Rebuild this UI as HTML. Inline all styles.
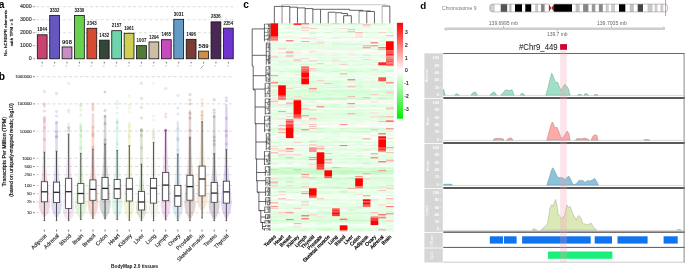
<!DOCTYPE html>
<html><head><meta charset="utf-8"><style>
html,body{margin:0;padding:0;background:#fff;overflow:hidden;width:685px;height:269px;}
svg{display:block;will-change:transform;font-family:"Liberation Sans", sans-serif;}
</style></head><body>
<svg width="685" height="269" viewBox="0 0 685 269">
<rect width="685" height="269" fill="#fff"/>
<text x="-1.30" y="7.80" font-size="10.2" text-anchor="start" fill="#000" font-weight="bold">a</text>
<line x1="32.80" y1="58.80" x2="35.20" y2="58.80" stroke="#444" stroke-width="0.5"/>
<text x="31.70" y="60.30" font-size="5.3" text-anchor="end" fill="#333" stroke="#333" stroke-width="0.15">0</text>
<line x1="36.00" y1="45.77" x2="234.50" y2="45.77" stroke="#c6c6c6" stroke-width="0.6" stroke-dasharray="3.0,2.4"/>
<line x1="32.80" y1="45.77" x2="35.20" y2="45.77" stroke="#444" stroke-width="0.5"/>
<text x="31.70" y="47.27" font-size="5.3" text-anchor="end" fill="#333" stroke="#333" stroke-width="0.15">1000</text>
<line x1="36.00" y1="32.74" x2="234.50" y2="32.74" stroke="#c6c6c6" stroke-width="0.6" stroke-dasharray="3.0,2.4"/>
<line x1="32.80" y1="32.74" x2="35.20" y2="32.74" stroke="#444" stroke-width="0.5"/>
<text x="31.70" y="34.24" font-size="5.3" text-anchor="end" fill="#333" stroke="#333" stroke-width="0.15">2000</text>
<line x1="36.00" y1="19.71" x2="234.50" y2="19.71" stroke="#c6c6c6" stroke-width="0.6" stroke-dasharray="3.0,2.4"/>
<line x1="32.80" y1="19.71" x2="35.20" y2="19.71" stroke="#444" stroke-width="0.5"/>
<text x="31.70" y="21.21" font-size="5.3" text-anchor="end" fill="#333" stroke="#333" stroke-width="0.15">3000</text>
<line x1="36.00" y1="6.68" x2="234.50" y2="6.68" stroke="#c6c6c6" stroke-width="0.6" stroke-dasharray="3.0,2.4"/>
<line x1="32.80" y1="6.68" x2="35.20" y2="6.68" stroke="#444" stroke-width="0.5"/>
<text x="31.70" y="8.18" font-size="5.3" text-anchor="end" fill="#333" stroke="#333" stroke-width="0.15">4000</text>
<rect x="37.30" y="34.77" width="9.8" height="24.03" fill="#c8436f" stroke="#111" stroke-width="0.8"/>
<text x="42.20" y="31.37" font-size="4.9" text-anchor="middle" fill="#111" font-weight="bold" textLength="9.80" lengthAdjust="spacingAndGlyphs">1844</text>
<line x1="42.20" y1="61.80" x2="42.20" y2="63.40" stroke="#333" stroke-width="0.7"/>
<line x1="42.30" y1="65.20" x2="41.10" y2="66.50" stroke="#777" stroke-width="0.6"/>
<rect x="49.71" y="15.38" width="9.8" height="43.42" fill="#6556c0" stroke="#111" stroke-width="0.8"/>
<text x="54.61" y="11.98" font-size="4.9" text-anchor="middle" fill="#111" font-weight="bold" textLength="9.80" lengthAdjust="spacingAndGlyphs">3332</text>
<line x1="54.61" y1="61.80" x2="54.61" y2="63.40" stroke="#333" stroke-width="0.7"/>
<line x1="54.71" y1="65.20" x2="53.51" y2="66.50" stroke="#777" stroke-width="0.6"/>
<rect x="62.12" y="46.97" width="9.8" height="11.83" fill="#c98fc4" stroke="#111" stroke-width="0.8"/>
<text x="67.02" y="43.57" font-size="4.9" text-anchor="middle" fill="#111" font-weight="bold" textLength="9.80" lengthAdjust="spacingAndGlyphs">908</text>
<line x1="67.02" y1="61.80" x2="67.02" y2="63.40" stroke="#333" stroke-width="0.7"/>
<line x1="67.12" y1="65.20" x2="65.92" y2="66.50" stroke="#777" stroke-width="0.6"/>
<rect x="74.53" y="15.41" width="9.8" height="43.39" fill="#6ad14e" stroke="#111" stroke-width="0.8"/>
<text x="79.43" y="12.01" font-size="4.9" text-anchor="middle" fill="#111" font-weight="bold" textLength="9.80" lengthAdjust="spacingAndGlyphs">3330</text>
<line x1="79.43" y1="61.80" x2="79.43" y2="63.40" stroke="#333" stroke-width="0.7"/>
<line x1="79.53" y1="65.20" x2="78.33" y2="66.50" stroke="#777" stroke-width="0.6"/>
<rect x="86.94" y="28.27" width="9.8" height="30.53" fill="#d54a30" stroke="#111" stroke-width="0.8"/>
<text x="91.84" y="24.87" font-size="4.9" text-anchor="middle" fill="#111" font-weight="bold" textLength="9.80" lengthAdjust="spacingAndGlyphs">2343</text>
<line x1="91.84" y1="61.80" x2="91.84" y2="63.40" stroke="#333" stroke-width="0.7"/>
<line x1="91.94" y1="65.20" x2="90.74" y2="66.50" stroke="#777" stroke-width="0.6"/>
<rect x="99.35" y="40.14" width="9.8" height="18.66" fill="#34463a" stroke="#111" stroke-width="0.8"/>
<text x="104.25" y="36.74" font-size="4.9" text-anchor="middle" fill="#111" font-weight="bold" textLength="9.80" lengthAdjust="spacingAndGlyphs">1432</text>
<line x1="104.25" y1="61.80" x2="104.25" y2="63.40" stroke="#333" stroke-width="0.7"/>
<line x1="104.35" y1="65.20" x2="103.15" y2="66.50" stroke="#777" stroke-width="0.6"/>
<rect x="111.76" y="30.69" width="9.8" height="28.11" fill="#6fd3ae" stroke="#111" stroke-width="0.8"/>
<text x="116.66" y="27.29" font-size="4.9" text-anchor="middle" fill="#111" font-weight="bold" textLength="9.80" lengthAdjust="spacingAndGlyphs">2157</text>
<line x1="116.66" y1="61.80" x2="116.66" y2="63.40" stroke="#333" stroke-width="0.7"/>
<line x1="116.76" y1="65.20" x2="115.56" y2="66.50" stroke="#777" stroke-width="0.6"/>
<rect x="124.17" y="33.25" width="9.8" height="25.55" fill="#cfcf52" stroke="#111" stroke-width="0.8"/>
<text x="129.07" y="29.85" font-size="4.9" text-anchor="middle" fill="#111" font-weight="bold" textLength="9.80" lengthAdjust="spacingAndGlyphs">1961</text>
<line x1="129.07" y1="61.80" x2="129.07" y2="63.40" stroke="#333" stroke-width="0.7"/>
<line x1="129.17" y1="65.20" x2="127.97" y2="66.50" stroke="#777" stroke-width="0.6"/>
<rect x="136.58" y="45.68" width="9.8" height="13.12" fill="#527c33" stroke="#111" stroke-width="0.8"/>
<text x="141.48" y="42.28" font-size="4.9" text-anchor="middle" fill="#111" font-weight="bold" textLength="9.80" lengthAdjust="spacingAndGlyphs">1007</text>
<line x1="141.48" y1="61.80" x2="141.48" y2="63.40" stroke="#333" stroke-width="0.7"/>
<line x1="141.58" y1="65.20" x2="140.38" y2="66.50" stroke="#777" stroke-width="0.6"/>
<rect x="148.99" y="41.94" width="9.8" height="16.86" fill="#cdbfa6" stroke="#111" stroke-width="0.8"/>
<text x="153.89" y="38.54" font-size="4.9" text-anchor="middle" fill="#111" font-weight="bold" textLength="9.80" lengthAdjust="spacingAndGlyphs">1294</text>
<line x1="153.89" y1="61.80" x2="153.89" y2="63.40" stroke="#333" stroke-width="0.7"/>
<line x1="153.99" y1="65.20" x2="152.79" y2="66.50" stroke="#777" stroke-width="0.6"/>
<rect x="161.40" y="39.71" width="9.8" height="19.09" fill="#c64bbd" stroke="#111" stroke-width="0.8"/>
<text x="166.30" y="36.31" font-size="4.9" text-anchor="middle" fill="#111" font-weight="bold" textLength="9.80" lengthAdjust="spacingAndGlyphs">1465</text>
<line x1="166.30" y1="61.80" x2="166.30" y2="63.40" stroke="#333" stroke-width="0.7"/>
<line x1="166.40" y1="65.20" x2="165.20" y2="66.50" stroke="#777" stroke-width="0.6"/>
<rect x="173.81" y="19.31" width="9.8" height="39.49" fill="#649bc6" stroke="#111" stroke-width="0.8"/>
<text x="178.71" y="15.91" font-size="4.9" text-anchor="middle" fill="#111" font-weight="bold" textLength="9.80" lengthAdjust="spacingAndGlyphs">3031</text>
<line x1="178.71" y1="61.80" x2="178.71" y2="63.40" stroke="#333" stroke-width="0.7"/>
<line x1="178.81" y1="65.20" x2="177.61" y2="66.50" stroke="#777" stroke-width="0.6"/>
<rect x="186.22" y="39.31" width="9.8" height="19.49" fill="#7b3d33" stroke="#111" stroke-width="0.8"/>
<text x="191.12" y="35.91" font-size="4.9" text-anchor="middle" fill="#111" font-weight="bold" textLength="9.80" lengthAdjust="spacingAndGlyphs">1496</text>
<line x1="191.12" y1="61.80" x2="191.12" y2="63.40" stroke="#333" stroke-width="0.7"/>
<line x1="191.22" y1="65.20" x2="190.02" y2="66.50" stroke="#777" stroke-width="0.6"/>
<rect x="198.63" y="51.13" width="9.8" height="7.67" fill="#d08e45" stroke="#111" stroke-width="0.8"/>
<text x="203.53" y="47.73" font-size="4.9" text-anchor="middle" fill="#111" font-weight="bold" textLength="9.80" lengthAdjust="spacingAndGlyphs">589</text>
<line x1="203.53" y1="61.80" x2="203.53" y2="63.40" stroke="#333" stroke-width="0.7"/>
<line x1="203.63" y1="65.20" x2="200.53" y2="68.60" stroke="#777" stroke-width="0.6"/>
<rect x="211.04" y="21.85" width="9.8" height="36.95" fill="#4a2754" stroke="#111" stroke-width="0.8"/>
<text x="215.94" y="18.45" font-size="4.9" text-anchor="middle" fill="#111" font-weight="bold" textLength="9.80" lengthAdjust="spacingAndGlyphs">2836</text>
<line x1="215.94" y1="61.80" x2="215.94" y2="63.40" stroke="#333" stroke-width="0.7"/>
<line x1="216.04" y1="65.20" x2="214.84" y2="66.50" stroke="#777" stroke-width="0.6"/>
<rect x="223.45" y="28.13" width="9.8" height="30.67" fill="#6f33cf" stroke="#111" stroke-width="0.8"/>
<text x="228.35" y="24.73" font-size="4.9" text-anchor="middle" fill="#111" font-weight="bold" textLength="9.80" lengthAdjust="spacingAndGlyphs">2354</text>
<line x1="228.35" y1="61.80" x2="228.35" y2="63.40" stroke="#333" stroke-width="0.7"/>
<line x1="228.45" y1="65.20" x2="227.25" y2="66.50" stroke="#777" stroke-width="0.6"/>
<text x="6.80" y="33.00" font-size="4.4" text-anchor="middle" fill="#111" transform="rotate(-90 6.80 33.00)" textLength="46.00" lengthAdjust="spacingAndGlyphs" stroke="#111" stroke-width="0.18">No. hCRISPR elements</text>
<text x="13.00" y="32.50" font-size="4.4" text-anchor="middle" fill="#111" transform="rotate(-90 13.00 32.50)" textLength="27.00" lengthAdjust="spacingAndGlyphs" stroke="#111" stroke-width="0.18">with TPM &gt; 5</text>
<text x="-1.20" y="79.60" font-size="10.2" text-anchor="start" fill="#000" font-weight="bold">b</text>
<line x1="36.00" y1="76.70" x2="233.60" y2="76.70" stroke="#c6c6c6" stroke-width="0.6" stroke-dasharray="3.2,2.3"/>
<line x1="33.00" y1="76.70" x2="34.90" y2="76.70" stroke="#333" stroke-width="0.6"/>
<text x="31.70" y="78.20" font-size="4.25" text-anchor="end" fill="#333" stroke="#333" stroke-width="0.1">1000000</text>
<line x1="36.00" y1="103.90" x2="233.60" y2="103.90" stroke="#c6c6c6" stroke-width="0.6" stroke-dasharray="3.2,2.3"/>
<line x1="33.00" y1="103.90" x2="34.90" y2="103.90" stroke="#333" stroke-width="0.6"/>
<text x="31.70" y="105.40" font-size="4.25" text-anchor="end" fill="#333" stroke="#333" stroke-width="0.1">100000</text>
<line x1="36.00" y1="131.10" x2="233.60" y2="131.10" stroke="#c6c6c6" stroke-width="0.6" stroke-dasharray="3.2,2.3"/>
<line x1="33.00" y1="131.10" x2="34.90" y2="131.10" stroke="#333" stroke-width="0.6"/>
<text x="31.70" y="132.60" font-size="4.25" text-anchor="end" fill="#333" stroke="#333" stroke-width="0.1">10000</text>
<line x1="36.00" y1="158.30" x2="233.60" y2="158.30" stroke="#c6c6c6" stroke-width="0.6" stroke-dasharray="3.2,2.3"/>
<line x1="33.00" y1="158.30" x2="34.90" y2="158.30" stroke="#333" stroke-width="0.6"/>
<text x="31.70" y="159.80" font-size="4.25" text-anchor="end" fill="#333" stroke="#333" stroke-width="0.1">1000</text>
<line x1="36.00" y1="166.49" x2="233.60" y2="166.49" stroke="#c6c6c6" stroke-width="0.6" stroke-dasharray="3.2,2.3"/>
<line x1="33.00" y1="166.49" x2="34.90" y2="166.49" stroke="#333" stroke-width="0.6"/>
<text x="31.70" y="167.99" font-size="4.25" text-anchor="end" fill="#333" stroke="#333" stroke-width="0.1">500</text>
<line x1="36.00" y1="174.68" x2="233.60" y2="174.68" stroke="#c6c6c6" stroke-width="0.6" stroke-dasharray="3.2,2.3"/>
<line x1="33.00" y1="174.68" x2="34.90" y2="174.68" stroke="#333" stroke-width="0.6"/>
<text x="31.70" y="176.18" font-size="4.25" text-anchor="end" fill="#333" stroke="#333" stroke-width="0.1">250</text>
<line x1="36.00" y1="185.50" x2="233.60" y2="185.50" stroke="#c6c6c6" stroke-width="0.6" stroke-dasharray="3.2,2.3"/>
<line x1="33.00" y1="185.50" x2="34.90" y2="185.50" stroke="#333" stroke-width="0.6"/>
<text x="31.70" y="187.00" font-size="4.25" text-anchor="end" fill="#333" stroke="#333" stroke-width="0.1">100</text>
<line x1="36.00" y1="193.69" x2="233.60" y2="193.69" stroke="#c6c6c6" stroke-width="0.6" stroke-dasharray="3.2,2.3"/>
<line x1="33.00" y1="193.69" x2="34.90" y2="193.69" stroke="#333" stroke-width="0.6"/>
<text x="31.70" y="195.19" font-size="4.25" text-anchor="end" fill="#333" stroke="#333" stroke-width="0.1">50</text>
<line x1="36.00" y1="201.88" x2="233.60" y2="201.88" stroke="#c6c6c6" stroke-width="0.6" stroke-dasharray="3.2,2.3"/>
<line x1="33.00" y1="201.88" x2="34.90" y2="201.88" stroke="#333" stroke-width="0.6"/>
<text x="31.70" y="203.38" font-size="4.25" text-anchor="end" fill="#333" stroke="#333" stroke-width="0.1">25</text>
<line x1="36.00" y1="212.70" x2="233.60" y2="212.70" stroke="#c6c6c6" stroke-width="0.6" stroke-dasharray="3.2,2.3"/>
<line x1="33.00" y1="212.70" x2="34.90" y2="212.70" stroke="#333" stroke-width="0.6"/>
<text x="31.70" y="214.20" font-size="4.25" text-anchor="end" fill="#333" stroke="#333" stroke-width="0.1">10</text>
<polygon points="45.30,116.00 45.60,118.00 45.75,152.20 46.20,166.95 47.20,178.70 48.00,181.70 49.00,191.80 49.80,201.80 50.00,206.00 48.99,210.95 47.20,214.25 45.63,216.20 44.40,217.00 44.40,217.00 43.17,216.20 41.60,214.25 39.81,210.95 38.80,206.00 39.00,201.80 39.80,191.80 40.80,181.70 41.60,178.70 42.60,166.95 43.05,152.20 43.20,118.00 43.50,116.00" fill="#c8436f" fill-opacity="0.22"/>
<circle cx="44.40" cy="91.50" r="1.2" fill="#c8436f" fill-opacity="0.12" stroke="#c8436f" stroke-opacity="0.26" stroke-width="0.5"/>
<circle cx="44.40" cy="104.00" r="1.2" fill="#c8436f" fill-opacity="0.12" stroke="#c8436f" stroke-opacity="0.26" stroke-width="0.5"/>
<circle cx="44.40" cy="106.00" r="1.2" fill="#c8436f" fill-opacity="0.12" stroke="#c8436f" stroke-opacity="0.26" stroke-width="0.5"/>
<circle cx="44.40" cy="111.00" r="1.2" fill="#c8436f" fill-opacity="0.12" stroke="#c8436f" stroke-opacity="0.26" stroke-width="0.5"/>
<circle cx="44.40" cy="127.72" r="1.2" fill="#c8436f" fill-opacity="0.12" stroke="#c8436f" stroke-opacity="0.26" stroke-width="0.5"/>
<circle cx="44.40" cy="121.46" r="1.2" fill="#c8436f" fill-opacity="0.12" stroke="#c8436f" stroke-opacity="0.26" stroke-width="0.5"/>
<circle cx="44.40" cy="139.56" r="1.2" fill="#c8436f" fill-opacity="0.12" stroke="#c8436f" stroke-opacity="0.26" stroke-width="0.5"/>
<circle cx="44.40" cy="118.62" r="1.2" fill="#c8436f" fill-opacity="0.12" stroke="#c8436f" stroke-opacity="0.26" stroke-width="0.5"/>
<line x1="44.40" y1="152.20" x2="44.40" y2="220.60" stroke="#464646" stroke-width="0.95"/>
<line x1="43.50" y1="152.20" x2="45.30" y2="152.20" stroke="#464646" stroke-width="0.7"/>
<line x1="43.50" y1="220.60" x2="45.30" y2="220.60" stroke="#464646" stroke-width="0.7"/>
<rect x="41.35" y="181.70" width="6.1" height="20.10" fill="#fff" stroke="#444" stroke-width="0.85"/>
<line x1="41.35" y1="191.80" x2="47.45" y2="191.80" stroke="#222" stroke-width="1.3"/>
<line x1="44.40" y1="229.60" x2="44.40" y2="231.50" stroke="#333" stroke-width="0.7"/>
<text x="47.30" y="236.00" font-size="5.5" text-anchor="end" fill="#222" transform="rotate(-45 47.30 236.00)" stroke="#222" stroke-width="0.12">Adipose</text>
<polygon points="57.43,121.00 57.73,123.00 57.88,151.20 58.33,166.65 59.33,179.10 60.13,182.10 61.13,192.30 61.63,202.50 61.83,205.00 60.88,210.85 59.18,214.75 57.70,217.20 56.53,218.00 56.53,218.00 55.36,217.20 53.88,214.75 52.18,210.85 51.23,205.00 51.43,202.50 51.93,192.30 52.93,182.10 53.73,179.10 54.73,166.65 55.18,151.20 55.33,123.00 55.63,121.00" fill="#6556c0" fill-opacity="0.22"/>
<circle cx="56.53" cy="93.50" r="1.2" fill="#6556c0" fill-opacity="0.12" stroke="#6556c0" stroke-opacity="0.26" stroke-width="0.5"/>
<circle cx="56.53" cy="111.50" r="1.2" fill="#6556c0" fill-opacity="0.12" stroke="#6556c0" stroke-opacity="0.26" stroke-width="0.5"/>
<circle cx="56.53" cy="116.00" r="1.2" fill="#6556c0" fill-opacity="0.12" stroke="#6556c0" stroke-opacity="0.26" stroke-width="0.5"/>
<circle cx="56.53" cy="137.18" r="1.2" fill="#6556c0" fill-opacity="0.12" stroke="#6556c0" stroke-opacity="0.26" stroke-width="0.5"/>
<circle cx="56.53" cy="132.04" r="1.2" fill="#6556c0" fill-opacity="0.12" stroke="#6556c0" stroke-opacity="0.26" stroke-width="0.5"/>
<circle cx="56.53" cy="122.75" r="1.2" fill="#6556c0" fill-opacity="0.12" stroke="#6556c0" stroke-opacity="0.26" stroke-width="0.5"/>
<circle cx="56.53" cy="136.32" r="1.2" fill="#6556c0" fill-opacity="0.12" stroke="#6556c0" stroke-opacity="0.26" stroke-width="0.5"/>
<line x1="56.53" y1="151.20" x2="56.53" y2="220.60" stroke="#464646" stroke-width="0.95"/>
<line x1="55.63" y1="151.20" x2="57.43" y2="151.20" stroke="#464646" stroke-width="0.7"/>
<line x1="55.63" y1="220.60" x2="57.43" y2="220.60" stroke="#464646" stroke-width="0.7"/>
<rect x="53.48" y="182.10" width="6.1" height="20.40" fill="#fff" stroke="#444" stroke-width="0.85"/>
<line x1="53.48" y1="192.30" x2="59.58" y2="192.30" stroke="#222" stroke-width="1.3"/>
<line x1="56.53" y1="229.60" x2="56.53" y2="231.50" stroke="#333" stroke-width="0.7"/>
<text x="59.43" y="236.00" font-size="5.5" text-anchor="end" fill="#222" transform="rotate(-45 59.43 236.00)" stroke="#222" stroke-width="0.12">Adrenal</text>
<polygon points="69.56,127.00 69.86,129.00 70.01,134.30 70.46,156.30 71.46,175.30 72.26,178.30 73.26,191.70 74.06,208.50 74.26,212.00 73.25,215.82 71.46,218.38 69.89,219.70 68.66,220.50 68.66,220.50 67.43,219.70 65.86,218.38 64.07,215.82 63.06,212.00 63.26,208.50 64.06,191.70 65.06,178.30 65.86,175.30 66.86,156.30 67.31,134.30 67.46,129.00 67.76,127.00" fill="#c98fc4" fill-opacity="0.22"/>
<circle cx="68.66" cy="83.50" r="1.2" fill="#c98fc4" fill-opacity="0.12" stroke="#c98fc4" stroke-opacity="0.26" stroke-width="0.5"/>
<circle cx="68.66" cy="110.00" r="1.2" fill="#c98fc4" fill-opacity="0.12" stroke="#c98fc4" stroke-opacity="0.26" stroke-width="0.5"/>
<circle cx="68.66" cy="112.00" r="1.2" fill="#c98fc4" fill-opacity="0.12" stroke="#c98fc4" stroke-opacity="0.26" stroke-width="0.5"/>
<circle cx="68.66" cy="124.00" r="1.2" fill="#c98fc4" fill-opacity="0.12" stroke="#c98fc4" stroke-opacity="0.26" stroke-width="0.5"/>
<circle cx="68.66" cy="127.27" r="1.2" fill="#c98fc4" fill-opacity="0.12" stroke="#c98fc4" stroke-opacity="0.26" stroke-width="0.5"/>
<circle cx="68.66" cy="130.17" r="1.2" fill="#c98fc4" fill-opacity="0.12" stroke="#c98fc4" stroke-opacity="0.26" stroke-width="0.5"/>
<circle cx="68.66" cy="127.51" r="1.2" fill="#c98fc4" fill-opacity="0.12" stroke="#c98fc4" stroke-opacity="0.26" stroke-width="0.5"/>
<circle cx="68.66" cy="127.66" r="1.2" fill="#c98fc4" fill-opacity="0.12" stroke="#c98fc4" stroke-opacity="0.26" stroke-width="0.5"/>
<line x1="68.66" y1="134.30" x2="68.66" y2="220.60" stroke="#464646" stroke-width="0.95"/>
<line x1="67.76" y1="134.30" x2="69.56" y2="134.30" stroke="#464646" stroke-width="0.7"/>
<line x1="67.76" y1="220.60" x2="69.56" y2="220.60" stroke="#464646" stroke-width="0.7"/>
<rect x="65.61" y="178.30" width="6.1" height="30.20" fill="#fff" stroke="#444" stroke-width="0.85"/>
<line x1="65.61" y1="191.70" x2="71.71" y2="191.70" stroke="#222" stroke-width="1.3"/>
<line x1="68.66" y1="229.60" x2="68.66" y2="231.50" stroke="#333" stroke-width="0.7"/>
<text x="71.56" y="236.00" font-size="5.5" text-anchor="end" fill="#222" transform="rotate(-45 71.56 236.00)" stroke="#222" stroke-width="0.12">Blood</text>
<polygon points="81.69,123.00 81.99,125.00 82.14,153.40 82.59,168.50 83.59,180.60 84.39,183.60 85.39,193.50 86.39,203.30 86.59,206.00 85.55,211.85 83.69,215.75 82.07,218.20 80.79,219.00 80.79,219.00 79.51,218.20 77.89,215.75 76.03,211.85 74.99,206.00 75.19,203.30 76.19,193.50 77.19,183.60 77.99,180.60 78.99,168.50 79.44,153.40 79.59,125.00 79.89,123.00" fill="#6ad14e" fill-opacity="0.22"/>
<circle cx="80.79" cy="104.50" r="1.2" fill="#6ad14e" fill-opacity="0.12" stroke="#6ad14e" stroke-opacity="0.26" stroke-width="0.5"/>
<circle cx="80.79" cy="106.00" r="1.2" fill="#6ad14e" fill-opacity="0.12" stroke="#6ad14e" stroke-opacity="0.26" stroke-width="0.5"/>
<circle cx="80.79" cy="110.00" r="1.2" fill="#6ad14e" fill-opacity="0.12" stroke="#6ad14e" stroke-opacity="0.26" stroke-width="0.5"/>
<circle cx="80.79" cy="115.00" r="1.2" fill="#6ad14e" fill-opacity="0.12" stroke="#6ad14e" stroke-opacity="0.26" stroke-width="0.5"/>
<circle cx="80.79" cy="135.91" r="1.2" fill="#6ad14e" fill-opacity="0.12" stroke="#6ad14e" stroke-opacity="0.26" stroke-width="0.5"/>
<circle cx="80.79" cy="148.14" r="1.2" fill="#6ad14e" fill-opacity="0.12" stroke="#6ad14e" stroke-opacity="0.26" stroke-width="0.5"/>
<circle cx="80.79" cy="126.76" r="1.2" fill="#6ad14e" fill-opacity="0.12" stroke="#6ad14e" stroke-opacity="0.26" stroke-width="0.5"/>
<circle cx="80.79" cy="129.79" r="1.2" fill="#6ad14e" fill-opacity="0.12" stroke="#6ad14e" stroke-opacity="0.26" stroke-width="0.5"/>
<line x1="80.79" y1="153.40" x2="80.79" y2="219.60" stroke="#464646" stroke-width="0.95"/>
<line x1="79.89" y1="153.40" x2="81.69" y2="153.40" stroke="#464646" stroke-width="0.7"/>
<line x1="79.89" y1="219.60" x2="81.69" y2="219.60" stroke="#464646" stroke-width="0.7"/>
<rect x="77.74" y="183.60" width="6.1" height="19.70" fill="#fff" stroke="#444" stroke-width="0.85"/>
<line x1="77.74" y1="193.50" x2="83.84" y2="193.50" stroke="#222" stroke-width="1.3"/>
<line x1="80.79" y1="229.60" x2="80.79" y2="231.50" stroke="#333" stroke-width="0.7"/>
<text x="83.69" y="236.00" font-size="5.5" text-anchor="end" fill="#222" transform="rotate(-45 83.69 236.00)" stroke="#222" stroke-width="0.12">Brain</text>
<polygon points="93.82,113.00 94.12,115.00 94.27,149.20 94.72,164.55 95.72,176.90 96.52,179.90 97.52,189.40 98.02,200.30 98.22,205.00 97.27,210.85 95.57,214.75 94.09,217.20 92.92,218.00 92.92,218.00 91.75,217.20 90.27,214.75 88.57,210.85 87.62,205.00 87.82,200.30 88.32,189.40 89.32,179.90 90.12,176.90 91.12,164.55 91.57,149.20 91.72,115.00 92.02,113.00" fill="#d54a30" fill-opacity="0.22"/>
<circle cx="92.92" cy="104.00" r="1.2" fill="#d54a30" fill-opacity="0.12" stroke="#d54a30" stroke-opacity="0.26" stroke-width="0.5"/>
<circle cx="92.92" cy="106.00" r="1.2" fill="#d54a30" fill-opacity="0.12" stroke="#d54a30" stroke-opacity="0.26" stroke-width="0.5"/>
<circle cx="92.92" cy="108.00" r="1.2" fill="#d54a30" fill-opacity="0.12" stroke="#d54a30" stroke-opacity="0.26" stroke-width="0.5"/>
<circle cx="92.92" cy="110.00" r="1.2" fill="#d54a30" fill-opacity="0.12" stroke="#d54a30" stroke-opacity="0.26" stroke-width="0.5"/>
<circle cx="92.92" cy="135.71" r="1.2" fill="#d54a30" fill-opacity="0.12" stroke="#d54a30" stroke-opacity="0.26" stroke-width="0.5"/>
<circle cx="92.92" cy="147.31" r="1.2" fill="#d54a30" fill-opacity="0.12" stroke="#d54a30" stroke-opacity="0.26" stroke-width="0.5"/>
<circle cx="92.92" cy="133.89" r="1.2" fill="#d54a30" fill-opacity="0.12" stroke="#d54a30" stroke-opacity="0.26" stroke-width="0.5"/>
<circle cx="92.92" cy="127.36" r="1.2" fill="#d54a30" fill-opacity="0.12" stroke="#d54a30" stroke-opacity="0.26" stroke-width="0.5"/>
<line x1="92.92" y1="149.20" x2="92.92" y2="218.40" stroke="#464646" stroke-width="0.95"/>
<line x1="92.02" y1="149.20" x2="93.82" y2="149.20" stroke="#464646" stroke-width="0.7"/>
<line x1="92.02" y1="218.40" x2="93.82" y2="218.40" stroke="#464646" stroke-width="0.7"/>
<rect x="89.87" y="179.90" width="6.1" height="20.40" fill="#fff" stroke="#444" stroke-width="0.85"/>
<line x1="89.87" y1="189.40" x2="95.97" y2="189.40" stroke="#222" stroke-width="1.3"/>
<line x1="92.92" y1="229.60" x2="92.92" y2="231.50" stroke="#333" stroke-width="0.7"/>
<text x="95.82" y="236.00" font-size="5.5" text-anchor="end" fill="#222" transform="rotate(-45 95.82 236.00)" stroke="#222" stroke-width="0.12">Breast</text>
<polygon points="105.95,115.00 106.25,117.00 106.40,144.20 106.85,160.85 107.85,174.50 108.65,177.50 109.65,188.40 110.35,199.60 110.55,205.00 109.56,211.07 107.80,215.12 106.26,217.70 105.05,218.50 105.05,218.50 103.84,217.70 102.30,215.12 100.54,211.07 99.55,205.00 99.75,199.60 100.45,188.40 101.45,177.50 102.25,174.50 103.25,160.85 103.70,144.20 103.85,117.00 104.15,115.00" fill="#34463a" fill-opacity="0.22"/>
<circle cx="105.05" cy="92.00" r="1.2" fill="#34463a" fill-opacity="0.12" stroke="#34463a" stroke-opacity="0.26" stroke-width="0.5"/>
<circle cx="105.05" cy="110.50" r="1.2" fill="#34463a" fill-opacity="0.12" stroke="#34463a" stroke-opacity="0.26" stroke-width="0.5"/>
<circle cx="105.05" cy="143.51" r="1.2" fill="#34463a" fill-opacity="0.12" stroke="#34463a" stroke-opacity="0.26" stroke-width="0.5"/>
<circle cx="105.05" cy="116.36" r="1.2" fill="#34463a" fill-opacity="0.12" stroke="#34463a" stroke-opacity="0.26" stroke-width="0.5"/>
<circle cx="105.05" cy="140.07" r="1.2" fill="#34463a" fill-opacity="0.12" stroke="#34463a" stroke-opacity="0.26" stroke-width="0.5"/>
<circle cx="105.05" cy="123.46" r="1.2" fill="#34463a" fill-opacity="0.12" stroke="#34463a" stroke-opacity="0.26" stroke-width="0.5"/>
<line x1="105.05" y1="144.20" x2="105.05" y2="218.80" stroke="#464646" stroke-width="0.95"/>
<line x1="104.15" y1="144.20" x2="105.95" y2="144.20" stroke="#464646" stroke-width="0.7"/>
<line x1="104.15" y1="218.80" x2="105.95" y2="218.80" stroke="#464646" stroke-width="0.7"/>
<rect x="102.00" y="177.50" width="6.1" height="22.10" fill="#fff" stroke="#444" stroke-width="0.85"/>
<line x1="102.00" y1="188.40" x2="108.10" y2="188.40" stroke="#222" stroke-width="1.3"/>
<line x1="105.05" y1="229.60" x2="105.05" y2="231.50" stroke="#333" stroke-width="0.7"/>
<text x="107.95" y="236.00" font-size="5.5" text-anchor="end" fill="#222" transform="rotate(-45 107.95 236.00)" stroke="#222" stroke-width="0.12">Colon</text>
<polygon points="118.08,118.00 118.38,120.00 118.53,150.40 118.98,164.95 119.98,176.50 120.78,179.50 121.78,188.80 122.38,198.40 122.58,203.00 121.61,210.20 119.88,215.00 118.37,218.20 117.18,219.00 117.18,219.00 115.99,218.20 114.48,215.00 112.75,210.20 111.78,203.00 111.98,198.40 112.58,188.80 113.58,179.50 114.38,176.50 115.38,164.95 115.83,150.40 115.98,120.00 116.28,118.00" fill="#6fd3ae" fill-opacity="0.22"/>
<circle cx="117.18" cy="101.50" r="1.2" fill="#6fd3ae" fill-opacity="0.12" stroke="#6fd3ae" stroke-opacity="0.26" stroke-width="0.5"/>
<circle cx="117.18" cy="104.00" r="1.2" fill="#6fd3ae" fill-opacity="0.12" stroke="#6fd3ae" stroke-opacity="0.26" stroke-width="0.5"/>
<circle cx="117.18" cy="108.00" r="1.2" fill="#6fd3ae" fill-opacity="0.12" stroke="#6fd3ae" stroke-opacity="0.26" stroke-width="0.5"/>
<circle cx="117.18" cy="113.00" r="1.2" fill="#6fd3ae" fill-opacity="0.12" stroke="#6fd3ae" stroke-opacity="0.26" stroke-width="0.5"/>
<circle cx="117.18" cy="122.67" r="1.2" fill="#6fd3ae" fill-opacity="0.12" stroke="#6fd3ae" stroke-opacity="0.26" stroke-width="0.5"/>
<circle cx="117.18" cy="121.82" r="1.2" fill="#6fd3ae" fill-opacity="0.12" stroke="#6fd3ae" stroke-opacity="0.26" stroke-width="0.5"/>
<circle cx="117.18" cy="127.99" r="1.2" fill="#6fd3ae" fill-opacity="0.12" stroke="#6fd3ae" stroke-opacity="0.26" stroke-width="0.5"/>
<circle cx="117.18" cy="144.44" r="1.2" fill="#6fd3ae" fill-opacity="0.12" stroke="#6fd3ae" stroke-opacity="0.26" stroke-width="0.5"/>
<line x1="117.18" y1="150.40" x2="117.18" y2="219.60" stroke="#464646" stroke-width="0.95"/>
<line x1="116.28" y1="150.40" x2="118.08" y2="150.40" stroke="#464646" stroke-width="0.7"/>
<line x1="116.28" y1="219.60" x2="118.08" y2="219.60" stroke="#464646" stroke-width="0.7"/>
<rect x="114.13" y="179.50" width="6.1" height="18.90" fill="#fff" stroke="#444" stroke-width="0.85"/>
<line x1="114.13" y1="188.80" x2="120.23" y2="188.80" stroke="#222" stroke-width="1.3"/>
<line x1="117.18" y1="229.60" x2="117.18" y2="231.50" stroke="#333" stroke-width="0.7"/>
<text x="120.08" y="236.00" font-size="5.5" text-anchor="end" fill="#222" transform="rotate(-45 120.08 236.00)" stroke="#222" stroke-width="0.12">Heart</text>
<polygon points="130.21,122.00 130.51,124.00 130.66,145.70 131.11,162.00 132.11,175.30 132.91,178.30 133.91,189.00 134.51,201.00 134.71,205.00 133.74,211.53 132.01,215.88 130.50,218.70 129.31,219.50 129.31,219.50 128.12,218.70 126.61,215.88 124.88,211.53 123.91,205.00 124.11,201.00 124.71,189.00 125.71,178.30 126.51,175.30 127.51,162.00 127.96,145.70 128.11,124.00 128.41,122.00" fill="#cfcf52" fill-opacity="0.22"/>
<circle cx="129.31" cy="96.00" r="1.2" fill="#cfcf52" fill-opacity="0.12" stroke="#cfcf52" stroke-opacity="0.26" stroke-width="0.5"/>
<circle cx="129.31" cy="105.00" r="1.2" fill="#cfcf52" fill-opacity="0.12" stroke="#cfcf52" stroke-opacity="0.26" stroke-width="0.5"/>
<circle cx="129.31" cy="108.00" r="1.2" fill="#cfcf52" fill-opacity="0.12" stroke="#cfcf52" stroke-opacity="0.26" stroke-width="0.5"/>
<circle cx="129.31" cy="112.00" r="1.2" fill="#cfcf52" fill-opacity="0.12" stroke="#cfcf52" stroke-opacity="0.26" stroke-width="0.5"/>
<circle cx="129.31" cy="126.28" r="1.2" fill="#cfcf52" fill-opacity="0.12" stroke="#cfcf52" stroke-opacity="0.26" stroke-width="0.5"/>
<circle cx="129.31" cy="135.78" r="1.2" fill="#cfcf52" fill-opacity="0.12" stroke="#cfcf52" stroke-opacity="0.26" stroke-width="0.5"/>
<circle cx="129.31" cy="137.14" r="1.2" fill="#cfcf52" fill-opacity="0.12" stroke="#cfcf52" stroke-opacity="0.26" stroke-width="0.5"/>
<circle cx="129.31" cy="130.83" r="1.2" fill="#cfcf52" fill-opacity="0.12" stroke="#cfcf52" stroke-opacity="0.26" stroke-width="0.5"/>
<line x1="129.31" y1="145.70" x2="129.31" y2="220.30" stroke="#464646" stroke-width="0.95"/>
<line x1="128.41" y1="145.70" x2="130.21" y2="145.70" stroke="#464646" stroke-width="0.7"/>
<line x1="128.41" y1="220.30" x2="130.21" y2="220.30" stroke="#464646" stroke-width="0.7"/>
<rect x="126.26" y="178.30" width="6.1" height="22.70" fill="#fff" stroke="#444" stroke-width="0.85"/>
<line x1="126.26" y1="189.00" x2="132.36" y2="189.00" stroke="#222" stroke-width="1.3"/>
<line x1="129.31" y1="229.60" x2="129.31" y2="231.50" stroke="#333" stroke-width="0.7"/>
<text x="132.21" y="236.00" font-size="5.5" text-anchor="end" fill="#222" transform="rotate(-45 132.21 236.00)" stroke="#222" stroke-width="0.12">Kidney</text>
<polygon points="142.34,128.00 142.64,130.00 142.79,164.10 143.24,177.75 144.24,188.40 145.04,191.40 146.04,202.00 146.94,208.00 145.95,213.40 144.19,217.00 142.65,219.20 141.44,220.00 141.44,220.00 140.23,219.20 138.69,217.00 136.93,213.40 135.94,208.00 136.84,202.00 137.84,191.40 138.64,188.40 139.64,177.75 140.09,164.10 140.24,130.00 140.54,128.00" fill="#527c33" fill-opacity="0.22"/>
<circle cx="141.44" cy="83.40" r="1.2" fill="#527c33" fill-opacity="0.12" stroke="#527c33" stroke-opacity="0.26" stroke-width="0.5"/>
<circle cx="141.44" cy="98.40" r="1.2" fill="#527c33" fill-opacity="0.12" stroke="#527c33" stroke-opacity="0.26" stroke-width="0.5"/>
<circle cx="141.44" cy="107.60" r="1.2" fill="#527c33" fill-opacity="0.12" stroke="#527c33" stroke-opacity="0.26" stroke-width="0.5"/>
<circle cx="141.44" cy="118.00" r="1.2" fill="#527c33" fill-opacity="0.12" stroke="#527c33" stroke-opacity="0.26" stroke-width="0.5"/>
<circle cx="141.44" cy="147.77" r="1.2" fill="#527c33" fill-opacity="0.12" stroke="#527c33" stroke-opacity="0.26" stroke-width="0.5"/>
<circle cx="141.44" cy="130.27" r="1.2" fill="#527c33" fill-opacity="0.12" stroke="#527c33" stroke-opacity="0.26" stroke-width="0.5"/>
<circle cx="141.44" cy="130.15" r="1.2" fill="#527c33" fill-opacity="0.12" stroke="#527c33" stroke-opacity="0.26" stroke-width="0.5"/>
<circle cx="141.44" cy="135.44" r="1.2" fill="#527c33" fill-opacity="0.12" stroke="#527c33" stroke-opacity="0.26" stroke-width="0.5"/>
<line x1="141.44" y1="164.10" x2="141.44" y2="220.60" stroke="#464646" stroke-width="0.95"/>
<line x1="140.54" y1="164.10" x2="142.34" y2="164.10" stroke="#464646" stroke-width="0.7"/>
<line x1="140.54" y1="220.60" x2="142.34" y2="220.60" stroke="#464646" stroke-width="0.7"/>
<rect x="138.39" y="191.40" width="6.1" height="18.60" fill="#fff" stroke="#444" stroke-width="0.85"/>
<line x1="138.39" y1="202.00" x2="144.49" y2="202.00" stroke="#222" stroke-width="1.3"/>
<line x1="141.44" y1="229.60" x2="141.44" y2="231.50" stroke="#333" stroke-width="0.7"/>
<text x="144.34" y="236.00" font-size="5.5" text-anchor="end" fill="#222" transform="rotate(-45 144.34 236.00)" stroke="#222" stroke-width="0.12">Liver</text>
<polygon points="154.47,128.00 154.77,130.00 154.92,142.40 155.37,160.45 156.37,175.50 157.17,178.50 158.17,188.20 158.37,203.10 158.57,205.00 157.67,211.53 156.07,215.88 154.67,218.70 153.57,219.50 153.57,219.50 152.47,218.70 151.07,215.88 149.47,211.53 148.57,205.00 148.77,203.10 148.97,188.20 149.97,178.50 150.77,175.50 151.77,160.45 152.22,142.40 152.37,130.00 152.67,128.00" fill="#cdbfa6" fill-opacity="0.22"/>
<circle cx="153.57" cy="83.40" r="1.2" fill="#cdbfa6" fill-opacity="0.12" stroke="#cdbfa6" stroke-opacity="0.26" stroke-width="0.5"/>
<circle cx="153.57" cy="116.00" r="1.2" fill="#cdbfa6" fill-opacity="0.12" stroke="#cdbfa6" stroke-opacity="0.26" stroke-width="0.5"/>
<circle cx="153.57" cy="120.00" r="1.2" fill="#cdbfa6" fill-opacity="0.12" stroke="#cdbfa6" stroke-opacity="0.26" stroke-width="0.5"/>
<circle cx="153.57" cy="137.80" r="1.2" fill="#cdbfa6" fill-opacity="0.12" stroke="#cdbfa6" stroke-opacity="0.26" stroke-width="0.5"/>
<circle cx="153.57" cy="134.16" r="1.2" fill="#cdbfa6" fill-opacity="0.12" stroke="#cdbfa6" stroke-opacity="0.26" stroke-width="0.5"/>
<circle cx="153.57" cy="132.52" r="1.2" fill="#cdbfa6" fill-opacity="0.12" stroke="#cdbfa6" stroke-opacity="0.26" stroke-width="0.5"/>
<circle cx="153.57" cy="136.43" r="1.2" fill="#cdbfa6" fill-opacity="0.12" stroke="#cdbfa6" stroke-opacity="0.26" stroke-width="0.5"/>
<line x1="153.57" y1="142.40" x2="153.57" y2="220.60" stroke="#464646" stroke-width="0.95"/>
<line x1="152.67" y1="142.40" x2="154.47" y2="142.40" stroke="#464646" stroke-width="0.7"/>
<line x1="152.67" y1="220.60" x2="154.47" y2="220.60" stroke="#464646" stroke-width="0.7"/>
<rect x="150.52" y="178.50" width="6.1" height="24.60" fill="#fff" stroke="#444" stroke-width="0.85"/>
<line x1="150.52" y1="188.20" x2="156.62" y2="188.20" stroke="#222" stroke-width="1.3"/>
<line x1="153.57" y1="229.60" x2="153.57" y2="231.50" stroke="#333" stroke-width="0.7"/>
<text x="156.47" y="236.00" font-size="5.5" text-anchor="end" fill="#222" transform="rotate(-45 156.47 236.00)" stroke="#222" stroke-width="0.12">Lung</text>
<polygon points="166.60,130.00 167.05,130.40 166.90,132.00 167.50,151.45 168.50,169.50 169.30,172.50 170.30,185.10 170.50,200.70 170.70,205.00 169.80,211.53 168.20,215.88 166.80,218.70 165.70,219.50 165.70,219.50 164.60,218.70 163.20,215.88 161.60,211.53 160.70,205.00 160.90,200.70 161.10,185.10 162.10,172.50 162.90,169.50 163.90,151.45 164.50,132.00 164.35,130.40 164.80,130.00" fill="#c64bbd" fill-opacity="0.22"/>
<circle cx="165.70" cy="88.60" r="1.2" fill="#c64bbd" fill-opacity="0.12" stroke="#c64bbd" stroke-opacity="0.26" stroke-width="0.5"/>
<circle cx="165.70" cy="114.00" r="1.2" fill="#c64bbd" fill-opacity="0.12" stroke="#c64bbd" stroke-opacity="0.26" stroke-width="0.5"/>
<circle cx="165.70" cy="117.00" r="1.2" fill="#c64bbd" fill-opacity="0.12" stroke="#c64bbd" stroke-opacity="0.26" stroke-width="0.5"/>
<circle cx="165.70" cy="130.18" r="1.2" fill="#c64bbd" fill-opacity="0.12" stroke="#c64bbd" stroke-opacity="0.26" stroke-width="0.5"/>
<circle cx="165.70" cy="130.12" r="1.2" fill="#c64bbd" fill-opacity="0.12" stroke="#c64bbd" stroke-opacity="0.26" stroke-width="0.5"/>
<circle cx="165.70" cy="130.32" r="1.2" fill="#c64bbd" fill-opacity="0.12" stroke="#c64bbd" stroke-opacity="0.26" stroke-width="0.5"/>
<circle cx="165.70" cy="130.28" r="1.2" fill="#c64bbd" fill-opacity="0.12" stroke="#c64bbd" stroke-opacity="0.26" stroke-width="0.5"/>
<line x1="165.70" y1="130.40" x2="165.70" y2="219.80" stroke="#464646" stroke-width="0.95"/>
<line x1="164.80" y1="130.40" x2="166.60" y2="130.40" stroke="#464646" stroke-width="0.7"/>
<line x1="164.80" y1="219.80" x2="166.60" y2="219.80" stroke="#464646" stroke-width="0.7"/>
<rect x="162.65" y="172.50" width="6.1" height="28.20" fill="#fff" stroke="#444" stroke-width="0.85"/>
<line x1="162.65" y1="185.10" x2="168.75" y2="185.10" stroke="#222" stroke-width="1.3"/>
<line x1="165.70" y1="229.60" x2="165.70" y2="231.50" stroke="#333" stroke-width="0.7"/>
<text x="168.60" y="236.00" font-size="5.5" text-anchor="end" fill="#222" transform="rotate(-45 168.60 236.00)" stroke="#222" stroke-width="0.12">Lymph</text>
<polygon points="178.73,121.00 179.03,123.00 179.18,154.10 179.63,169.75 180.63,182.40 181.43,185.40 182.43,195.90 183.03,206.30 183.23,207.00 182.26,212.62 180.53,216.38 179.02,218.70 177.83,219.50 177.83,219.50 176.64,218.70 175.13,216.38 173.40,212.62 172.43,207.00 172.63,206.30 173.23,195.90 174.23,185.40 175.03,182.40 176.03,169.75 176.48,154.10 176.63,123.00 176.93,121.00" fill="#649bc6" fill-opacity="0.22"/>
<circle cx="177.83" cy="95.40" r="1.2" fill="#649bc6" fill-opacity="0.12" stroke="#649bc6" stroke-opacity="0.26" stroke-width="0.5"/>
<circle cx="177.83" cy="108.00" r="1.2" fill="#649bc6" fill-opacity="0.12" stroke="#649bc6" stroke-opacity="0.26" stroke-width="0.5"/>
<circle cx="177.83" cy="114.00" r="1.2" fill="#649bc6" fill-opacity="0.12" stroke="#649bc6" stroke-opacity="0.26" stroke-width="0.5"/>
<circle cx="177.83" cy="129.08" r="1.2" fill="#649bc6" fill-opacity="0.12" stroke="#649bc6" stroke-opacity="0.26" stroke-width="0.5"/>
<circle cx="177.83" cy="140.01" r="1.2" fill="#649bc6" fill-opacity="0.12" stroke="#649bc6" stroke-opacity="0.26" stroke-width="0.5"/>
<circle cx="177.83" cy="138.38" r="1.2" fill="#649bc6" fill-opacity="0.12" stroke="#649bc6" stroke-opacity="0.26" stroke-width="0.5"/>
<circle cx="177.83" cy="149.97" r="1.2" fill="#649bc6" fill-opacity="0.12" stroke="#649bc6" stroke-opacity="0.26" stroke-width="0.5"/>
<line x1="177.83" y1="154.10" x2="177.83" y2="220.60" stroke="#464646" stroke-width="0.95"/>
<line x1="176.93" y1="154.10" x2="178.73" y2="154.10" stroke="#464646" stroke-width="0.7"/>
<line x1="176.93" y1="220.60" x2="178.73" y2="220.60" stroke="#464646" stroke-width="0.7"/>
<rect x="174.78" y="185.40" width="6.1" height="20.90" fill="#fff" stroke="#444" stroke-width="0.85"/>
<line x1="174.78" y1="195.90" x2="180.88" y2="195.90" stroke="#222" stroke-width="1.3"/>
<line x1="177.83" y1="229.60" x2="177.83" y2="231.50" stroke="#333" stroke-width="0.7"/>
<text x="180.73" y="236.00" font-size="5.5" text-anchor="end" fill="#222" transform="rotate(-45 180.73 236.00)" stroke="#222" stroke-width="0.12">Ovary</text>
<polygon points="190.86,110.00 191.16,112.00 191.31,138.00 191.76,156.65 192.76,172.30 193.56,175.30 194.56,186.60 195.36,200.20 195.56,205.00 194.55,211.30 192.76,215.50 191.19,218.20 189.96,219.00 189.96,219.00 188.73,218.20 187.16,215.50 185.37,211.30 184.36,205.00 184.56,200.20 185.36,186.60 186.36,175.30 187.16,172.30 188.16,156.65 188.61,138.00 188.76,112.00 189.06,110.00" fill="#7b3d33" fill-opacity="0.22"/>
<circle cx="189.96" cy="94.50" r="1.2" fill="#7b3d33" fill-opacity="0.12" stroke="#7b3d33" stroke-opacity="0.26" stroke-width="0.5"/>
<circle cx="189.96" cy="100.00" r="1.2" fill="#7b3d33" fill-opacity="0.12" stroke="#7b3d33" stroke-opacity="0.26" stroke-width="0.5"/>
<circle cx="189.96" cy="104.00" r="1.2" fill="#7b3d33" fill-opacity="0.12" stroke="#7b3d33" stroke-opacity="0.26" stroke-width="0.5"/>
<circle cx="189.96" cy="130.42" r="1.2" fill="#7b3d33" fill-opacity="0.12" stroke="#7b3d33" stroke-opacity="0.26" stroke-width="0.5"/>
<circle cx="189.96" cy="118.06" r="1.2" fill="#7b3d33" fill-opacity="0.12" stroke="#7b3d33" stroke-opacity="0.26" stroke-width="0.5"/>
<circle cx="189.96" cy="137.44" r="1.2" fill="#7b3d33" fill-opacity="0.12" stroke="#7b3d33" stroke-opacity="0.26" stroke-width="0.5"/>
<circle cx="189.96" cy="113.31" r="1.2" fill="#7b3d33" fill-opacity="0.12" stroke="#7b3d33" stroke-opacity="0.26" stroke-width="0.5"/>
<line x1="189.96" y1="138.00" x2="189.96" y2="220.60" stroke="#464646" stroke-width="0.95"/>
<line x1="189.06" y1="138.00" x2="190.86" y2="138.00" stroke="#464646" stroke-width="0.7"/>
<line x1="189.06" y1="220.60" x2="190.86" y2="220.60" stroke="#464646" stroke-width="0.7"/>
<rect x="186.91" y="175.30" width="6.1" height="24.90" fill="#fff" stroke="#444" stroke-width="0.85"/>
<line x1="186.91" y1="186.60" x2="193.01" y2="186.60" stroke="#222" stroke-width="1.3"/>
<line x1="189.96" y1="229.60" x2="189.96" y2="231.50" stroke="#333" stroke-width="0.7"/>
<text x="192.86" y="236.00" font-size="5.5" text-anchor="end" fill="#222" transform="rotate(-45 192.86 236.00)" stroke="#222" stroke-width="0.12">Prostate</text>
<polygon points="202.99,110.00 203.29,112.00 203.44,121.70 203.89,143.90 204.89,163.10 205.69,166.10 206.69,179.00 207.49,195.90 207.69,198.00 206.68,203.85 204.89,207.75 203.32,210.20 202.09,211.00 202.09,211.00 200.86,210.20 199.29,207.75 197.50,203.85 196.49,198.00 196.69,195.90 197.49,179.00 198.49,166.10 199.29,163.10 200.29,143.90 200.74,121.70 200.89,112.00 201.19,110.00" fill="#d08e45" fill-opacity="0.22"/>
<circle cx="202.09" cy="99.70" r="1.2" fill="#d08e45" fill-opacity="0.12" stroke="#d08e45" stroke-opacity="0.26" stroke-width="0.5"/>
<circle cx="202.09" cy="103.00" r="1.2" fill="#d08e45" fill-opacity="0.12" stroke="#d08e45" stroke-opacity="0.26" stroke-width="0.5"/>
<circle cx="202.09" cy="106.00" r="1.2" fill="#d08e45" fill-opacity="0.12" stroke="#d08e45" stroke-opacity="0.26" stroke-width="0.5"/>
<circle cx="202.09" cy="114.89" r="1.2" fill="#d08e45" fill-opacity="0.12" stroke="#d08e45" stroke-opacity="0.26" stroke-width="0.5"/>
<circle cx="202.09" cy="118.86" r="1.2" fill="#d08e45" fill-opacity="0.12" stroke="#d08e45" stroke-opacity="0.26" stroke-width="0.5"/>
<circle cx="202.09" cy="111.78" r="1.2" fill="#d08e45" fill-opacity="0.12" stroke="#d08e45" stroke-opacity="0.26" stroke-width="0.5"/>
<circle cx="202.09" cy="115.72" r="1.2" fill="#d08e45" fill-opacity="0.12" stroke="#d08e45" stroke-opacity="0.26" stroke-width="0.5"/>
<line x1="202.09" y1="121.70" x2="202.09" y2="218.00" stroke="#464646" stroke-width="0.95"/>
<line x1="201.19" y1="121.70" x2="202.99" y2="121.70" stroke="#464646" stroke-width="0.7"/>
<line x1="201.19" y1="218.00" x2="202.99" y2="218.00" stroke="#464646" stroke-width="0.7"/>
<rect x="199.04" y="166.10" width="6.1" height="29.80" fill="#fff" stroke="#444" stroke-width="0.85"/>
<line x1="199.04" y1="179.00" x2="205.14" y2="179.00" stroke="#222" stroke-width="1.3"/>
<line x1="202.09" y1="229.60" x2="202.09" y2="231.50" stroke="#333" stroke-width="0.7"/>
<text x="204.99" y="236.00" font-size="5.5" text-anchor="end" fill="#222" transform="rotate(-45 204.99 236.00)" textLength="36.50" lengthAdjust="spacingAndGlyphs" stroke="#222" stroke-width="0.12">Skeletal muscle</text>
<polygon points="215.12,115.00 215.42,117.00 215.57,153.60 216.02,168.05 217.02,179.50 217.82,182.50 218.82,193.10 219.42,202.30 219.62,206.00 218.65,212.07 216.92,216.12 215.41,218.70 214.22,219.50 214.22,219.50 213.03,218.70 211.52,216.12 209.79,212.07 208.82,206.00 209.02,202.30 209.62,193.10 210.62,182.50 211.42,179.50 212.42,168.05 212.87,153.60 213.02,117.00 213.32,115.00" fill="#4a2754" fill-opacity="0.22"/>
<circle cx="214.22" cy="99.70" r="1.2" fill="#4a2754" fill-opacity="0.12" stroke="#4a2754" stroke-opacity="0.26" stroke-width="0.5"/>
<circle cx="214.22" cy="110.00" r="1.2" fill="#4a2754" fill-opacity="0.12" stroke="#4a2754" stroke-opacity="0.26" stroke-width="0.5"/>
<circle cx="214.22" cy="113.00" r="1.2" fill="#4a2754" fill-opacity="0.12" stroke="#4a2754" stroke-opacity="0.26" stroke-width="0.5"/>
<circle cx="214.22" cy="116.51" r="1.2" fill="#4a2754" fill-opacity="0.12" stroke="#4a2754" stroke-opacity="0.26" stroke-width="0.5"/>
<circle cx="214.22" cy="140.79" r="1.2" fill="#4a2754" fill-opacity="0.12" stroke="#4a2754" stroke-opacity="0.26" stroke-width="0.5"/>
<circle cx="214.22" cy="144.51" r="1.2" fill="#4a2754" fill-opacity="0.12" stroke="#4a2754" stroke-opacity="0.26" stroke-width="0.5"/>
<circle cx="214.22" cy="137.12" r="1.2" fill="#4a2754" fill-opacity="0.12" stroke="#4a2754" stroke-opacity="0.26" stroke-width="0.5"/>
<line x1="214.22" y1="153.60" x2="214.22" y2="220.60" stroke="#464646" stroke-width="0.95"/>
<line x1="213.32" y1="153.60" x2="215.12" y2="153.60" stroke="#464646" stroke-width="0.7"/>
<line x1="213.32" y1="220.60" x2="215.12" y2="220.60" stroke="#464646" stroke-width="0.7"/>
<rect x="211.17" y="182.50" width="6.1" height="19.80" fill="#fff" stroke="#444" stroke-width="0.85"/>
<line x1="211.17" y1="193.10" x2="217.27" y2="193.10" stroke="#222" stroke-width="1.3"/>
<line x1="214.22" y1="229.60" x2="214.22" y2="231.50" stroke="#333" stroke-width="0.7"/>
<text x="217.12" y="236.00" font-size="5.5" text-anchor="end" fill="#222" transform="rotate(-45 217.12 236.00)" stroke="#222" stroke-width="0.12">Testes</text>
<polygon points="227.25,104.00 227.55,106.00 227.70,149.60 228.15,165.40 229.15,178.20 229.95,181.20 230.95,191.90 231.75,203.00 230.78,210.20 229.05,215.00 227.54,218.20 226.35,219.00 226.35,219.00 225.16,218.20 223.65,215.00 221.92,210.20 220.95,203.00 221.75,191.90 222.75,181.20 223.55,178.20 224.55,165.40 225.00,149.60 225.15,106.00 225.45,104.00" fill="#6f33cf" fill-opacity="0.22"/>
<circle cx="226.35" cy="98.00" r="1.2" fill="#6f33cf" fill-opacity="0.12" stroke="#6f33cf" stroke-opacity="0.26" stroke-width="0.5"/>
<circle cx="226.35" cy="101.00" r="1.2" fill="#6f33cf" fill-opacity="0.12" stroke="#6f33cf" stroke-opacity="0.26" stroke-width="0.5"/>
<circle cx="226.35" cy="143.92" r="1.2" fill="#6f33cf" fill-opacity="0.12" stroke="#6f33cf" stroke-opacity="0.26" stroke-width="0.5"/>
<circle cx="226.35" cy="118.31" r="1.2" fill="#6f33cf" fill-opacity="0.12" stroke="#6f33cf" stroke-opacity="0.26" stroke-width="0.5"/>
<circle cx="226.35" cy="135.71" r="1.2" fill="#6f33cf" fill-opacity="0.12" stroke="#6f33cf" stroke-opacity="0.26" stroke-width="0.5"/>
<circle cx="226.35" cy="131.10" r="1.2" fill="#6f33cf" fill-opacity="0.12" stroke="#6f33cf" stroke-opacity="0.26" stroke-width="0.5"/>
<line x1="226.35" y1="149.60" x2="226.35" y2="220.60" stroke="#464646" stroke-width="0.95"/>
<line x1="225.45" y1="149.60" x2="227.25" y2="149.60" stroke="#464646" stroke-width="0.7"/>
<line x1="225.45" y1="220.60" x2="227.25" y2="220.60" stroke="#464646" stroke-width="0.7"/>
<rect x="223.30" y="181.20" width="6.1" height="21.90" fill="#fff" stroke="#444" stroke-width="0.85"/>
<line x1="223.30" y1="191.90" x2="229.40" y2="191.90" stroke="#222" stroke-width="1.3"/>
<line x1="226.35" y1="229.60" x2="226.35" y2="231.50" stroke="#333" stroke-width="0.7"/>
<text x="229.25" y="236.00" font-size="5.5" text-anchor="end" fill="#222" transform="rotate(-45 229.25 236.00)" stroke="#222" stroke-width="0.12">Thyroid</text>
<text x="5.60" y="151.70" font-size="5.35" text-anchor="middle" fill="#111" transform="rotate(-90 5.60 151.70)" textLength="69.60" lengthAdjust="spacingAndGlyphs" stroke="#111" stroke-width="0.18">Transcripts Per Million (TPM)</text>
<text x="12.80" y="150.05" font-size="5.0" text-anchor="middle" fill="#111" transform="rotate(-90 12.80 150.05)" textLength="93.30" lengthAdjust="spacingAndGlyphs" stroke="#111" stroke-width="0.18">(based on uniquely-mapped reads; log10)</text>
<text x="134.65" y="267.60" font-size="5.1" text-anchor="middle" fill="#111" font-weight="bold" textLength="47.10" lengthAdjust="spacingAndGlyphs">BodyMap 2.0 tissues</text>
<text x="243.20" y="7.80" font-size="10.2" text-anchor="start" fill="#000" font-weight="bold">c</text>
<rect x="270.50" y="23.30" width="123.20" height="208.20" fill="#e3fde3"/>
<rect x="270.50" y="23.30" width="7.70" height="13.00" fill="#ff0303"/>
<rect x="270.50" y="36.30" width="7.70" height="1.00" fill="#ff2d2d"/>
<rect x="270.50" y="37.30" width="7.70" height="1.00" fill="#ff4b4b"/>
<rect x="270.50" y="38.30" width="7.70" height="1.00" fill="#ff6969"/>
<rect x="270.50" y="39.30" width="7.70" height="1.00" fill="#ff4b4b"/>
<rect x="270.50" y="40.30" width="7.70" height="1.00" fill="#ff8d8d"/>
<rect x="270.50" y="41.30" width="7.70" height="1.00" fill="#edffed"/>
<rect x="270.50" y="42.30" width="7.70" height="1.00" fill="#f3fff3"/>
<rect x="270.50" y="43.30" width="7.70" height="1.00" fill="#dbffdb"/>
<rect x="270.50" y="44.30" width="7.70" height="1.00" fill="#edffed"/>
<rect x="270.50" y="46.30" width="7.70" height="1.00" fill="#f3fff3"/>
<rect x="270.50" y="49.30" width="7.70" height="1.00" fill="#edffed"/>
<rect x="270.50" y="50.30" width="7.70" height="1.00" fill="#fff9f9"/>
<rect x="270.50" y="51.30" width="7.70" height="1.00" fill="#ffffff"/>
<rect x="270.50" y="52.30" width="7.70" height="1.00" fill="#ffeded"/>
<rect x="270.50" y="53.30" width="7.70" height="1.00" fill="#f9fff9"/>
<rect x="270.50" y="54.30" width="7.70" height="1.00" fill="#edffed"/>
<rect x="270.50" y="56.30" width="7.70" height="1.00" fill="#ffc9c9"/>
<rect x="270.50" y="57.30" width="7.70" height="1.00" fill="#ffcfcf"/>
<rect x="270.50" y="58.30" width="7.70" height="1.00" fill="#edffed"/>
<rect x="270.50" y="61.30" width="7.70" height="1.00" fill="#f3fff3"/>
<rect x="270.50" y="62.30" width="7.70" height="1.00" fill="#f9fff9"/>
<rect x="270.50" y="65.30" width="7.70" height="1.00" fill="#edffed"/>
<rect x="270.50" y="67.30" width="7.70" height="1.00" fill="#f9fff9"/>
<rect x="270.50" y="72.30" width="7.70" height="1.00" fill="#ffffff"/>
<rect x="270.50" y="73.30" width="7.70" height="1.00" fill="#f3fff3"/>
<rect x="270.50" y="74.30" width="7.70" height="1.00" fill="#edffed"/>
<rect x="270.50" y="75.30" width="7.70" height="1.00" fill="#ff8181"/>
<rect x="270.50" y="76.30" width="7.70" height="1.00" fill="#edffed"/>
<rect x="270.50" y="79.30" width="7.70" height="1.00" fill="#f3fff3"/>
<rect x="270.50" y="81.30" width="7.70" height="1.00" fill="#c9f9c9"/>
<rect x="270.50" y="82.30" width="7.70" height="1.00" fill="#ff6969"/>
<rect x="270.50" y="84.30" width="7.70" height="1.00" fill="#edffed"/>
<rect x="270.50" y="85.30" width="7.70" height="1.00" fill="#ffc3c3"/>
<rect x="270.50" y="87.30" width="7.70" height="1.00" fill="#d5ffd5"/>
<rect x="270.50" y="88.30" width="7.70" height="1.00" fill="#ffffff"/>
<rect x="270.50" y="90.30" width="7.70" height="1.00" fill="#cff9cf"/>
<rect x="270.50" y="92.30" width="7.70" height="1.00" fill="#ffe1e1"/>
<rect x="270.50" y="95.30" width="7.70" height="1.00" fill="#cff9cf"/>
<rect x="270.50" y="96.30" width="7.70" height="1.00" fill="#edffed"/>
<rect x="270.50" y="97.30" width="7.70" height="1.00" fill="#d5ffd5"/>
<rect x="270.50" y="98.30" width="7.70" height="1.00" fill="#ffe1e1"/>
<rect x="270.50" y="99.30" width="7.70" height="1.00" fill="#cff9cf"/>
<rect x="270.50" y="100.30" width="7.70" height="1.00" fill="#ffe1e1"/>
<rect x="270.50" y="101.30" width="7.70" height="1.00" fill="#ffabab"/>
<rect x="270.50" y="102.30" width="7.70" height="1.00" fill="#fff9f9"/>
<rect x="270.50" y="103.30" width="7.70" height="1.00" fill="#ffe7e7"/>
<rect x="270.50" y="107.30" width="7.70" height="1.00" fill="#f9fff9"/>
<rect x="270.50" y="108.30" width="7.70" height="1.00" fill="#ffffff"/>
<rect x="270.50" y="111.30" width="7.70" height="1.00" fill="#f3fff3"/>
<rect x="270.50" y="113.30" width="7.70" height="1.00" fill="#dbffdb"/>
<rect x="270.50" y="120.30" width="7.70" height="1.00" fill="#ffffff"/>
<rect x="270.50" y="121.30" width="7.70" height="1.00" fill="#edffed"/>
<rect x="270.50" y="122.30" width="7.70" height="1.00" fill="#f9fff9"/>
<rect x="270.50" y="124.30" width="7.70" height="1.00" fill="#ffffff"/>
<rect x="270.50" y="125.30" width="7.70" height="1.00" fill="#f9fff9"/>
<rect x="270.50" y="126.30" width="7.70" height="1.00" fill="#f3fff3"/>
<rect x="270.50" y="128.30" width="7.70" height="1.00" fill="#cff9cf"/>
<rect x="270.50" y="129.30" width="7.70" height="1.00" fill="#dbffdb"/>
<rect x="270.50" y="133.30" width="7.70" height="1.00" fill="#f9fff9"/>
<rect x="270.50" y="135.30" width="7.70" height="2.00" fill="#f9fff9"/>
<rect x="270.50" y="137.30" width="7.70" height="1.00" fill="#f3fff3"/>
<rect x="270.50" y="138.30" width="7.70" height="1.00" fill="#ffffff"/>
<rect x="270.50" y="140.30" width="7.70" height="1.00" fill="#f9fff9"/>
<rect x="270.50" y="141.30" width="7.70" height="1.00" fill="#dbffdb"/>
<rect x="270.50" y="142.30" width="7.70" height="1.00" fill="#cff9cf"/>
<rect x="270.50" y="143.30" width="7.70" height="1.00" fill="#f9fff9"/>
<rect x="270.50" y="144.30" width="7.70" height="1.00" fill="#edffed"/>
<rect x="270.50" y="145.30" width="7.70" height="1.00" fill="#ffeded"/>
<rect x="270.50" y="146.30" width="7.70" height="1.00" fill="#ffd5d5"/>
<rect x="270.50" y="147.30" width="7.70" height="1.00" fill="#f3fff3"/>
<rect x="270.50" y="148.30" width="7.70" height="1.00" fill="#ffc9c9"/>
<rect x="270.50" y="151.30" width="7.70" height="1.00" fill="#f3fff3"/>
<rect x="270.50" y="152.30" width="7.70" height="1.00" fill="#ffabab"/>
<rect x="270.50" y="154.30" width="7.70" height="1.00" fill="#ffffff"/>
<rect x="270.50" y="155.30" width="7.70" height="1.00" fill="#dbffdb"/>
<rect x="270.50" y="156.30" width="7.70" height="1.00" fill="#edffed"/>
<rect x="270.50" y="157.30" width="7.70" height="1.00" fill="#f9fff9"/>
<rect x="270.50" y="158.30" width="7.70" height="2.00" fill="#d5ffd5"/>
<rect x="270.50" y="160.30" width="7.70" height="1.00" fill="#f9fff9"/>
<rect x="270.50" y="161.30" width="7.70" height="1.00" fill="#edffed"/>
<rect x="270.50" y="163.30" width="7.70" height="1.00" fill="#cff9cf"/>
<rect x="270.50" y="164.30" width="7.70" height="1.00" fill="#edffed"/>
<rect x="270.50" y="165.30" width="7.70" height="1.00" fill="#f3fff3"/>
<rect x="270.50" y="166.30" width="7.70" height="1.00" fill="#f9fff9"/>
<rect x="270.50" y="168.30" width="7.70" height="1.00" fill="#cff9cf"/>
<rect x="270.50" y="169.30" width="7.70" height="1.00" fill="#ffb1b1"/>
<rect x="270.50" y="170.30" width="7.70" height="1.00" fill="#cff9cf"/>
<rect x="270.50" y="171.30" width="7.70" height="1.00" fill="#b7f9b7"/>
<rect x="270.50" y="172.30" width="7.70" height="1.00" fill="#cff9cf"/>
<rect x="270.50" y="173.30" width="7.70" height="1.00" fill="#c3f9c3"/>
<rect x="270.50" y="175.30" width="7.70" height="1.00" fill="#f3fff3"/>
<rect x="270.50" y="176.30" width="7.70" height="1.00" fill="#edffed"/>
<rect x="270.50" y="177.30" width="7.70" height="1.00" fill="#dbffdb"/>
<rect x="270.50" y="178.30" width="7.70" height="1.00" fill="#ffcfcf"/>
<rect x="270.50" y="181.30" width="7.70" height="1.00" fill="#ffbdbd"/>
<rect x="270.50" y="182.30" width="7.70" height="1.00" fill="#ff9f9f"/>
<rect x="270.50" y="185.30" width="7.70" height="1.00" fill="#ffc3c3"/>
<rect x="270.50" y="187.30" width="7.70" height="1.00" fill="#c9f9c9"/>
<rect x="270.50" y="189.30" width="7.70" height="2.00" fill="#f9fff9"/>
<rect x="270.50" y="192.30" width="7.70" height="1.00" fill="#dbffdb"/>
<rect x="270.50" y="193.30" width="7.70" height="1.00" fill="#f3fff3"/>
<rect x="270.50" y="194.30" width="7.70" height="1.00" fill="#f9fff9"/>
<rect x="270.50" y="195.30" width="7.70" height="1.00" fill="#ffdbdb"/>
<rect x="270.50" y="196.30" width="7.70" height="3.00" fill="#f3fff3"/>
<rect x="270.50" y="201.30" width="7.70" height="1.00" fill="#f3fff3"/>
<rect x="270.50" y="202.30" width="7.70" height="1.00" fill="#ff9f9f"/>
<rect x="270.50" y="204.30" width="7.70" height="1.00" fill="#f3fff3"/>
<rect x="270.50" y="206.30" width="7.70" height="1.00" fill="#ff6f6f"/>
<rect x="270.50" y="207.30" width="7.70" height="1.00" fill="#dbffdb"/>
<rect x="270.50" y="208.30" width="7.70" height="1.00" fill="#ffb7b7"/>
<rect x="270.50" y="209.30" width="7.70" height="1.00" fill="#ffffff"/>
<rect x="270.50" y="210.30" width="7.70" height="1.00" fill="#edffed"/>
<rect x="270.50" y="212.30" width="7.70" height="1.00" fill="#d5ffd5"/>
<rect x="270.50" y="213.30" width="7.70" height="1.00" fill="#dbffdb"/>
<rect x="270.50" y="216.30" width="7.70" height="1.00" fill="#d5ffd5"/>
<rect x="270.50" y="219.30" width="7.70" height="1.00" fill="#d5ffd5"/>
<rect x="270.50" y="220.30" width="7.70" height="1.00" fill="#c9f9c9"/>
<rect x="270.50" y="224.30" width="7.70" height="1.00" fill="#f9fff9"/>
<rect x="270.50" y="225.30" width="7.70" height="3.00" fill="#edffed"/>
<rect x="270.50" y="228.30" width="7.70" height="2.00" fill="#d5ffd5"/>
<rect x="278.20" y="23.30" width="7.70" height="1.00" fill="#d5ffd5"/>
<rect x="278.20" y="24.30" width="7.70" height="1.00" fill="#dbffdb"/>
<rect x="278.20" y="25.30" width="7.70" height="1.00" fill="#edffed"/>
<rect x="278.20" y="26.30" width="7.70" height="1.00" fill="#fff9f9"/>
<rect x="278.20" y="27.30" width="7.70" height="1.00" fill="#f9fff9"/>
<rect x="278.20" y="29.30" width="7.70" height="1.00" fill="#fff9f9"/>
<rect x="278.20" y="30.30" width="7.70" height="1.00" fill="#f9fff9"/>
<rect x="278.20" y="31.30" width="7.70" height="1.00" fill="#f3fff3"/>
<rect x="278.20" y="32.30" width="7.70" height="1.00" fill="#d5ffd5"/>
<rect x="278.20" y="33.30" width="7.70" height="1.00" fill="#edffed"/>
<rect x="278.20" y="34.30" width="7.70" height="1.00" fill="#ffffff"/>
<rect x="278.20" y="35.30" width="7.70" height="1.00" fill="#f9fff9"/>
<rect x="278.20" y="36.30" width="7.70" height="1.00" fill="#edffed"/>
<rect x="278.20" y="37.30" width="7.70" height="1.00" fill="#dbffdb"/>
<rect x="278.20" y="38.30" width="7.70" height="2.00" fill="#ffffff"/>
<rect x="278.20" y="40.30" width="7.70" height="1.00" fill="#f9fff9"/>
<rect x="278.20" y="41.30" width="7.70" height="1.00" fill="#edffed"/>
<rect x="278.20" y="42.30" width="7.70" height="1.00" fill="#ffffff"/>
<rect x="278.20" y="43.30" width="7.70" height="1.00" fill="#cff9cf"/>
<rect x="278.20" y="44.30" width="7.70" height="1.00" fill="#edffed"/>
<rect x="278.20" y="48.30" width="7.70" height="1.00" fill="#ffc9c9"/>
<rect x="278.20" y="50.30" width="7.70" height="1.00" fill="#ffffff"/>
<rect x="278.20" y="51.30" width="7.70" height="1.00" fill="#f9fff9"/>
<rect x="278.20" y="52.30" width="7.70" height="1.00" fill="#ffd5d5"/>
<rect x="278.20" y="53.30" width="7.70" height="3.00" fill="#edffed"/>
<rect x="278.20" y="57.30" width="7.70" height="1.00" fill="#dbffdb"/>
<rect x="278.20" y="58.30" width="7.70" height="1.00" fill="#f3fff3"/>
<rect x="278.20" y="59.30" width="7.70" height="1.00" fill="#edffed"/>
<rect x="278.20" y="61.30" width="7.70" height="1.00" fill="#ffe1e1"/>
<rect x="278.20" y="66.30" width="7.70" height="1.00" fill="#f3fff3"/>
<rect x="278.20" y="67.30" width="7.70" height="1.00" fill="#f9fff9"/>
<rect x="278.20" y="69.30" width="7.70" height="1.00" fill="#f3fff3"/>
<rect x="278.20" y="70.30" width="7.70" height="1.00" fill="#dbffdb"/>
<rect x="278.20" y="71.30" width="7.70" height="1.00" fill="#cff9cf"/>
<rect x="278.20" y="72.30" width="7.70" height="1.00" fill="#edffed"/>
<rect x="278.20" y="74.30" width="7.70" height="1.00" fill="#edffed"/>
<rect x="278.20" y="75.30" width="7.70" height="1.00" fill="#ffffff"/>
<rect x="278.20" y="76.30" width="7.70" height="1.00" fill="#edffed"/>
<rect x="278.20" y="77.30" width="7.70" height="1.00" fill="#f3fff3"/>
<rect x="278.20" y="79.30" width="7.70" height="1.00" fill="#f3fff3"/>
<rect x="278.20" y="81.30" width="7.70" height="2.00" fill="#d5ffd5"/>
<rect x="278.20" y="83.30" width="7.70" height="1.00" fill="#ffe7e7"/>
<rect x="278.20" y="84.30" width="7.70" height="1.00" fill="#f3fff3"/>
<rect x="278.20" y="85.30" width="7.70" height="10.00" fill="#ff0303"/>
<rect x="278.20" y="95.30" width="7.70" height="1.00" fill="#ff0f0f"/>
<rect x="278.20" y="96.30" width="7.70" height="1.00" fill="#ff5757"/>
<rect x="278.20" y="97.30" width="7.70" height="1.00" fill="#ff7575"/>
<rect x="278.20" y="98.30" width="7.70" height="1.00" fill="#ff4545"/>
<rect x="278.20" y="99.30" width="7.70" height="1.00" fill="#ff6969"/>
<rect x="278.20" y="100.30" width="7.70" height="1.00" fill="#f3fff3"/>
<rect x="278.20" y="101.30" width="7.70" height="1.00" fill="#fff9f9"/>
<rect x="278.20" y="102.30" width="7.70" height="1.00" fill="#ffffff"/>
<rect x="278.20" y="103.30" width="7.70" height="1.00" fill="#f9fff9"/>
<rect x="278.20" y="104.30" width="7.70" height="1.00" fill="#ffd5d5"/>
<rect x="278.20" y="108.30" width="7.70" height="1.00" fill="#ffffff"/>
<rect x="278.20" y="111.30" width="7.70" height="1.00" fill="#ff8181"/>
<rect x="278.20" y="112.30" width="7.70" height="1.00" fill="#edffed"/>
<rect x="278.20" y="113.30" width="7.70" height="1.00" fill="#d5ffd5"/>
<rect x="278.20" y="116.30" width="7.70" height="1.00" fill="#f9fff9"/>
<rect x="278.20" y="118.30" width="7.70" height="1.00" fill="#ffdbdb"/>
<rect x="278.20" y="120.30" width="7.70" height="1.00" fill="#f9fff9"/>
<rect x="278.20" y="122.30" width="7.70" height="1.00" fill="#f9fff9"/>
<rect x="278.20" y="124.30" width="7.70" height="1.00" fill="#fff3f3"/>
<rect x="278.20" y="125.30" width="7.70" height="1.00" fill="#ff9999"/>
<rect x="278.20" y="126.30" width="7.70" height="1.00" fill="#fff9f9"/>
<rect x="278.20" y="127.30" width="7.70" height="1.00" fill="#edffed"/>
<rect x="278.20" y="128.30" width="7.70" height="1.00" fill="#ffa5a5"/>
<rect x="278.20" y="129.30" width="7.70" height="1.00" fill="#ffabab"/>
<rect x="278.20" y="132.30" width="7.70" height="1.00" fill="#ff8787"/>
<rect x="278.20" y="133.30" width="7.70" height="1.00" fill="#f9fff9"/>
<rect x="278.20" y="134.30" width="7.70" height="1.00" fill="#f3fff3"/>
<rect x="278.20" y="135.30" width="7.70" height="1.00" fill="#f9fff9"/>
<rect x="278.20" y="138.30" width="7.70" height="1.00" fill="#f3fff3"/>
<rect x="278.20" y="140.30" width="7.70" height="1.00" fill="#f3fff3"/>
<rect x="278.20" y="142.30" width="7.70" height="1.00" fill="#dbffdb"/>
<rect x="278.20" y="143.30" width="7.70" height="1.00" fill="#ffffff"/>
<rect x="278.20" y="145.30" width="7.70" height="1.00" fill="#ffe1e1"/>
<rect x="278.20" y="146.30" width="7.70" height="1.00" fill="#ffffff"/>
<rect x="278.20" y="150.30" width="7.70" height="1.00" fill="#ffbdbd"/>
<rect x="278.20" y="151.30" width="7.70" height="1.00" fill="#ffe1e1"/>
<rect x="278.20" y="152.30" width="7.70" height="1.00" fill="#fff9f9"/>
<rect x="278.20" y="154.30" width="7.70" height="1.00" fill="#ffc9c9"/>
<rect x="278.20" y="155.30" width="7.70" height="1.00" fill="#cff9cf"/>
<rect x="278.20" y="156.30" width="7.70" height="1.00" fill="#d5ffd5"/>
<rect x="278.20" y="158.30" width="7.70" height="1.00" fill="#d5ffd5"/>
<rect x="278.20" y="160.30" width="7.70" height="1.00" fill="#f9fff9"/>
<rect x="278.20" y="163.30" width="7.70" height="1.00" fill="#f3fff3"/>
<rect x="278.20" y="164.30" width="7.70" height="1.00" fill="#f9fff9"/>
<rect x="278.20" y="165.30" width="7.70" height="1.00" fill="#ffffff"/>
<rect x="278.20" y="166.30" width="7.70" height="1.00" fill="#f9fff9"/>
<rect x="278.20" y="167.30" width="7.70" height="1.00" fill="#cff9cf"/>
<rect x="278.20" y="168.30" width="7.70" height="1.00" fill="#c3f9c3"/>
<rect x="278.20" y="169.30" width="7.70" height="2.00" fill="#cff9cf"/>
<rect x="278.20" y="171.30" width="7.70" height="1.00" fill="#b7f9b7"/>
<rect x="278.20" y="172.30" width="7.70" height="1.00" fill="#c3f9c3"/>
<rect x="278.20" y="173.30" width="7.70" height="1.00" fill="#c9f9c9"/>
<rect x="278.20" y="175.30" width="7.70" height="1.00" fill="#f9fff9"/>
<rect x="278.20" y="178.30" width="7.70" height="1.00" fill="#c9f9c9"/>
<rect x="278.20" y="179.30" width="7.70" height="2.00" fill="#dbffdb"/>
<rect x="278.20" y="182.30" width="7.70" height="1.00" fill="#edffed"/>
<rect x="278.20" y="184.30" width="7.70" height="1.00" fill="#edffed"/>
<rect x="278.20" y="185.30" width="7.70" height="1.00" fill="#dbffdb"/>
<rect x="278.20" y="187.30" width="7.70" height="1.00" fill="#bdf9bd"/>
<rect x="278.20" y="189.30" width="7.70" height="2.00" fill="#edffed"/>
<rect x="278.20" y="191.30" width="7.70" height="1.00" fill="#ffbdbd"/>
<rect x="278.20" y="193.30" width="7.70" height="1.00" fill="#f3fff3"/>
<rect x="278.20" y="194.30" width="7.70" height="1.00" fill="#ffcfcf"/>
<rect x="278.20" y="195.30" width="7.70" height="2.00" fill="#f9fff9"/>
<rect x="278.20" y="197.30" width="7.70" height="1.00" fill="#ffffff"/>
<rect x="278.20" y="198.30" width="7.70" height="1.00" fill="#ffabab"/>
<rect x="278.20" y="200.30" width="7.70" height="1.00" fill="#edffed"/>
<rect x="278.20" y="201.30" width="7.70" height="2.00" fill="#f9fff9"/>
<rect x="278.20" y="203.30" width="7.70" height="1.00" fill="#ffe1e1"/>
<rect x="278.20" y="204.30" width="7.70" height="1.00" fill="#edffed"/>
<rect x="278.20" y="206.30" width="7.70" height="1.00" fill="#edffed"/>
<rect x="278.20" y="209.30" width="7.70" height="1.00" fill="#fff9f9"/>
<rect x="278.20" y="210.30" width="7.70" height="1.00" fill="#f3fff3"/>
<rect x="278.20" y="212.30" width="7.70" height="1.00" fill="#ffb7b7"/>
<rect x="278.20" y="213.30" width="7.70" height="1.00" fill="#dbffdb"/>
<rect x="278.20" y="214.30" width="7.70" height="1.00" fill="#ffe1e1"/>
<rect x="278.20" y="216.30" width="7.70" height="1.00" fill="#d5ffd5"/>
<rect x="278.20" y="219.30" width="7.70" height="1.00" fill="#f3fff3"/>
<rect x="278.20" y="220.30" width="7.70" height="1.00" fill="#cff9cf"/>
<rect x="278.20" y="223.30" width="7.70" height="1.00" fill="#edffed"/>
<rect x="278.20" y="224.30" width="7.70" height="2.00" fill="#f9fff9"/>
<rect x="278.20" y="226.30" width="7.70" height="1.00" fill="#ffffff"/>
<rect x="278.20" y="228.30" width="7.70" height="3.00" fill="#d5ffd5"/>
<rect x="285.90" y="23.30" width="7.70" height="2.00" fill="#d5ffd5"/>
<rect x="285.90" y="25.30" width="7.70" height="1.00" fill="#ffffff"/>
<rect x="285.90" y="26.30" width="7.70" height="1.00" fill="#fff9f9"/>
<rect x="285.90" y="27.30" width="7.70" height="1.00" fill="#ffe7e7"/>
<rect x="285.90" y="29.30" width="7.70" height="1.00" fill="#fff9f9"/>
<rect x="285.90" y="30.30" width="7.70" height="1.00" fill="#f9fff9"/>
<rect x="285.90" y="32.30" width="7.70" height="1.00" fill="#d5ffd5"/>
<rect x="285.90" y="33.30" width="7.70" height="1.00" fill="#ffffff"/>
<rect x="285.90" y="34.30" width="7.70" height="1.00" fill="#fff9f9"/>
<rect x="285.90" y="35.30" width="7.70" height="1.00" fill="#f3fff3"/>
<rect x="285.90" y="38.30" width="7.70" height="1.00" fill="#ffffff"/>
<rect x="285.90" y="39.30" width="7.70" height="1.00" fill="#fff9f9"/>
<rect x="285.90" y="40.30" width="7.70" height="1.00" fill="#ff5d5d"/>
<rect x="285.90" y="42.30" width="7.70" height="1.00" fill="#ffffff"/>
<rect x="285.90" y="46.30" width="7.70" height="1.00" fill="#f3fff3"/>
<rect x="285.90" y="50.30" width="7.70" height="1.00" fill="#fff3f3"/>
<rect x="285.90" y="51.30" width="7.70" height="1.00" fill="#ffb1b1"/>
<rect x="285.90" y="52.30" width="7.70" height="1.00" fill="#ff9f9f"/>
<rect x="285.90" y="55.30" width="7.70" height="1.00" fill="#ffb7b7"/>
<rect x="285.90" y="56.30" width="7.70" height="1.00" fill="#ffc3c3"/>
<rect x="285.90" y="57.30" width="7.70" height="1.00" fill="#d5ffd5"/>
<rect x="285.90" y="58.30" width="7.70" height="1.00" fill="#f9fff9"/>
<rect x="285.90" y="65.30" width="7.70" height="1.00" fill="#edffed"/>
<rect x="285.90" y="66.30" width="7.70" height="1.00" fill="#f3fff3"/>
<rect x="285.90" y="67.30" width="7.70" height="1.00" fill="#ffffff"/>
<rect x="285.90" y="68.30" width="7.70" height="1.00" fill="#d5ffd5"/>
<rect x="285.90" y="69.30" width="7.70" height="1.00" fill="#edffed"/>
<rect x="285.90" y="70.30" width="7.70" height="1.00" fill="#d5ffd5"/>
<rect x="285.90" y="72.30" width="7.70" height="1.00" fill="#f3fff3"/>
<rect x="285.90" y="73.30" width="7.70" height="1.00" fill="#f9fff9"/>
<rect x="285.90" y="74.30" width="7.70" height="1.00" fill="#edffed"/>
<rect x="285.90" y="75.30" width="7.70" height="1.00" fill="#ffffff"/>
<rect x="285.90" y="76.30" width="7.70" height="1.00" fill="#f9fff9"/>
<rect x="285.90" y="79.30" width="7.70" height="1.00" fill="#f9fff9"/>
<rect x="285.90" y="80.30" width="7.70" height="2.00" fill="#dbffdb"/>
<rect x="285.90" y="82.30" width="7.70" height="1.00" fill="#d5ffd5"/>
<rect x="285.90" y="83.30" width="7.70" height="1.00" fill="#dbffdb"/>
<rect x="285.90" y="84.30" width="7.70" height="1.00" fill="#edffed"/>
<rect x="285.90" y="85.30" width="7.70" height="1.00" fill="#d5ffd5"/>
<rect x="285.90" y="86.30" width="7.70" height="1.00" fill="#edffed"/>
<rect x="285.90" y="87.30" width="7.70" height="1.00" fill="#d5ffd5"/>
<rect x="285.90" y="88.30" width="7.70" height="1.00" fill="#ffc3c3"/>
<rect x="285.90" y="89.30" width="7.70" height="1.00" fill="#edffed"/>
<rect x="285.90" y="90.30" width="7.70" height="3.00" fill="#d5ffd5"/>
<rect x="285.90" y="94.30" width="7.70" height="2.00" fill="#d5ffd5"/>
<rect x="285.90" y="97.30" width="7.70" height="1.00" fill="#d5ffd5"/>
<rect x="285.90" y="98.30" width="7.70" height="1.00" fill="#c9f9c9"/>
<rect x="285.90" y="99.30" width="7.70" height="1.00" fill="#ffd5d5"/>
<rect x="285.90" y="100.30" width="7.70" height="1.00" fill="#fff9f9"/>
<rect x="285.90" y="101.30" width="7.70" height="1.00" fill="#fff3f3"/>
<rect x="285.90" y="102.30" width="7.70" height="1.00" fill="#ffc3c3"/>
<rect x="285.90" y="103.30" width="7.70" height="1.00" fill="#ffa5a5"/>
<rect x="285.90" y="104.30" width="7.70" height="2.00" fill="#cff9cf"/>
<rect x="285.90" y="108.30" width="7.70" height="1.00" fill="#ffffff"/>
<rect x="285.90" y="110.30" width="7.70" height="1.00" fill="#f3fff3"/>
<rect x="285.90" y="111.30" width="7.70" height="1.00" fill="#edffed"/>
<rect x="285.90" y="113.30" width="7.70" height="1.00" fill="#ffbdbd"/>
<rect x="285.90" y="114.30" width="7.70" height="1.00" fill="#f3fff3"/>
<rect x="285.90" y="116.30" width="7.70" height="1.00" fill="#ffd5d5"/>
<rect x="285.90" y="118.30" width="7.70" height="1.00" fill="#f3fff3"/>
<rect x="285.90" y="119.30" width="7.70" height="1.00" fill="#ff6363"/>
<rect x="285.90" y="120.30" width="7.70" height="1.00" fill="#ff7b7b"/>
<rect x="285.90" y="121.30" width="7.70" height="1.00" fill="#ff1515"/>
<rect x="285.90" y="122.30" width="7.70" height="1.00" fill="#ff4b4b"/>
<rect x="285.90" y="123.30" width="7.70" height="1.00" fill="#ff6f6f"/>
<rect x="285.90" y="124.30" width="7.70" height="1.00" fill="#ff1515"/>
<rect x="285.90" y="125.30" width="7.70" height="1.00" fill="#ff0303"/>
<rect x="285.90" y="126.30" width="7.70" height="1.00" fill="#ff0909"/>
<rect x="285.90" y="127.30" width="7.70" height="11.00" fill="#ff0303"/>
<rect x="285.90" y="138.30" width="7.70" height="2.00" fill="#f3fff3"/>
<rect x="285.90" y="140.30" width="7.70" height="2.00" fill="#edffed"/>
<rect x="285.90" y="145.30" width="7.70" height="1.00" fill="#ffe7e7"/>
<rect x="285.90" y="146.30" width="7.70" height="1.00" fill="#ffffff"/>
<rect x="285.90" y="147.30" width="7.70" height="1.00" fill="#f3fff3"/>
<rect x="285.90" y="148.30" width="7.70" height="1.00" fill="#ff5151"/>
<rect x="285.90" y="149.30" width="7.70" height="1.00" fill="#ffb7b7"/>
<rect x="285.90" y="151.30" width="7.70" height="1.00" fill="#ff9999"/>
<rect x="285.90" y="152.30" width="7.70" height="1.00" fill="#ffffff"/>
<rect x="285.90" y="154.30" width="7.70" height="1.00" fill="#ffd5d5"/>
<rect x="285.90" y="155.30" width="7.70" height="1.00" fill="#dbffdb"/>
<rect x="285.90" y="156.30" width="7.70" height="1.00" fill="#edffed"/>
<rect x="285.90" y="157.30" width="7.70" height="1.00" fill="#ffa5a5"/>
<rect x="285.90" y="158.30" width="7.70" height="1.00" fill="#c9f9c9"/>
<rect x="285.90" y="160.30" width="7.70" height="1.00" fill="#f3fff3"/>
<rect x="285.90" y="163.30" width="7.70" height="1.00" fill="#d5ffd5"/>
<rect x="285.90" y="164.30" width="7.70" height="2.00" fill="#f3fff3"/>
<rect x="285.90" y="166.30" width="7.70" height="1.00" fill="#f9fff9"/>
<rect x="285.90" y="167.30" width="7.70" height="1.00" fill="#c9f9c9"/>
<rect x="285.90" y="168.30" width="7.70" height="1.00" fill="#bdf9bd"/>
<rect x="285.90" y="169.30" width="7.70" height="1.00" fill="#c9f9c9"/>
<rect x="285.90" y="170.30" width="7.70" height="1.00" fill="#d5ffd5"/>
<rect x="285.90" y="171.30" width="7.70" height="1.00" fill="#bdf9bd"/>
<rect x="285.90" y="172.30" width="7.70" height="2.00" fill="#c3f9c3"/>
<rect x="285.90" y="175.30" width="7.70" height="1.00" fill="#f3fff3"/>
<rect x="285.90" y="177.30" width="7.70" height="2.00" fill="#cff9cf"/>
<rect x="285.90" y="180.30" width="7.70" height="1.00" fill="#d5ffd5"/>
<rect x="285.90" y="181.30" width="7.70" height="1.00" fill="#ffc9c9"/>
<rect x="285.90" y="185.30" width="7.70" height="1.00" fill="#ffcfcf"/>
<rect x="285.90" y="186.30" width="7.70" height="1.00" fill="#dbffdb"/>
<rect x="285.90" y="187.30" width="7.70" height="1.00" fill="#c3f9c3"/>
<rect x="285.90" y="192.30" width="7.70" height="1.00" fill="#d5ffd5"/>
<rect x="285.90" y="193.30" width="7.70" height="2.00" fill="#f3fff3"/>
<rect x="285.90" y="195.30" width="7.70" height="1.00" fill="#ffffff"/>
<rect x="285.90" y="196.30" width="7.70" height="1.00" fill="#fff9f9"/>
<rect x="285.90" y="197.30" width="7.70" height="2.00" fill="#ffffff"/>
<rect x="285.90" y="199.30" width="7.70" height="1.00" fill="#ffd5d5"/>
<rect x="285.90" y="201.30" width="7.70" height="2.00" fill="#ffffff"/>
<rect x="285.90" y="203.30" width="7.70" height="1.00" fill="#f3fff3"/>
<rect x="285.90" y="207.30" width="7.70" height="1.00" fill="#d5ffd5"/>
<rect x="285.90" y="209.30" width="7.70" height="1.00" fill="#f9fff9"/>
<rect x="285.90" y="212.30" width="7.70" height="1.00" fill="#ff6f6f"/>
<rect x="285.90" y="213.30" width="7.70" height="1.00" fill="#cff9cf"/>
<rect x="285.90" y="219.30" width="7.70" height="1.00" fill="#ff5151"/>
<rect x="285.90" y="220.30" width="7.70" height="1.00" fill="#cff9cf"/>
<rect x="285.90" y="223.30" width="7.70" height="3.00" fill="#f9fff9"/>
<rect x="285.90" y="229.30" width="7.70" height="2.00" fill="#dbffdb"/>
<rect x="293.60" y="23.30" width="7.70" height="2.00" fill="#ff3333"/>
<rect x="293.60" y="25.30" width="7.70" height="1.00" fill="#f3fff3"/>
<rect x="293.60" y="26.30" width="7.70" height="1.00" fill="#f9fff9"/>
<rect x="293.60" y="27.30" width="7.70" height="1.00" fill="#fff9f9"/>
<rect x="293.60" y="28.30" width="7.70" height="1.00" fill="#edffed"/>
<rect x="293.60" y="29.30" width="7.70" height="1.00" fill="#f9fff9"/>
<rect x="293.60" y="31.30" width="7.70" height="1.00" fill="#f9fff9"/>
<rect x="293.60" y="33.30" width="7.70" height="1.00" fill="#f9fff9"/>
<rect x="293.60" y="34.30" width="7.70" height="3.00" fill="#f3fff3"/>
<rect x="293.60" y="38.30" width="7.70" height="1.00" fill="#fff3f3"/>
<rect x="293.60" y="39.30" width="7.70" height="1.00" fill="#fff9f9"/>
<rect x="293.60" y="40.30" width="7.70" height="1.00" fill="#f3fff3"/>
<rect x="293.60" y="42.30" width="7.70" height="1.00" fill="#ffffff"/>
<rect x="293.60" y="43.30" width="7.70" height="1.00" fill="#cff9cf"/>
<rect x="293.60" y="46.30" width="7.70" height="1.00" fill="#edffed"/>
<rect x="293.60" y="48.30" width="7.70" height="1.00" fill="#dbffdb"/>
<rect x="293.60" y="50.30" width="7.70" height="2.00" fill="#fff3f3"/>
<rect x="293.60" y="52.30" width="7.70" height="1.00" fill="#ffeded"/>
<rect x="293.60" y="54.30" width="7.70" height="1.00" fill="#f3fff3"/>
<rect x="293.60" y="56.30" width="7.70" height="1.00" fill="#fff9f9"/>
<rect x="293.60" y="57.30" width="7.70" height="1.00" fill="#dbffdb"/>
<rect x="293.60" y="58.30" width="7.70" height="1.00" fill="#f3fff3"/>
<rect x="293.60" y="59.30" width="7.70" height="1.00" fill="#ffb7b7"/>
<rect x="293.60" y="60.30" width="7.70" height="1.00" fill="#ffc9c9"/>
<rect x="293.60" y="63.30" width="7.70" height="1.00" fill="#f3fff3"/>
<rect x="293.60" y="65.30" width="7.70" height="1.00" fill="#f3fff3"/>
<rect x="293.60" y="66.30" width="7.70" height="1.00" fill="#edffed"/>
<rect x="293.60" y="67.30" width="7.70" height="1.00" fill="#ffffff"/>
<rect x="293.60" y="68.30" width="7.70" height="1.00" fill="#dbffdb"/>
<rect x="293.60" y="69.30" width="7.70" height="1.00" fill="#edffed"/>
<rect x="293.60" y="70.30" width="7.70" height="1.00" fill="#cff9cf"/>
<rect x="293.60" y="71.30" width="7.70" height="1.00" fill="#c9f9c9"/>
<rect x="293.60" y="73.30" width="7.70" height="1.00" fill="#f3fff3"/>
<rect x="293.60" y="74.30" width="7.70" height="1.00" fill="#ffdbdb"/>
<rect x="293.60" y="75.30" width="7.70" height="2.00" fill="#edffed"/>
<rect x="293.60" y="79.30" width="7.70" height="1.00" fill="#f3fff3"/>
<rect x="293.60" y="81.30" width="7.70" height="2.00" fill="#dbffdb"/>
<rect x="293.60" y="84.30" width="7.70" height="1.00" fill="#f3fff3"/>
<rect x="293.60" y="87.30" width="7.70" height="1.00" fill="#cff9cf"/>
<rect x="293.60" y="88.30" width="7.70" height="1.00" fill="#f9fff9"/>
<rect x="293.60" y="90.30" width="7.70" height="1.00" fill="#c9f9c9"/>
<rect x="293.60" y="91.30" width="7.70" height="1.00" fill="#d5ffd5"/>
<rect x="293.60" y="92.30" width="7.70" height="1.00" fill="#cff9cf"/>
<rect x="293.60" y="93.30" width="7.70" height="1.00" fill="#dbffdb"/>
<rect x="293.60" y="95.30" width="7.70" height="1.00" fill="#dbffdb"/>
<rect x="293.60" y="96.30" width="7.70" height="1.00" fill="#ffcfcf"/>
<rect x="293.60" y="98.30" width="7.70" height="1.00" fill="#d5ffd5"/>
<rect x="293.60" y="99.30" width="7.70" height="1.00" fill="#ffabab"/>
<rect x="293.60" y="100.30" width="7.70" height="14.00" fill="#ff0303"/>
<rect x="293.60" y="114.30" width="7.70" height="1.00" fill="#ff0909"/>
<rect x="293.60" y="115.30" width="7.70" height="1.00" fill="#ff2d2d"/>
<rect x="293.60" y="116.30" width="7.70" height="1.00" fill="#ff2121"/>
<rect x="293.60" y="117.30" width="7.70" height="1.00" fill="#ff5757"/>
<rect x="293.60" y="118.30" width="7.70" height="1.00" fill="#ff9393"/>
<rect x="293.60" y="119.30" width="7.70" height="1.00" fill="#ffe1e1"/>
<rect x="293.60" y="122.30" width="7.70" height="1.00" fill="#f9fff9"/>
<rect x="293.60" y="124.30" width="7.70" height="1.00" fill="#fff3f3"/>
<rect x="293.60" y="125.30" width="7.70" height="1.00" fill="#ffdbdb"/>
<rect x="293.60" y="126.30" width="7.70" height="1.00" fill="#ffffff"/>
<rect x="293.60" y="127.30" width="7.70" height="1.00" fill="#ffe1e1"/>
<rect x="293.60" y="128.30" width="7.70" height="1.00" fill="#c9f9c9"/>
<rect x="293.60" y="131.30" width="7.70" height="1.00" fill="#cff9cf"/>
<rect x="293.60" y="132.30" width="7.70" height="1.00" fill="#f3fff3"/>
<rect x="293.60" y="133.30" width="7.70" height="1.00" fill="#edffed"/>
<rect x="293.60" y="134.30" width="7.70" height="3.00" fill="#f9fff9"/>
<rect x="293.60" y="138.30" width="7.70" height="1.00" fill="#edffed"/>
<rect x="293.60" y="139.30" width="7.70" height="1.00" fill="#f3fff3"/>
<rect x="293.60" y="140.30" width="7.70" height="1.00" fill="#f9fff9"/>
<rect x="293.60" y="141.30" width="7.70" height="1.00" fill="#d5ffd5"/>
<rect x="293.60" y="142.30" width="7.70" height="1.00" fill="#ffbdbd"/>
<rect x="293.60" y="143.30" width="7.70" height="1.00" fill="#f9fff9"/>
<rect x="293.60" y="144.30" width="7.70" height="1.00" fill="#edffed"/>
<rect x="293.60" y="145.30" width="7.70" height="1.00" fill="#ffe1e1"/>
<rect x="293.60" y="146.30" width="7.70" height="1.00" fill="#fff9f9"/>
<rect x="293.60" y="147.30" width="7.70" height="1.00" fill="#f9fff9"/>
<rect x="293.60" y="151.30" width="7.70" height="1.00" fill="#f3fff3"/>
<rect x="293.60" y="152.30" width="7.70" height="1.00" fill="#ffffff"/>
<rect x="293.60" y="154.30" width="7.70" height="1.00" fill="#ffc9c9"/>
<rect x="293.60" y="155.30" width="7.70" height="1.00" fill="#dbffdb"/>
<rect x="293.60" y="157.30" width="7.70" height="1.00" fill="#f3fff3"/>
<rect x="293.60" y="158.30" width="7.70" height="1.00" fill="#cff9cf"/>
<rect x="293.60" y="160.30" width="7.70" height="1.00" fill="#f9fff9"/>
<rect x="293.60" y="161.30" width="7.70" height="1.00" fill="#dbffdb"/>
<rect x="293.60" y="162.30" width="7.70" height="2.00" fill="#edffed"/>
<rect x="293.60" y="164.30" width="7.70" height="1.00" fill="#ffffff"/>
<rect x="293.60" y="165.30" width="7.70" height="1.00" fill="#f3fff3"/>
<rect x="293.60" y="166.30" width="7.70" height="1.00" fill="#edffed"/>
<rect x="293.60" y="167.30" width="7.70" height="1.00" fill="#d5ffd5"/>
<rect x="293.60" y="168.30" width="7.70" height="1.00" fill="#c9f9c9"/>
<rect x="293.60" y="169.30" width="7.70" height="1.00" fill="#ffa5a5"/>
<rect x="293.60" y="170.30" width="7.70" height="1.00" fill="#bdf9bd"/>
<rect x="293.60" y="171.30" width="7.70" height="1.00" fill="#b1f9b1"/>
<rect x="293.60" y="172.30" width="7.70" height="2.00" fill="#c3f9c3"/>
<rect x="293.60" y="174.30" width="7.70" height="1.00" fill="#dbffdb"/>
<rect x="293.60" y="175.30" width="7.70" height="1.00" fill="#f9fff9"/>
<rect x="293.60" y="176.30" width="7.70" height="1.00" fill="#f3fff3"/>
<rect x="293.60" y="177.30" width="7.70" height="4.00" fill="#dbffdb"/>
<rect x="293.60" y="181.30" width="7.70" height="1.00" fill="#f3fff3"/>
<rect x="293.60" y="186.30" width="7.70" height="1.00" fill="#dbffdb"/>
<rect x="293.60" y="187.30" width="7.70" height="1.00" fill="#c9f9c9"/>
<rect x="293.60" y="189.30" width="7.70" height="1.00" fill="#f3fff3"/>
<rect x="293.60" y="192.30" width="7.70" height="1.00" fill="#cff9cf"/>
<rect x="293.60" y="193.30" width="7.70" height="2.00" fill="#f9fff9"/>
<rect x="293.60" y="195.30" width="7.70" height="1.00" fill="#ffffff"/>
<rect x="293.60" y="196.30" width="7.70" height="1.00" fill="#f3fff3"/>
<rect x="293.60" y="197.30" width="7.70" height="1.00" fill="#f9fff9"/>
<rect x="293.60" y="198.30" width="7.70" height="1.00" fill="#fff9f9"/>
<rect x="293.60" y="201.30" width="7.70" height="2.00" fill="#f3fff3"/>
<rect x="293.60" y="203.30" width="7.70" height="1.00" fill="#edffed"/>
<rect x="293.60" y="204.30" width="7.70" height="1.00" fill="#f3fff3"/>
<rect x="293.60" y="207.30" width="7.70" height="1.00" fill="#d5ffd5"/>
<rect x="293.60" y="208.30" width="7.70" height="1.00" fill="#ffbdbd"/>
<rect x="293.60" y="209.30" width="7.70" height="1.00" fill="#f3fff3"/>
<rect x="293.60" y="210.30" width="7.70" height="1.00" fill="#f9fff9"/>
<rect x="293.60" y="211.30" width="7.70" height="1.00" fill="#f3fff3"/>
<rect x="293.60" y="216.30" width="7.70" height="1.00" fill="#d5ffd5"/>
<rect x="293.60" y="220.30" width="7.70" height="1.00" fill="#cff9cf"/>
<rect x="293.60" y="221.30" width="7.70" height="1.00" fill="#dbffdb"/>
<rect x="293.60" y="222.30" width="7.70" height="1.00" fill="#f3fff3"/>
<rect x="293.60" y="223.30" width="7.70" height="1.00" fill="#ff9393"/>
<rect x="293.60" y="224.30" width="7.70" height="2.00" fill="#f3fff3"/>
<rect x="293.60" y="226.30" width="7.70" height="1.00" fill="#ffdbdb"/>
<rect x="293.60" y="229.30" width="7.70" height="1.00" fill="#d5ffd5"/>
<rect x="301.30" y="23.30" width="7.70" height="1.00" fill="#ff5151"/>
<rect x="301.30" y="26.30" width="7.70" height="1.00" fill="#ffeded"/>
<rect x="301.30" y="27.30" width="7.70" height="1.00" fill="#ffb7b7"/>
<rect x="301.30" y="29.30" width="7.70" height="1.00" fill="#edffed"/>
<rect x="301.30" y="30.30" width="7.70" height="1.00" fill="#ffc3c3"/>
<rect x="301.30" y="31.30" width="7.70" height="1.00" fill="#fff9f9"/>
<rect x="301.30" y="33.30" width="7.70" height="1.00" fill="#ffffff"/>
<rect x="301.30" y="34.30" width="7.70" height="1.00" fill="#fff9f9"/>
<rect x="301.30" y="35.30" width="7.70" height="2.00" fill="#ffffff"/>
<rect x="301.30" y="37.30" width="7.70" height="1.00" fill="#ffdbdb"/>
<rect x="301.30" y="38.30" width="7.70" height="1.00" fill="#ffd5d5"/>
<rect x="301.30" y="39.30" width="7.70" height="1.00" fill="#ffffff"/>
<rect x="301.30" y="40.30" width="7.70" height="1.00" fill="#f3fff3"/>
<rect x="301.30" y="41.30" width="7.70" height="1.00" fill="#ff8787"/>
<rect x="301.30" y="42.30" width="7.70" height="1.00" fill="#ffffff"/>
<rect x="301.30" y="43.30" width="7.70" height="1.00" fill="#dbffdb"/>
<rect x="301.30" y="49.30" width="7.70" height="1.00" fill="#f3fff3"/>
<rect x="301.30" y="50.30" width="7.70" height="1.00" fill="#fff3f3"/>
<rect x="301.30" y="51.30" width="7.70" height="1.00" fill="#ffffff"/>
<rect x="301.30" y="52.30" width="7.70" height="1.00" fill="#fff9f9"/>
<rect x="301.30" y="53.30" width="7.70" height="2.00" fill="#edffed"/>
<rect x="301.30" y="56.30" width="7.70" height="1.00" fill="#f9fff9"/>
<rect x="301.30" y="58.30" width="7.70" height="1.00" fill="#ffcfcf"/>
<rect x="301.30" y="59.30" width="7.70" height="1.00" fill="#edffed"/>
<rect x="301.30" y="62.30" width="7.70" height="1.00" fill="#edffed"/>
<rect x="301.30" y="64.30" width="7.70" height="1.00" fill="#cff9cf"/>
<rect x="301.30" y="65.30" width="7.70" height="1.00" fill="#edffed"/>
<rect x="301.30" y="66.30" width="7.70" height="1.00" fill="#ff6f6f"/>
<rect x="301.30" y="67.30" width="7.70" height="1.00" fill="#ff3939"/>
<rect x="301.30" y="68.30" width="7.70" height="1.00" fill="#ff6f6f"/>
<rect x="301.30" y="69.30" width="7.70" height="1.00" fill="#ff2d2d"/>
<rect x="301.30" y="70.30" width="7.70" height="1.00" fill="#ff3939"/>
<rect x="301.30" y="71.30" width="7.70" height="1.00" fill="#ff1515"/>
<rect x="301.30" y="72.30" width="7.70" height="5.00" fill="#ff0303"/>
<rect x="301.30" y="77.30" width="7.70" height="1.00" fill="#ff2121"/>
<rect x="301.30" y="78.30" width="7.70" height="6.00" fill="#ff0303"/>
<rect x="301.30" y="85.30" width="7.70" height="1.00" fill="#cff9cf"/>
<rect x="301.30" y="87.30" width="7.70" height="1.00" fill="#dbffdb"/>
<rect x="301.30" y="88.30" width="7.70" height="1.00" fill="#edffed"/>
<rect x="301.30" y="89.30" width="7.70" height="1.00" fill="#dbffdb"/>
<rect x="301.30" y="90.30" width="7.70" height="1.00" fill="#c9f9c9"/>
<rect x="301.30" y="92.30" width="7.70" height="1.00" fill="#cff9cf"/>
<rect x="301.30" y="93.30" width="7.70" height="1.00" fill="#f3fff3"/>
<rect x="301.30" y="94.30" width="7.70" height="1.00" fill="#d5ffd5"/>
<rect x="301.30" y="97.30" width="7.70" height="1.00" fill="#cff9cf"/>
<rect x="301.30" y="98.30" width="7.70" height="1.00" fill="#c3f9c3"/>
<rect x="301.30" y="99.30" width="7.70" height="1.00" fill="#c9f9c9"/>
<rect x="301.30" y="100.30" width="7.70" height="1.00" fill="#f9fff9"/>
<rect x="301.30" y="101.30" width="7.70" height="1.00" fill="#fff9f9"/>
<rect x="301.30" y="102.30" width="7.70" height="1.00" fill="#ffeded"/>
<rect x="301.30" y="103.30" width="7.70" height="1.00" fill="#f3fff3"/>
<rect x="301.30" y="104.30" width="7.70" height="1.00" fill="#d5ffd5"/>
<rect x="301.30" y="107.30" width="7.70" height="1.00" fill="#f9fff9"/>
<rect x="301.30" y="108.30" width="7.70" height="1.00" fill="#ffa5a5"/>
<rect x="301.30" y="110.30" width="7.70" height="1.00" fill="#d5ffd5"/>
<rect x="301.30" y="111.30" width="7.70" height="1.00" fill="#edffed"/>
<rect x="301.30" y="112.30" width="7.70" height="3.00" fill="#dbffdb"/>
<rect x="301.30" y="115.30" width="7.70" height="1.00" fill="#ff8787"/>
<rect x="301.30" y="116.30" width="7.70" height="1.00" fill="#ffd5d5"/>
<rect x="301.30" y="117.30" width="7.70" height="1.00" fill="#d5ffd5"/>
<rect x="301.30" y="118.30" width="7.70" height="2.00" fill="#edffed"/>
<rect x="301.30" y="120.30" width="7.70" height="1.00" fill="#ffe7e7"/>
<rect x="301.30" y="124.30" width="7.70" height="1.00" fill="#ffeded"/>
<rect x="301.30" y="125.30" width="7.70" height="1.00" fill="#fff3f3"/>
<rect x="301.30" y="126.30" width="7.70" height="1.00" fill="#ffffff"/>
<rect x="301.30" y="128.30" width="7.70" height="1.00" fill="#d5ffd5"/>
<rect x="301.30" y="129.30" width="7.70" height="1.00" fill="#ff7575"/>
<rect x="301.30" y="131.30" width="7.70" height="1.00" fill="#d5ffd5"/>
<rect x="301.30" y="133.30" width="7.70" height="1.00" fill="#ffffff"/>
<rect x="301.30" y="135.30" width="7.70" height="1.00" fill="#fff3f3"/>
<rect x="301.30" y="136.30" width="7.70" height="1.00" fill="#f3fff3"/>
<rect x="301.30" y="137.30" width="7.70" height="2.00" fill="#edffed"/>
<rect x="301.30" y="139.30" width="7.70" height="1.00" fill="#f3fff3"/>
<rect x="301.30" y="140.30" width="7.70" height="1.00" fill="#f9fff9"/>
<rect x="301.30" y="142.30" width="7.70" height="1.00" fill="#dbffdb"/>
<rect x="301.30" y="143.30" width="7.70" height="1.00" fill="#f9fff9"/>
<rect x="301.30" y="144.30" width="7.70" height="1.00" fill="#f3fff3"/>
<rect x="301.30" y="145.30" width="7.70" height="1.00" fill="#ffd5d5"/>
<rect x="301.30" y="146.30" width="7.70" height="1.00" fill="#f9fff9"/>
<rect x="301.30" y="147.30" width="7.70" height="1.00" fill="#f3fff3"/>
<rect x="301.30" y="149.30" width="7.70" height="1.00" fill="#f3fff3"/>
<rect x="301.30" y="151.30" width="7.70" height="1.00" fill="#f9fff9"/>
<rect x="301.30" y="152.30" width="7.70" height="1.00" fill="#edffed"/>
<rect x="301.30" y="154.30" width="7.70" height="1.00" fill="#edffed"/>
<rect x="301.30" y="158.30" width="7.70" height="2.00" fill="#d5ffd5"/>
<rect x="301.30" y="160.30" width="7.70" height="2.00" fill="#edffed"/>
<rect x="301.30" y="164.30" width="7.70" height="1.00" fill="#f3fff3"/>
<rect x="301.30" y="166.30" width="7.70" height="1.00" fill="#f3fff3"/>
<rect x="301.30" y="167.30" width="7.70" height="1.00" fill="#dbffdb"/>
<rect x="301.30" y="168.30" width="7.70" height="1.00" fill="#c9f9c9"/>
<rect x="301.30" y="169.30" width="7.70" height="1.00" fill="#ffdbdb"/>
<rect x="301.30" y="170.30" width="7.70" height="1.00" fill="#c9f9c9"/>
<rect x="301.30" y="171.30" width="7.70" height="1.00" fill="#bdf9bd"/>
<rect x="301.30" y="172.30" width="7.70" height="1.00" fill="#cff9cf"/>
<rect x="301.30" y="173.30" width="7.70" height="1.00" fill="#c3f9c3"/>
<rect x="301.30" y="174.30" width="7.70" height="1.00" fill="#ff6f6f"/>
<rect x="301.30" y="175.30" width="7.70" height="1.00" fill="#f3fff3"/>
<rect x="301.30" y="176.30" width="7.70" height="1.00" fill="#ffc9c9"/>
<rect x="301.30" y="177.30" width="7.70" height="1.00" fill="#ffb7b7"/>
<rect x="301.30" y="178.30" width="7.70" height="1.00" fill="#ffe7e7"/>
<rect x="301.30" y="183.30" width="7.70" height="1.00" fill="#c9f9c9"/>
<rect x="301.30" y="186.30" width="7.70" height="1.00" fill="#ffbdbd"/>
<rect x="301.30" y="187.30" width="7.70" height="1.00" fill="#c3f9c3"/>
<rect x="301.30" y="189.30" width="7.70" height="1.00" fill="#ffffff"/>
<rect x="301.30" y="190.30" width="7.70" height="1.00" fill="#f9fff9"/>
<rect x="301.30" y="191.30" width="7.70" height="1.00" fill="#ffb1b1"/>
<rect x="301.30" y="193.30" width="7.70" height="1.00" fill="#ff6969"/>
<rect x="301.30" y="194.30" width="7.70" height="1.00" fill="#f3fff3"/>
<rect x="301.30" y="195.30" width="7.70" height="1.00" fill="#fff3f3"/>
<rect x="301.30" y="196.30" width="7.70" height="1.00" fill="#f9fff9"/>
<rect x="301.30" y="197.30" width="7.70" height="1.00" fill="#fff9f9"/>
<rect x="301.30" y="198.30" width="7.70" height="1.00" fill="#ffffff"/>
<rect x="301.30" y="201.30" width="7.70" height="1.00" fill="#ffc3c3"/>
<rect x="301.30" y="203.30" width="7.70" height="1.00" fill="#edffed"/>
<rect x="301.30" y="204.30" width="7.70" height="1.00" fill="#ffc9c9"/>
<rect x="301.30" y="209.30" width="7.70" height="1.00" fill="#ffffff"/>
<rect x="301.30" y="213.30" width="7.70" height="1.00" fill="#d5ffd5"/>
<rect x="301.30" y="215.30" width="7.70" height="1.00" fill="#ff4b4b"/>
<rect x="301.30" y="218.30" width="7.70" height="1.00" fill="#ff5151"/>
<rect x="301.30" y="220.30" width="7.70" height="1.00" fill="#d5ffd5"/>
<rect x="301.30" y="221.30" width="7.70" height="1.00" fill="#dbffdb"/>
<rect x="301.30" y="223.30" width="7.70" height="1.00" fill="#f3fff3"/>
<rect x="301.30" y="224.30" width="7.70" height="1.00" fill="#fff9f9"/>
<rect x="301.30" y="225.30" width="7.70" height="2.00" fill="#f3fff3"/>
<rect x="301.30" y="229.30" width="7.70" height="1.00" fill="#c9f9c9"/>
<rect x="301.30" y="230.30" width="7.70" height="1.00" fill="#dbffdb"/>
<rect x="309.00" y="23.30" width="7.70" height="1.00" fill="#d5ffd5"/>
<rect x="309.00" y="25.30" width="7.70" height="1.00" fill="#edffed"/>
<rect x="309.00" y="26.30" width="7.70" height="1.00" fill="#fff9f9"/>
<rect x="309.00" y="27.30" width="7.70" height="1.00" fill="#f3fff3"/>
<rect x="309.00" y="28.30" width="7.70" height="1.00" fill="#ffb7b7"/>
<rect x="309.00" y="29.30" width="7.70" height="2.00" fill="#f9fff9"/>
<rect x="309.00" y="32.30" width="7.70" height="1.00" fill="#cff9cf"/>
<rect x="309.00" y="33.30" width="7.70" height="1.00" fill="#ffdbdb"/>
<rect x="309.00" y="34.30" width="7.70" height="1.00" fill="#ffffff"/>
<rect x="309.00" y="36.30" width="7.70" height="1.00" fill="#edffed"/>
<rect x="309.00" y="38.30" width="7.70" height="1.00" fill="#ffdbdb"/>
<rect x="309.00" y="39.30" width="7.70" height="1.00" fill="#fff3f3"/>
<rect x="309.00" y="40.30" width="7.70" height="1.00" fill="#f3fff3"/>
<rect x="309.00" y="42.30" width="7.70" height="1.00" fill="#f3fff3"/>
<rect x="309.00" y="43.30" width="7.70" height="1.00" fill="#cff9cf"/>
<rect x="309.00" y="45.30" width="7.70" height="2.00" fill="#edffed"/>
<rect x="309.00" y="49.30" width="7.70" height="1.00" fill="#f3fff3"/>
<rect x="309.00" y="50.30" width="7.70" height="1.00" fill="#ffeded"/>
<rect x="309.00" y="51.30" width="7.70" height="1.00" fill="#ffe1e1"/>
<rect x="309.00" y="52.30" width="7.70" height="1.00" fill="#ffe7e7"/>
<rect x="309.00" y="53.30" width="7.70" height="1.00" fill="#edffed"/>
<rect x="309.00" y="56.30" width="7.70" height="1.00" fill="#f3fff3"/>
<rect x="309.00" y="58.30" width="7.70" height="2.00" fill="#f3fff3"/>
<rect x="309.00" y="60.30" width="7.70" height="1.00" fill="#ffc3c3"/>
<rect x="309.00" y="62.30" width="7.70" height="1.00" fill="#f3fff3"/>
<rect x="309.00" y="64.30" width="7.70" height="1.00" fill="#d5ffd5"/>
<rect x="309.00" y="66.30" width="7.70" height="2.00" fill="#f9fff9"/>
<rect x="309.00" y="68.30" width="7.70" height="1.00" fill="#ffb7b7"/>
<rect x="309.00" y="70.30" width="7.70" height="1.00" fill="#ffcfcf"/>
<rect x="309.00" y="72.30" width="7.70" height="2.00" fill="#f3fff3"/>
<rect x="309.00" y="74.30" width="7.70" height="1.00" fill="#edffed"/>
<rect x="309.00" y="75.30" width="7.70" height="1.00" fill="#f3fff3"/>
<rect x="309.00" y="78.30" width="7.70" height="2.00" fill="#edffed"/>
<rect x="309.00" y="80.30" width="7.70" height="1.00" fill="#f3fff3"/>
<rect x="309.00" y="81.30" width="7.70" height="1.00" fill="#cff9cf"/>
<rect x="309.00" y="82.30" width="7.70" height="1.00" fill="#d5ffd5"/>
<rect x="309.00" y="85.30" width="7.70" height="1.00" fill="#dbffdb"/>
<rect x="309.00" y="87.30" width="7.70" height="1.00" fill="#cff9cf"/>
<rect x="309.00" y="88.30" width="7.70" height="1.00" fill="#ff6f6f"/>
<rect x="309.00" y="90.30" width="7.70" height="1.00" fill="#ffdbdb"/>
<rect x="309.00" y="91.30" width="7.70" height="1.00" fill="#ffcfcf"/>
<rect x="309.00" y="92.30" width="7.70" height="1.00" fill="#cff9cf"/>
<rect x="309.00" y="94.30" width="7.70" height="2.00" fill="#d5ffd5"/>
<rect x="309.00" y="97.30" width="7.70" height="1.00" fill="#dbffdb"/>
<rect x="309.00" y="98.30" width="7.70" height="2.00" fill="#c9f9c9"/>
<rect x="309.00" y="100.30" width="7.70" height="1.00" fill="#edffed"/>
<rect x="309.00" y="101.30" width="7.70" height="1.00" fill="#ffe7e7"/>
<rect x="309.00" y="102.30" width="7.70" height="1.00" fill="#ffeded"/>
<rect x="309.00" y="103.30" width="7.70" height="1.00" fill="#f9fff9"/>
<rect x="309.00" y="107.30" width="7.70" height="1.00" fill="#f3fff3"/>
<rect x="309.00" y="108.30" width="7.70" height="1.00" fill="#f9fff9"/>
<rect x="309.00" y="109.30" width="7.70" height="1.00" fill="#ffc3c3"/>
<rect x="309.00" y="111.30" width="7.70" height="1.00" fill="#f3fff3"/>
<rect x="309.00" y="113.30" width="7.70" height="1.00" fill="#d5ffd5"/>
<rect x="309.00" y="114.30" width="7.70" height="1.00" fill="#dbffdb"/>
<rect x="309.00" y="115.30" width="7.70" height="1.00" fill="#d5ffd5"/>
<rect x="309.00" y="118.30" width="7.70" height="1.00" fill="#ff9f9f"/>
<rect x="309.00" y="119.30" width="7.70" height="1.00" fill="#ffd5d5"/>
<rect x="309.00" y="122.30" width="7.70" height="1.00" fill="#fff3f3"/>
<rect x="309.00" y="123.30" width="7.70" height="1.00" fill="#edffed"/>
<rect x="309.00" y="124.30" width="7.70" height="1.00" fill="#ffabab"/>
<rect x="309.00" y="125.30" width="7.70" height="1.00" fill="#fff9f9"/>
<rect x="309.00" y="126.30" width="7.70" height="1.00" fill="#ffa5a5"/>
<rect x="309.00" y="127.30" width="7.70" height="1.00" fill="#f3fff3"/>
<rect x="309.00" y="128.30" width="7.70" height="1.00" fill="#ffabab"/>
<rect x="309.00" y="129.30" width="7.70" height="1.00" fill="#edffed"/>
<rect x="309.00" y="131.30" width="7.70" height="1.00" fill="#c9f9c9"/>
<rect x="309.00" y="133.30" width="7.70" height="1.00" fill="#f3fff3"/>
<rect x="309.00" y="134.30" width="7.70" height="1.00" fill="#edffed"/>
<rect x="309.00" y="135.30" width="7.70" height="1.00" fill="#f3fff3"/>
<rect x="309.00" y="136.30" width="7.70" height="1.00" fill="#f9fff9"/>
<rect x="309.00" y="137.30" width="7.70" height="1.00" fill="#edffed"/>
<rect x="309.00" y="138.30" width="7.70" height="1.00" fill="#f3fff3"/>
<rect x="309.00" y="141.30" width="7.70" height="1.00" fill="#ffbdbd"/>
<rect x="309.00" y="142.30" width="7.70" height="1.00" fill="#d5ffd5"/>
<rect x="309.00" y="143.30" width="7.70" height="1.00" fill="#f9fff9"/>
<rect x="309.00" y="144.30" width="7.70" height="1.00" fill="#ffbdbd"/>
<rect x="309.00" y="145.30" width="7.70" height="1.00" fill="#ffd5d5"/>
<rect x="309.00" y="146.30" width="7.70" height="1.00" fill="#f3fff3"/>
<rect x="309.00" y="147.30" width="7.70" height="5.00" fill="#ff9393"/>
<rect x="309.00" y="152.30" width="7.70" height="1.00" fill="#f3fff3"/>
<rect x="309.00" y="154.30" width="7.70" height="1.00" fill="#f3fff3"/>
<rect x="309.00" y="157.30" width="7.70" height="1.00" fill="#ff6363"/>
<rect x="309.00" y="158.30" width="7.70" height="1.00" fill="#dbffdb"/>
<rect x="309.00" y="159.30" width="7.70" height="1.00" fill="#ff6f6f"/>
<rect x="309.00" y="160.30" width="7.70" height="1.00" fill="#f3fff3"/>
<rect x="309.00" y="164.30" width="7.70" height="1.00" fill="#ffbdbd"/>
<rect x="309.00" y="165.30" width="7.70" height="1.00" fill="#ffffff"/>
<rect x="309.00" y="166.30" width="7.70" height="1.00" fill="#ffe1e1"/>
<rect x="309.00" y="167.30" width="7.70" height="1.00" fill="#d5ffd5"/>
<rect x="309.00" y="168.30" width="7.70" height="1.00" fill="#c9f9c9"/>
<rect x="309.00" y="169.30" width="7.70" height="1.00" fill="#cff9cf"/>
<rect x="309.00" y="170.30" width="7.70" height="1.00" fill="#c3f9c3"/>
<rect x="309.00" y="171.30" width="7.70" height="1.00" fill="#b7f9b7"/>
<rect x="309.00" y="172.30" width="7.70" height="1.00" fill="#c9f9c9"/>
<rect x="309.00" y="173.30" width="7.70" height="1.00" fill="#c3f9c3"/>
<rect x="309.00" y="175.30" width="7.70" height="2.00" fill="#edffed"/>
<rect x="309.00" y="177.30" width="7.70" height="1.00" fill="#ffbdbd"/>
<rect x="309.00" y="178.30" width="7.70" height="1.00" fill="#c3f9c3"/>
<rect x="309.00" y="181.30" width="7.70" height="1.00" fill="#f3fff3"/>
<rect x="309.00" y="185.30" width="7.70" height="1.00" fill="#edffed"/>
<rect x="309.00" y="187.30" width="7.70" height="1.00" fill="#c3f9c3"/>
<rect x="309.00" y="188.30" width="7.70" height="7.00" fill="#ff0303"/>
<rect x="309.00" y="195.30" width="7.70" height="1.00" fill="#ff0909"/>
<rect x="309.00" y="196.30" width="7.70" height="1.00" fill="#ff3333"/>
<rect x="309.00" y="197.30" width="7.70" height="1.00" fill="#ff6969"/>
<rect x="309.00" y="198.30" width="7.70" height="1.00" fill="#f9fff9"/>
<rect x="309.00" y="201.30" width="7.70" height="1.00" fill="#f9fff9"/>
<rect x="309.00" y="202.30" width="7.70" height="1.00" fill="#f3fff3"/>
<rect x="309.00" y="203.30" width="7.70" height="1.00" fill="#edffed"/>
<rect x="309.00" y="204.30" width="7.70" height="1.00" fill="#f3fff3"/>
<rect x="309.00" y="207.30" width="7.70" height="1.00" fill="#dbffdb"/>
<rect x="309.00" y="209.30" width="7.70" height="2.00" fill="#f9fff9"/>
<rect x="309.00" y="211.30" width="7.70" height="1.00" fill="#f3fff3"/>
<rect x="309.00" y="212.30" width="7.70" height="1.00" fill="#dbffdb"/>
<rect x="309.00" y="214.30" width="7.70" height="1.00" fill="#ffc3c3"/>
<rect x="309.00" y="216.30" width="7.70" height="1.00" fill="#dbffdb"/>
<rect x="309.00" y="218.30" width="7.70" height="2.00" fill="#dbffdb"/>
<rect x="309.00" y="220.30" width="7.70" height="1.00" fill="#c3f9c3"/>
<rect x="309.00" y="222.30" width="7.70" height="1.00" fill="#f3fff3"/>
<rect x="309.00" y="223.30" width="7.70" height="1.00" fill="#edffed"/>
<rect x="309.00" y="224.30" width="7.70" height="1.00" fill="#f3fff3"/>
<rect x="309.00" y="225.30" width="7.70" height="1.00" fill="#f9fff9"/>
<rect x="309.00" y="226.30" width="7.70" height="1.00" fill="#f3fff3"/>
<rect x="309.00" y="228.30" width="7.70" height="2.00" fill="#dbffdb"/>
<rect x="309.00" y="230.30" width="7.70" height="1.00" fill="#edffed"/>
<rect x="316.70" y="23.30" width="7.70" height="1.00" fill="#d5ffd5"/>
<rect x="316.70" y="24.30" width="7.70" height="1.00" fill="#c9f9c9"/>
<rect x="316.70" y="26.30" width="7.70" height="1.00" fill="#ffffff"/>
<rect x="316.70" y="27.30" width="7.70" height="1.00" fill="#f9fff9"/>
<rect x="316.70" y="29.30" width="7.70" height="1.00" fill="#f9fff9"/>
<rect x="316.70" y="30.30" width="7.70" height="2.00" fill="#f3fff3"/>
<rect x="316.70" y="33.30" width="7.70" height="3.00" fill="#ffffff"/>
<rect x="316.70" y="38.30" width="7.70" height="1.00" fill="#ffffff"/>
<rect x="316.70" y="40.30" width="7.70" height="1.00" fill="#edffed"/>
<rect x="316.70" y="42.30" width="7.70" height="1.00" fill="#ffc3c3"/>
<rect x="316.70" y="49.30" width="7.70" height="1.00" fill="#f3fff3"/>
<rect x="316.70" y="50.30" width="7.70" height="1.00" fill="#ffffff"/>
<rect x="316.70" y="51.30" width="7.70" height="2.00" fill="#fff3f3"/>
<rect x="316.70" y="54.30" width="7.70" height="1.00" fill="#dbffdb"/>
<rect x="316.70" y="56.30" width="7.70" height="1.00" fill="#f3fff3"/>
<rect x="316.70" y="57.30" width="7.70" height="1.00" fill="#d5ffd5"/>
<rect x="316.70" y="58.30" width="7.70" height="1.00" fill="#f3fff3"/>
<rect x="316.70" y="59.30" width="7.70" height="1.00" fill="#d5ffd5"/>
<rect x="316.70" y="62.30" width="7.70" height="1.00" fill="#f3fff3"/>
<rect x="316.70" y="63.30" width="7.70" height="1.00" fill="#ffbdbd"/>
<rect x="316.70" y="64.30" width="7.70" height="1.00" fill="#dbffdb"/>
<rect x="316.70" y="65.30" width="7.70" height="1.00" fill="#f9fff9"/>
<rect x="316.70" y="67.30" width="7.70" height="1.00" fill="#f9fff9"/>
<rect x="316.70" y="68.30" width="7.70" height="1.00" fill="#d5ffd5"/>
<rect x="316.70" y="70.30" width="7.70" height="1.00" fill="#cff9cf"/>
<rect x="316.70" y="71.30" width="7.70" height="1.00" fill="#dbffdb"/>
<rect x="316.70" y="72.30" width="7.70" height="1.00" fill="#edffed"/>
<rect x="316.70" y="73.30" width="7.70" height="3.00" fill="#f3fff3"/>
<rect x="316.70" y="79.30" width="7.70" height="1.00" fill="#edffed"/>
<rect x="316.70" y="80.30" width="7.70" height="1.00" fill="#ffbdbd"/>
<rect x="316.70" y="81.30" width="7.70" height="1.00" fill="#d5ffd5"/>
<rect x="316.70" y="83.30" width="7.70" height="1.00" fill="#cff9cf"/>
<rect x="316.70" y="84.30" width="7.70" height="1.00" fill="#f3fff3"/>
<rect x="316.70" y="85.30" width="7.70" height="1.00" fill="#dbffdb"/>
<rect x="316.70" y="90.30" width="7.70" height="1.00" fill="#cff9cf"/>
<rect x="316.70" y="91.30" width="7.70" height="1.00" fill="#d5ffd5"/>
<rect x="316.70" y="92.30" width="7.70" height="1.00" fill="#bdf9bd"/>
<rect x="316.70" y="93.30" width="7.70" height="1.00" fill="#edffed"/>
<rect x="316.70" y="94.30" width="7.70" height="1.00" fill="#dbffdb"/>
<rect x="316.70" y="95.30" width="7.70" height="1.00" fill="#d5ffd5"/>
<rect x="316.70" y="97.30" width="7.70" height="1.00" fill="#dbffdb"/>
<rect x="316.70" y="98.30" width="7.70" height="1.00" fill="#c3f9c3"/>
<rect x="316.70" y="99.30" width="7.70" height="1.00" fill="#cff9cf"/>
<rect x="316.70" y="100.30" width="7.70" height="2.00" fill="#f9fff9"/>
<rect x="316.70" y="102.30" width="7.70" height="1.00" fill="#fff3f3"/>
<rect x="316.70" y="103.30" width="7.70" height="1.00" fill="#edffed"/>
<rect x="316.70" y="104.30" width="7.70" height="1.00" fill="#d5ffd5"/>
<rect x="316.70" y="105.30" width="7.70" height="1.00" fill="#ffeded"/>
<rect x="316.70" y="106.30" width="7.70" height="1.00" fill="#ff6f6f"/>
<rect x="316.70" y="108.30" width="7.70" height="1.00" fill="#f9fff9"/>
<rect x="316.70" y="111.30" width="7.70" height="1.00" fill="#f3fff3"/>
<rect x="316.70" y="113.30" width="7.70" height="1.00" fill="#d5ffd5"/>
<rect x="316.70" y="114.30" width="7.70" height="1.00" fill="#dbffdb"/>
<rect x="316.70" y="120.30" width="7.70" height="1.00" fill="#dbffdb"/>
<rect x="316.70" y="121.30" width="7.70" height="1.00" fill="#edffed"/>
<rect x="316.70" y="122.30" width="7.70" height="2.00" fill="#f3fff3"/>
<rect x="316.70" y="124.30" width="7.70" height="1.00" fill="#ffeded"/>
<rect x="316.70" y="125.30" width="7.70" height="2.00" fill="#f9fff9"/>
<rect x="316.70" y="128.30" width="7.70" height="1.00" fill="#bdf9bd"/>
<rect x="316.70" y="131.30" width="7.70" height="1.00" fill="#c3f9c3"/>
<rect x="316.70" y="133.30" width="7.70" height="1.00" fill="#f3fff3"/>
<rect x="316.70" y="134.30" width="7.70" height="1.00" fill="#f9fff9"/>
<rect x="316.70" y="135.30" width="7.70" height="1.00" fill="#f3fff3"/>
<rect x="316.70" y="136.30" width="7.70" height="1.00" fill="#edffed"/>
<rect x="316.70" y="137.30" width="7.70" height="1.00" fill="#f9fff9"/>
<rect x="316.70" y="138.30" width="7.70" height="1.00" fill="#f3fff3"/>
<rect x="316.70" y="142.30" width="7.70" height="1.00" fill="#d5ffd5"/>
<rect x="316.70" y="143.30" width="7.70" height="1.00" fill="#f3fff3"/>
<rect x="316.70" y="145.30" width="7.70" height="1.00" fill="#ffdbdb"/>
<rect x="316.70" y="146.30" width="7.70" height="1.00" fill="#ffc3c3"/>
<rect x="316.70" y="148.30" width="7.70" height="1.00" fill="#ff8d8d"/>
<rect x="316.70" y="151.30" width="7.70" height="1.00" fill="#f3fff3"/>
<rect x="316.70" y="152.30" width="7.70" height="12.00" fill="#ff0303"/>
<rect x="316.70" y="164.30" width="7.70" height="1.00" fill="#ff1515"/>
<rect x="316.70" y="165.30" width="7.70" height="1.00" fill="#ff0303"/>
<rect x="316.70" y="166.30" width="7.70" height="1.00" fill="#ff0f0f"/>
<rect x="316.70" y="167.30" width="7.70" height="1.00" fill="#ff2d2d"/>
<rect x="316.70" y="168.30" width="7.70" height="1.00" fill="#ff0f0f"/>
<rect x="316.70" y="169.30" width="7.70" height="1.00" fill="#ff6363"/>
<rect x="316.70" y="170.30" width="7.70" height="1.00" fill="#c3f9c3"/>
<rect x="316.70" y="171.30" width="7.70" height="1.00" fill="#b1f9b1"/>
<rect x="316.70" y="172.30" width="7.70" height="1.00" fill="#c9f9c9"/>
<rect x="316.70" y="173.30" width="7.70" height="1.00" fill="#bdf9bd"/>
<rect x="316.70" y="175.30" width="7.70" height="1.00" fill="#f3fff3"/>
<rect x="316.70" y="176.30" width="7.70" height="1.00" fill="#edffed"/>
<rect x="316.70" y="177.30" width="7.70" height="1.00" fill="#cff9cf"/>
<rect x="316.70" y="178.30" width="7.70" height="1.00" fill="#d5ffd5"/>
<rect x="316.70" y="180.30" width="7.70" height="1.00" fill="#dbffdb"/>
<rect x="316.70" y="182.30" width="7.70" height="1.00" fill="#dbffdb"/>
<rect x="316.70" y="184.30" width="7.70" height="1.00" fill="#f3fff3"/>
<rect x="316.70" y="185.30" width="7.70" height="2.00" fill="#dbffdb"/>
<rect x="316.70" y="187.30" width="7.70" height="1.00" fill="#c3f9c3"/>
<rect x="316.70" y="189.30" width="7.70" height="1.00" fill="#f3fff3"/>
<rect x="316.70" y="192.30" width="7.70" height="1.00" fill="#d5ffd5"/>
<rect x="316.70" y="194.30" width="7.70" height="2.00" fill="#f3fff3"/>
<rect x="316.70" y="196.30" width="7.70" height="2.00" fill="#edffed"/>
<rect x="316.70" y="198.30" width="7.70" height="1.00" fill="#ffbdbd"/>
<rect x="316.70" y="201.30" width="7.70" height="1.00" fill="#edffed"/>
<rect x="316.70" y="202.30" width="7.70" height="1.00" fill="#f3fff3"/>
<rect x="316.70" y="204.30" width="7.70" height="2.00" fill="#f3fff3"/>
<rect x="316.70" y="209.30" width="7.70" height="1.00" fill="#edffed"/>
<rect x="316.70" y="212.30" width="7.70" height="1.00" fill="#cff9cf"/>
<rect x="316.70" y="213.30" width="7.70" height="1.00" fill="#d5ffd5"/>
<rect x="316.70" y="216.30" width="7.70" height="1.00" fill="#ffdbdb"/>
<rect x="316.70" y="217.30" width="7.70" height="1.00" fill="#d5ffd5"/>
<rect x="316.70" y="219.30" width="7.70" height="1.00" fill="#d5ffd5"/>
<rect x="316.70" y="220.30" width="7.70" height="1.00" fill="#c9f9c9"/>
<rect x="316.70" y="222.30" width="7.70" height="1.00" fill="#d5ffd5"/>
<rect x="316.70" y="223.30" width="7.70" height="1.00" fill="#edffed"/>
<rect x="316.70" y="225.30" width="7.70" height="1.00" fill="#ffffff"/>
<rect x="316.70" y="228.30" width="7.70" height="1.00" fill="#d5ffd5"/>
<rect x="316.70" y="229.30" width="7.70" height="1.00" fill="#cff9cf"/>
<rect x="324.40" y="23.30" width="7.70" height="1.00" fill="#cff9cf"/>
<rect x="324.40" y="26.30" width="7.70" height="1.00" fill="#fff3f3"/>
<rect x="324.40" y="27.30" width="7.70" height="1.00" fill="#ffffff"/>
<rect x="324.40" y="29.30" width="7.70" height="1.00" fill="#f3fff3"/>
<rect x="324.40" y="30.30" width="7.70" height="2.00" fill="#f9fff9"/>
<rect x="324.40" y="32.30" width="7.70" height="1.00" fill="#c9f9c9"/>
<rect x="324.40" y="33.30" width="7.70" height="1.00" fill="#f3fff3"/>
<rect x="324.40" y="34.30" width="7.70" height="1.00" fill="#ffffff"/>
<rect x="324.40" y="35.30" width="7.70" height="2.00" fill="#f9fff9"/>
<rect x="324.40" y="38.30" width="7.70" height="1.00" fill="#f3fff3"/>
<rect x="324.40" y="39.30" width="7.70" height="2.00" fill="#f9fff9"/>
<rect x="324.40" y="42.30" width="7.70" height="1.00" fill="#f3fff3"/>
<rect x="324.40" y="44.30" width="7.70" height="1.00" fill="#edffed"/>
<rect x="324.40" y="46.30" width="7.70" height="1.00" fill="#f3fff3"/>
<rect x="324.40" y="47.30" width="7.70" height="1.00" fill="#dbffdb"/>
<rect x="324.40" y="50.30" width="7.70" height="1.00" fill="#fff9f9"/>
<rect x="324.40" y="51.30" width="7.70" height="1.00" fill="#f9fff9"/>
<rect x="324.40" y="52.30" width="7.70" height="1.00" fill="#fff9f9"/>
<rect x="324.40" y="54.30" width="7.70" height="1.00" fill="#f3fff3"/>
<rect x="324.40" y="56.30" width="7.70" height="1.00" fill="#f3fff3"/>
<rect x="324.40" y="57.30" width="7.70" height="1.00" fill="#d5ffd5"/>
<rect x="324.40" y="58.30" width="7.70" height="1.00" fill="#f3fff3"/>
<rect x="324.40" y="62.30" width="7.70" height="1.00" fill="#edffed"/>
<rect x="324.40" y="63.30" width="7.70" height="1.00" fill="#f9fff9"/>
<rect x="324.40" y="67.30" width="7.70" height="1.00" fill="#ffffff"/>
<rect x="324.40" y="71.30" width="7.70" height="1.00" fill="#d5ffd5"/>
<rect x="324.40" y="73.30" width="7.70" height="1.00" fill="#edffed"/>
<rect x="324.40" y="74.30" width="7.70" height="1.00" fill="#f9fff9"/>
<rect x="324.40" y="75.30" width="7.70" height="5.00" fill="#edffed"/>
<rect x="324.40" y="81.30" width="7.70" height="1.00" fill="#d5ffd5"/>
<rect x="324.40" y="82.30" width="7.70" height="1.00" fill="#dbffdb"/>
<rect x="324.40" y="83.30" width="7.70" height="1.00" fill="#ffabab"/>
<rect x="324.40" y="84.30" width="7.70" height="1.00" fill="#edffed"/>
<rect x="324.40" y="85.30" width="7.70" height="1.00" fill="#d5ffd5"/>
<rect x="324.40" y="86.30" width="7.70" height="1.00" fill="#edffed"/>
<rect x="324.40" y="87.30" width="7.70" height="1.00" fill="#c9f9c9"/>
<rect x="324.40" y="88.30" width="7.70" height="1.00" fill="#f3fff3"/>
<rect x="324.40" y="90.30" width="7.70" height="1.00" fill="#c9f9c9"/>
<rect x="324.40" y="92.30" width="7.70" height="2.00" fill="#d5ffd5"/>
<rect x="324.40" y="94.30" width="7.70" height="1.00" fill="#cff9cf"/>
<rect x="324.40" y="97.30" width="7.70" height="2.00" fill="#c9f9c9"/>
<rect x="324.40" y="99.30" width="7.70" height="1.00" fill="#c3f9c3"/>
<rect x="324.40" y="100.30" width="7.70" height="1.00" fill="#f3fff3"/>
<rect x="324.40" y="101.30" width="7.70" height="1.00" fill="#f9fff9"/>
<rect x="324.40" y="102.30" width="7.70" height="1.00" fill="#ffffff"/>
<rect x="324.40" y="103.30" width="7.70" height="1.00" fill="#edffed"/>
<rect x="324.40" y="104.30" width="7.70" height="2.00" fill="#dbffdb"/>
<rect x="324.40" y="108.30" width="7.70" height="1.00" fill="#f9fff9"/>
<rect x="324.40" y="109.30" width="7.70" height="1.00" fill="#edffed"/>
<rect x="324.40" y="110.30" width="7.70" height="1.00" fill="#d5ffd5"/>
<rect x="324.40" y="111.30" width="7.70" height="1.00" fill="#edffed"/>
<rect x="324.40" y="115.30" width="7.70" height="1.00" fill="#d5ffd5"/>
<rect x="324.40" y="116.30" width="7.70" height="1.00" fill="#edffed"/>
<rect x="324.40" y="117.30" width="7.70" height="1.00" fill="#d5ffd5"/>
<rect x="324.40" y="119.30" width="7.70" height="1.00" fill="#f3fff3"/>
<rect x="324.40" y="122.30" width="7.70" height="1.00" fill="#f3fff3"/>
<rect x="324.40" y="124.30" width="7.70" height="1.00" fill="#fff3f3"/>
<rect x="324.40" y="125.30" width="7.70" height="1.00" fill="#ffffff"/>
<rect x="324.40" y="126.30" width="7.70" height="1.00" fill="#f9fff9"/>
<rect x="324.40" y="127.30" width="7.70" height="1.00" fill="#edffed"/>
<rect x="324.40" y="128.30" width="7.70" height="1.00" fill="#d5ffd5"/>
<rect x="324.40" y="131.30" width="7.70" height="1.00" fill="#d5ffd5"/>
<rect x="324.40" y="133.30" width="7.70" height="1.00" fill="#f3fff3"/>
<rect x="324.40" y="135.30" width="7.70" height="1.00" fill="#fff9f9"/>
<rect x="324.40" y="136.30" width="7.70" height="1.00" fill="#edffed"/>
<rect x="324.40" y="140.30" width="7.70" height="1.00" fill="#f9fff9"/>
<rect x="324.40" y="142.30" width="7.70" height="1.00" fill="#cff9cf"/>
<rect x="324.40" y="143.30" width="7.70" height="1.00" fill="#edffed"/>
<rect x="324.40" y="145.30" width="7.70" height="1.00" fill="#ffe1e1"/>
<rect x="324.40" y="146.30" width="7.70" height="1.00" fill="#ffffff"/>
<rect x="324.40" y="151.30" width="7.70" height="1.00" fill="#f3fff3"/>
<rect x="324.40" y="153.30" width="7.70" height="1.00" fill="#ffb1b1"/>
<rect x="324.40" y="154.30" width="7.70" height="1.00" fill="#edffed"/>
<rect x="324.40" y="158.30" width="7.70" height="1.00" fill="#cff9cf"/>
<rect x="324.40" y="159.30" width="7.70" height="1.00" fill="#ff8181"/>
<rect x="324.40" y="162.30" width="7.70" height="1.00" fill="#ff9f9f"/>
<rect x="324.40" y="164.30" width="7.70" height="1.00" fill="#f3fff3"/>
<rect x="324.40" y="165.30" width="7.70" height="1.00" fill="#edffed"/>
<rect x="324.40" y="166.30" width="7.70" height="1.00" fill="#f3fff3"/>
<rect x="324.40" y="167.30" width="7.70" height="1.00" fill="#cff9cf"/>
<rect x="324.40" y="168.30" width="7.70" height="1.00" fill="#c9f9c9"/>
<rect x="324.40" y="169.30" width="7.70" height="1.00" fill="#c3f9c3"/>
<rect x="324.40" y="170.30" width="7.70" height="6.00" fill="#ff0303"/>
<rect x="324.40" y="176.30" width="7.70" height="1.00" fill="#ff4b4b"/>
<rect x="324.40" y="177.30" width="7.70" height="1.00" fill="#ff3333"/>
<rect x="324.40" y="178.30" width="7.70" height="1.00" fill="#c9f9c9"/>
<rect x="324.40" y="185.30" width="7.70" height="1.00" fill="#d5ffd5"/>
<rect x="324.40" y="187.30" width="7.70" height="1.00" fill="#c3f9c3"/>
<rect x="324.40" y="189.30" width="7.70" height="2.00" fill="#f3fff3"/>
<rect x="324.40" y="191.30" width="7.70" height="1.00" fill="#dbffdb"/>
<rect x="324.40" y="192.30" width="7.70" height="1.00" fill="#d5ffd5"/>
<rect x="324.40" y="194.30" width="7.70" height="1.00" fill="#f9fff9"/>
<rect x="324.40" y="195.30" width="7.70" height="1.00" fill="#fff9f9"/>
<rect x="324.40" y="196.30" width="7.70" height="3.00" fill="#f3fff3"/>
<rect x="324.40" y="199.30" width="7.70" height="1.00" fill="#dbffdb"/>
<rect x="324.40" y="201.30" width="7.70" height="1.00" fill="#fff9f9"/>
<rect x="324.40" y="202.30" width="7.70" height="1.00" fill="#f3fff3"/>
<rect x="324.40" y="204.30" width="7.70" height="1.00" fill="#f9fff9"/>
<rect x="324.40" y="205.30" width="7.70" height="2.00" fill="#edffed"/>
<rect x="324.40" y="207.30" width="7.70" height="1.00" fill="#cff9cf"/>
<rect x="324.40" y="209.30" width="7.70" height="1.00" fill="#f9fff9"/>
<rect x="324.40" y="210.30" width="7.70" height="1.00" fill="#edffed"/>
<rect x="324.40" y="211.30" width="7.70" height="1.00" fill="#d5ffd5"/>
<rect x="324.40" y="212.30" width="7.70" height="2.00" fill="#cff9cf"/>
<rect x="324.40" y="220.30" width="7.70" height="1.00" fill="#c9f9c9"/>
<rect x="324.40" y="224.30" width="7.70" height="1.00" fill="#f3fff3"/>
<rect x="324.40" y="225.30" width="7.70" height="1.00" fill="#f9fff9"/>
<rect x="324.40" y="226.30" width="7.70" height="1.00" fill="#f3fff3"/>
<rect x="324.40" y="228.30" width="7.70" height="1.00" fill="#c9f9c9"/>
<rect x="324.40" y="229.30" width="7.70" height="1.00" fill="#c3f9c3"/>
<rect x="332.10" y="23.30" width="7.70" height="1.00" fill="#ffbdbd"/>
<rect x="332.10" y="24.30" width="7.70" height="1.00" fill="#d5ffd5"/>
<rect x="332.10" y="25.30" width="7.70" height="1.00" fill="#f9fff9"/>
<rect x="332.10" y="26.30" width="7.70" height="1.00" fill="#fff9f9"/>
<rect x="332.10" y="27.30" width="7.70" height="1.00" fill="#f9fff9"/>
<rect x="332.10" y="28.30" width="7.70" height="1.00" fill="#dbffdb"/>
<rect x="332.10" y="29.30" width="7.70" height="1.00" fill="#f3fff3"/>
<rect x="332.10" y="31.30" width="7.70" height="1.00" fill="#edffed"/>
<rect x="332.10" y="33.30" width="7.70" height="1.00" fill="#f3fff3"/>
<rect x="332.10" y="34.30" width="7.70" height="1.00" fill="#fff9f9"/>
<rect x="332.10" y="35.30" width="7.70" height="1.00" fill="#edffed"/>
<rect x="332.10" y="36.30" width="7.70" height="1.00" fill="#f3fff3"/>
<rect x="332.10" y="37.30" width="7.70" height="1.00" fill="#cff9cf"/>
<rect x="332.10" y="38.30" width="7.70" height="1.00" fill="#ffeded"/>
<rect x="332.10" y="39.30" width="7.70" height="1.00" fill="#ffffff"/>
<rect x="332.10" y="40.30" width="7.70" height="1.00" fill="#f9fff9"/>
<rect x="332.10" y="43.30" width="7.70" height="1.00" fill="#c9f9c9"/>
<rect x="332.10" y="50.30" width="7.70" height="1.00" fill="#fff9f9"/>
<rect x="332.10" y="51.30" width="7.70" height="1.00" fill="#ffffff"/>
<rect x="332.10" y="52.30" width="7.70" height="1.00" fill="#fff3f3"/>
<rect x="332.10" y="56.30" width="7.70" height="1.00" fill="#edffed"/>
<rect x="332.10" y="57.30" width="7.70" height="1.00" fill="#dbffdb"/>
<rect x="332.10" y="60.30" width="7.70" height="1.00" fill="#ffcfcf"/>
<rect x="332.10" y="62.30" width="7.70" height="1.00" fill="#edffed"/>
<rect x="332.10" y="65.30" width="7.70" height="2.00" fill="#edffed"/>
<rect x="332.10" y="67.30" width="7.70" height="1.00" fill="#f3fff3"/>
<rect x="332.10" y="70.30" width="7.70" height="1.00" fill="#d5ffd5"/>
<rect x="332.10" y="71.30" width="7.70" height="1.00" fill="#c9f9c9"/>
<rect x="332.10" y="72.30" width="7.70" height="1.00" fill="#edffed"/>
<rect x="332.10" y="73.30" width="7.70" height="1.00" fill="#f9fff9"/>
<rect x="332.10" y="75.30" width="7.70" height="1.00" fill="#f9fff9"/>
<rect x="332.10" y="76.30" width="7.70" height="1.00" fill="#edffed"/>
<rect x="332.10" y="78.30" width="7.70" height="2.00" fill="#f3fff3"/>
<rect x="332.10" y="81.30" width="7.70" height="2.00" fill="#d5ffd5"/>
<rect x="332.10" y="84.30" width="7.70" height="1.00" fill="#dbffdb"/>
<rect x="332.10" y="85.30" width="7.70" height="1.00" fill="#d5ffd5"/>
<rect x="332.10" y="86.30" width="7.70" height="1.00" fill="#dbffdb"/>
<rect x="332.10" y="87.30" width="7.70" height="1.00" fill="#cff9cf"/>
<rect x="332.10" y="88.30" width="7.70" height="1.00" fill="#f3fff3"/>
<rect x="332.10" y="90.30" width="7.70" height="1.00" fill="#c9f9c9"/>
<rect x="332.10" y="91.30" width="7.70" height="1.00" fill="#cff9cf"/>
<rect x="332.10" y="92.30" width="7.70" height="1.00" fill="#d5ffd5"/>
<rect x="332.10" y="94.30" width="7.70" height="1.00" fill="#d5ffd5"/>
<rect x="332.10" y="96.30" width="7.70" height="1.00" fill="#f3fff3"/>
<rect x="332.10" y="97.30" width="7.70" height="1.00" fill="#cff9cf"/>
<rect x="332.10" y="98.30" width="7.70" height="1.00" fill="#c9f9c9"/>
<rect x="332.10" y="99.30" width="7.70" height="1.00" fill="#c3f9c3"/>
<rect x="332.10" y="100.30" width="7.70" height="2.00" fill="#f9fff9"/>
<rect x="332.10" y="102.30" width="7.70" height="1.00" fill="#fff9f9"/>
<rect x="332.10" y="103.30" width="7.70" height="1.00" fill="#edffed"/>
<rect x="332.10" y="104.30" width="7.70" height="1.00" fill="#cff9cf"/>
<rect x="332.10" y="105.30" width="7.70" height="2.00" fill="#d5ffd5"/>
<rect x="332.10" y="108.30" width="7.70" height="1.00" fill="#f3fff3"/>
<rect x="332.10" y="111.30" width="7.70" height="1.00" fill="#edffed"/>
<rect x="332.10" y="113.30" width="7.70" height="1.00" fill="#d5ffd5"/>
<rect x="332.10" y="117.30" width="7.70" height="1.00" fill="#d5ffd5"/>
<rect x="332.10" y="118.30" width="7.70" height="1.00" fill="#edffed"/>
<rect x="332.10" y="119.30" width="7.70" height="1.00" fill="#f3fff3"/>
<rect x="332.10" y="121.30" width="7.70" height="1.00" fill="#edffed"/>
<rect x="332.10" y="122.30" width="7.70" height="1.00" fill="#f9fff9"/>
<rect x="332.10" y="124.30" width="7.70" height="2.00" fill="#fff9f9"/>
<rect x="332.10" y="126.30" width="7.70" height="2.00" fill="#f3fff3"/>
<rect x="332.10" y="131.30" width="7.70" height="1.00" fill="#cff9cf"/>
<rect x="332.10" y="135.30" width="7.70" height="1.00" fill="#f3fff3"/>
<rect x="332.10" y="137.30" width="7.70" height="1.00" fill="#edffed"/>
<rect x="332.10" y="138.30" width="7.70" height="1.00" fill="#f3fff3"/>
<rect x="332.10" y="141.30" width="7.70" height="2.00" fill="#dbffdb"/>
<rect x="332.10" y="143.30" width="7.70" height="1.00" fill="#f9fff9"/>
<rect x="332.10" y="144.30" width="7.70" height="1.00" fill="#edffed"/>
<rect x="332.10" y="145.30" width="7.70" height="1.00" fill="#ffe7e7"/>
<rect x="332.10" y="146.30" width="7.70" height="1.00" fill="#edffed"/>
<rect x="332.10" y="151.30" width="7.70" height="1.00" fill="#f3fff3"/>
<rect x="332.10" y="154.30" width="7.70" height="1.00" fill="#edffed"/>
<rect x="332.10" y="157.30" width="7.70" height="1.00" fill="#f3fff3"/>
<rect x="332.10" y="160.30" width="7.70" height="1.00" fill="#f3fff3"/>
<rect x="332.10" y="164.30" width="7.70" height="1.00" fill="#f3fff3"/>
<rect x="332.10" y="165.30" width="7.70" height="1.00" fill="#f9fff9"/>
<rect x="332.10" y="166.30" width="7.70" height="1.00" fill="#f3fff3"/>
<rect x="332.10" y="167.30" width="7.70" height="1.00" fill="#ff9f9f"/>
<rect x="332.10" y="168.30" width="7.70" height="1.00" fill="#c9f9c9"/>
<rect x="332.10" y="169.30" width="7.70" height="1.00" fill="#d5ffd5"/>
<rect x="332.10" y="170.30" width="7.70" height="1.00" fill="#c3f9c3"/>
<rect x="332.10" y="171.30" width="7.70" height="1.00" fill="#b1f9b1"/>
<rect x="332.10" y="172.30" width="7.70" height="2.00" fill="#c9f9c9"/>
<rect x="332.10" y="175.30" width="7.70" height="1.00" fill="#f9fff9"/>
<rect x="332.10" y="176.30" width="7.70" height="1.00" fill="#f3fff3"/>
<rect x="332.10" y="177.30" width="7.70" height="1.00" fill="#d5ffd5"/>
<rect x="332.10" y="178.30" width="7.70" height="1.00" fill="#bdf9bd"/>
<rect x="332.10" y="180.30" width="7.70" height="2.00" fill="#d5ffd5"/>
<rect x="332.10" y="186.30" width="7.70" height="1.00" fill="#d5ffd5"/>
<rect x="332.10" y="187.30" width="7.70" height="1.00" fill="#b7f9b7"/>
<rect x="332.10" y="189.30" width="7.70" height="1.00" fill="#f9fff9"/>
<rect x="332.10" y="190.30" width="7.70" height="1.00" fill="#f3fff3"/>
<rect x="332.10" y="193.30" width="7.70" height="2.00" fill="#f3fff3"/>
<rect x="332.10" y="195.30" width="7.70" height="1.00" fill="#ffffff"/>
<rect x="332.10" y="197.30" width="7.70" height="1.00" fill="#f9fff9"/>
<rect x="332.10" y="201.30" width="7.70" height="1.00" fill="#edffed"/>
<rect x="332.10" y="205.30" width="7.70" height="1.00" fill="#f3fff3"/>
<rect x="332.10" y="208.30" width="7.70" height="2.00" fill="#ff5757"/>
<rect x="332.10" y="210.30" width="7.70" height="1.00" fill="#ff0303"/>
<rect x="332.10" y="211.30" width="7.70" height="1.00" fill="#ff3939"/>
<rect x="332.10" y="212.30" width="7.70" height="2.00" fill="#ff0303"/>
<rect x="332.10" y="214.30" width="7.70" height="1.00" fill="#ff0f0f"/>
<rect x="332.10" y="215.30" width="7.70" height="1.00" fill="#ff0303"/>
<rect x="332.10" y="216.30" width="7.70" height="1.00" fill="#d5ffd5"/>
<rect x="332.10" y="218.30" width="7.70" height="1.00" fill="#d5ffd5"/>
<rect x="332.10" y="219.30" width="7.70" height="1.00" fill="#dbffdb"/>
<rect x="332.10" y="220.30" width="7.70" height="1.00" fill="#c3f9c3"/>
<rect x="332.10" y="221.30" width="7.70" height="1.00" fill="#dbffdb"/>
<rect x="332.10" y="222.30" width="7.70" height="1.00" fill="#edffed"/>
<rect x="332.10" y="223.30" width="7.70" height="1.00" fill="#f3fff3"/>
<rect x="332.10" y="224.30" width="7.70" height="1.00" fill="#f9fff9"/>
<rect x="332.10" y="225.30" width="7.70" height="1.00" fill="#edffed"/>
<rect x="332.10" y="227.30" width="7.70" height="1.00" fill="#f3fff3"/>
<rect x="332.10" y="228.30" width="7.70" height="2.00" fill="#d5ffd5"/>
<rect x="339.80" y="23.30" width="7.70" height="1.00" fill="#dbffdb"/>
<rect x="339.80" y="24.30" width="7.70" height="1.00" fill="#d5ffd5"/>
<rect x="339.80" y="25.30" width="7.70" height="1.00" fill="#edffed"/>
<rect x="339.80" y="26.30" width="7.70" height="1.00" fill="#fff9f9"/>
<rect x="339.80" y="27.30" width="7.70" height="1.00" fill="#f9fff9"/>
<rect x="339.80" y="28.30" width="7.70" height="1.00" fill="#ffd5d5"/>
<rect x="339.80" y="29.30" width="7.70" height="1.00" fill="#ffffff"/>
<rect x="339.80" y="30.30" width="7.70" height="1.00" fill="#f3fff3"/>
<rect x="339.80" y="32.30" width="7.70" height="1.00" fill="#d5ffd5"/>
<rect x="339.80" y="33.30" width="7.70" height="1.00" fill="#ffffff"/>
<rect x="339.80" y="34.30" width="7.70" height="1.00" fill="#fff9f9"/>
<rect x="339.80" y="35.30" width="7.70" height="1.00" fill="#f9fff9"/>
<rect x="339.80" y="38.30" width="7.70" height="1.00" fill="#fff9f9"/>
<rect x="339.80" y="39.30" width="7.70" height="1.00" fill="#ffffff"/>
<rect x="339.80" y="40.30" width="7.70" height="1.00" fill="#f9fff9"/>
<rect x="339.80" y="42.30" width="7.70" height="1.00" fill="#edffed"/>
<rect x="339.80" y="43.30" width="7.70" height="1.00" fill="#d5ffd5"/>
<rect x="339.80" y="46.30" width="7.70" height="1.00" fill="#edffed"/>
<rect x="339.80" y="50.30" width="7.70" height="1.00" fill="#fff9f9"/>
<rect x="339.80" y="51.30" width="7.70" height="1.00" fill="#f9fff9"/>
<rect x="339.80" y="52.30" width="7.70" height="1.00" fill="#fff9f9"/>
<rect x="339.80" y="53.30" width="7.70" height="1.00" fill="#f3fff3"/>
<rect x="339.80" y="55.30" width="7.70" height="1.00" fill="#edffed"/>
<rect x="339.80" y="56.30" width="7.70" height="1.00" fill="#f3fff3"/>
<rect x="339.80" y="57.30" width="7.70" height="1.00" fill="#d5ffd5"/>
<rect x="339.80" y="58.30" width="7.70" height="2.00" fill="#f3fff3"/>
<rect x="339.80" y="60.30" width="7.70" height="1.00" fill="#edffed"/>
<rect x="339.80" y="61.30" width="7.70" height="1.00" fill="#d5ffd5"/>
<rect x="339.80" y="64.30" width="7.70" height="1.00" fill="#ffbdbd"/>
<rect x="339.80" y="65.30" width="7.70" height="1.00" fill="#edffed"/>
<rect x="339.80" y="66.30" width="7.70" height="1.00" fill="#f3fff3"/>
<rect x="339.80" y="67.30" width="7.70" height="1.00" fill="#ffffff"/>
<rect x="339.80" y="70.30" width="7.70" height="1.00" fill="#cff9cf"/>
<rect x="339.80" y="71.30" width="7.70" height="1.00" fill="#dbffdb"/>
<rect x="339.80" y="72.30" width="7.70" height="1.00" fill="#edffed"/>
<rect x="339.80" y="73.30" width="7.70" height="1.00" fill="#ffa5a5"/>
<rect x="339.80" y="78.30" width="7.70" height="1.00" fill="#f3fff3"/>
<rect x="339.80" y="79.30" width="7.70" height="1.00" fill="#f9fff9"/>
<rect x="339.80" y="83.30" width="7.70" height="1.00" fill="#dbffdb"/>
<rect x="339.80" y="84.30" width="7.70" height="1.00" fill="#f3fff3"/>
<rect x="339.80" y="85.30" width="7.70" height="1.00" fill="#d5ffd5"/>
<rect x="339.80" y="87.30" width="7.70" height="1.00" fill="#d5ffd5"/>
<rect x="339.80" y="88.30" width="7.70" height="1.00" fill="#f3fff3"/>
<rect x="339.80" y="90.30" width="7.70" height="1.00" fill="#c9f9c9"/>
<rect x="339.80" y="91.30" width="7.70" height="2.00" fill="#d5ffd5"/>
<rect x="339.80" y="94.30" width="7.70" height="1.00" fill="#d5ffd5"/>
<rect x="339.80" y="96.30" width="7.70" height="1.00" fill="#edffed"/>
<rect x="339.80" y="97.30" width="7.70" height="3.00" fill="#c9f9c9"/>
<rect x="339.80" y="100.30" width="7.70" height="1.00" fill="#f9fff9"/>
<rect x="339.80" y="101.30" width="7.70" height="1.00" fill="#fff3f3"/>
<rect x="339.80" y="102.30" width="7.70" height="1.00" fill="#fff9f9"/>
<rect x="339.80" y="103.30" width="7.70" height="1.00" fill="#f3fff3"/>
<rect x="339.80" y="105.30" width="7.70" height="1.00" fill="#edffed"/>
<rect x="339.80" y="106.30" width="7.70" height="1.00" fill="#dbffdb"/>
<rect x="339.80" y="108.30" width="7.70" height="2.00" fill="#edffed"/>
<rect x="339.80" y="110.30" width="7.70" height="1.00" fill="#d5ffd5"/>
<rect x="339.80" y="111.30" width="7.70" height="1.00" fill="#edffed"/>
<rect x="339.80" y="113.30" width="7.70" height="2.00" fill="#d5ffd5"/>
<rect x="339.80" y="116.30" width="7.70" height="1.00" fill="#edffed"/>
<rect x="339.80" y="117.30" width="7.70" height="1.00" fill="#dbffdb"/>
<rect x="339.80" y="119.30" width="7.70" height="1.00" fill="#f3fff3"/>
<rect x="339.80" y="122.30" width="7.70" height="1.00" fill="#f9fff9"/>
<rect x="339.80" y="124.30" width="7.70" height="1.00" fill="#ff6969"/>
<rect x="339.80" y="125.30" width="7.70" height="2.00" fill="#ffffff"/>
<rect x="339.80" y="128.30" width="7.70" height="1.00" fill="#c3f9c3"/>
<rect x="339.80" y="129.30" width="7.70" height="2.00" fill="#dbffdb"/>
<rect x="339.80" y="131.30" width="7.70" height="1.00" fill="#c9f9c9"/>
<rect x="339.80" y="132.30" width="7.70" height="2.00" fill="#f3fff3"/>
<rect x="339.80" y="134.30" width="7.70" height="1.00" fill="#edffed"/>
<rect x="339.80" y="135.30" width="7.70" height="1.00" fill="#f9fff9"/>
<rect x="339.80" y="136.30" width="7.70" height="1.00" fill="#edffed"/>
<rect x="339.80" y="137.30" width="7.70" height="1.00" fill="#f3fff3"/>
<rect x="339.80" y="138.30" width="7.70" height="1.00" fill="#f9fff9"/>
<rect x="339.80" y="139.30" width="7.70" height="1.00" fill="#ffffff"/>
<rect x="339.80" y="140.30" width="7.70" height="1.00" fill="#f9fff9"/>
<rect x="339.80" y="141.30" width="7.70" height="1.00" fill="#d5ffd5"/>
<rect x="339.80" y="142.30" width="7.70" height="1.00" fill="#cff9cf"/>
<rect x="339.80" y="143.30" width="7.70" height="1.00" fill="#f9fff9"/>
<rect x="339.80" y="144.30" width="7.70" height="1.00" fill="#edffed"/>
<rect x="339.80" y="145.30" width="7.70" height="1.00" fill="#ff4545"/>
<rect x="339.80" y="146.30" width="7.70" height="2.00" fill="#f3fff3"/>
<rect x="339.80" y="148.30" width="7.70" height="1.00" fill="#d5ffd5"/>
<rect x="339.80" y="151.30" width="7.70" height="1.00" fill="#f3fff3"/>
<rect x="339.80" y="152.30" width="7.70" height="1.00" fill="#ffffff"/>
<rect x="339.80" y="155.30" width="7.70" height="1.00" fill="#d5ffd5"/>
<rect x="339.80" y="157.30" width="7.70" height="1.00" fill="#f3fff3"/>
<rect x="339.80" y="158.30" width="7.70" height="1.00" fill="#d5ffd5"/>
<rect x="339.80" y="160.30" width="7.70" height="1.00" fill="#edffed"/>
<rect x="339.80" y="162.30" width="7.70" height="1.00" fill="#d5ffd5"/>
<rect x="339.80" y="163.30" width="7.70" height="2.00" fill="#edffed"/>
<rect x="339.80" y="165.30" width="7.70" height="1.00" fill="#f9fff9"/>
<rect x="339.80" y="166.30" width="7.70" height="1.00" fill="#ffffff"/>
<rect x="339.80" y="167.30" width="7.70" height="1.00" fill="#ffcfcf"/>
<rect x="339.80" y="168.30" width="7.70" height="1.00" fill="#cff9cf"/>
<rect x="339.80" y="169.30" width="7.70" height="1.00" fill="#c9f9c9"/>
<rect x="339.80" y="170.30" width="7.70" height="1.00" fill="#bdf9bd"/>
<rect x="339.80" y="171.30" width="7.70" height="1.00" fill="#b1f9b1"/>
<rect x="339.80" y="172.30" width="7.70" height="2.00" fill="#bdf9bd"/>
<rect x="339.80" y="175.30" width="7.70" height="1.00" fill="#f3fff3"/>
<rect x="339.80" y="176.30" width="7.70" height="1.00" fill="#f9fff9"/>
<rect x="339.80" y="177.30" width="7.70" height="1.00" fill="#d5ffd5"/>
<rect x="339.80" y="178.30" width="7.70" height="1.00" fill="#c9f9c9"/>
<rect x="339.80" y="183.30" width="7.70" height="1.00" fill="#cff9cf"/>
<rect x="339.80" y="186.30" width="7.70" height="1.00" fill="#dbffdb"/>
<rect x="339.80" y="187.30" width="7.70" height="1.00" fill="#c3f9c3"/>
<rect x="339.80" y="189.30" width="7.70" height="1.00" fill="#f3fff3"/>
<rect x="339.80" y="191.30" width="7.70" height="1.00" fill="#ffcfcf"/>
<rect x="339.80" y="192.30" width="7.70" height="1.00" fill="#cff9cf"/>
<rect x="339.80" y="194.30" width="7.70" height="3.00" fill="#f9fff9"/>
<rect x="339.80" y="197.30" width="7.70" height="1.00" fill="#ffffff"/>
<rect x="339.80" y="198.30" width="7.70" height="1.00" fill="#f3fff3"/>
<rect x="339.80" y="201.30" width="7.70" height="1.00" fill="#f9fff9"/>
<rect x="339.80" y="202.30" width="7.70" height="1.00" fill="#f3fff3"/>
<rect x="339.80" y="203.30" width="7.70" height="1.00" fill="#d5ffd5"/>
<rect x="339.80" y="204.30" width="7.70" height="1.00" fill="#f3fff3"/>
<rect x="339.80" y="208.30" width="7.70" height="1.00" fill="#ffe7e7"/>
<rect x="339.80" y="209.30" width="7.70" height="2.00" fill="#f3fff3"/>
<rect x="339.80" y="213.30" width="7.70" height="1.00" fill="#cff9cf"/>
<rect x="339.80" y="216.30" width="7.70" height="1.00" fill="#d5ffd5"/>
<rect x="339.80" y="218.30" width="7.70" height="1.00" fill="#ffa5a5"/>
<rect x="339.80" y="219.30" width="7.70" height="1.00" fill="#ff5151"/>
<rect x="339.80" y="220.30" width="7.70" height="2.00" fill="#cff9cf"/>
<rect x="339.80" y="223.30" width="7.70" height="1.00" fill="#f3fff3"/>
<rect x="339.80" y="224.30" width="7.70" height="1.00" fill="#f9fff9"/>
<rect x="339.80" y="225.30" width="7.70" height="5.00" fill="#ff0303"/>
<rect x="339.80" y="230.30" width="7.70" height="1.00" fill="#ff8181"/>
<rect x="347.50" y="23.30" width="7.70" height="1.00" fill="#ffc3c3"/>
<rect x="347.50" y="24.30" width="7.70" height="1.00" fill="#d5ffd5"/>
<rect x="347.50" y="25.30" width="7.70" height="1.00" fill="#edffed"/>
<rect x="347.50" y="26.30" width="7.70" height="1.00" fill="#f3fff3"/>
<rect x="347.50" y="27.30" width="7.70" height="1.00" fill="#edffed"/>
<rect x="347.50" y="29.30" width="7.70" height="1.00" fill="#ffa5a5"/>
<rect x="347.50" y="30.30" width="7.70" height="1.00" fill="#f3fff3"/>
<rect x="347.50" y="31.30" width="7.70" height="1.00" fill="#ffabab"/>
<rect x="347.50" y="32.30" width="7.70" height="1.00" fill="#cff9cf"/>
<rect x="347.50" y="33.30" width="7.70" height="1.00" fill="#ffffff"/>
<rect x="347.50" y="34.30" width="7.70" height="1.00" fill="#fff9f9"/>
<rect x="347.50" y="35.30" width="7.70" height="1.00" fill="#f3fff3"/>
<rect x="347.50" y="36.30" width="7.70" height="1.00" fill="#f9fff9"/>
<rect x="347.50" y="37.30" width="7.70" height="1.00" fill="#d5ffd5"/>
<rect x="347.50" y="38.30" width="7.70" height="1.00" fill="#fff9f9"/>
<rect x="347.50" y="39.30" width="7.70" height="1.00" fill="#f9fff9"/>
<rect x="347.50" y="40.30" width="7.70" height="1.00" fill="#f3fff3"/>
<rect x="347.50" y="42.30" width="7.70" height="1.00" fill="#ffffff"/>
<rect x="347.50" y="43.30" width="7.70" height="1.00" fill="#cff9cf"/>
<rect x="347.50" y="46.30" width="7.70" height="1.00" fill="#f3fff3"/>
<rect x="347.50" y="50.30" width="7.70" height="1.00" fill="#ffeded"/>
<rect x="347.50" y="51.30" width="7.70" height="1.00" fill="#ffffff"/>
<rect x="347.50" y="52.30" width="7.70" height="1.00" fill="#ffeded"/>
<rect x="347.50" y="56.30" width="7.70" height="1.00" fill="#fff9f9"/>
<rect x="347.50" y="58.30" width="7.70" height="1.00" fill="#f3fff3"/>
<rect x="347.50" y="62.30" width="7.70" height="2.00" fill="#edffed"/>
<rect x="347.50" y="66.30" width="7.70" height="1.00" fill="#f3fff3"/>
<rect x="347.50" y="67.30" width="7.70" height="1.00" fill="#f9fff9"/>
<rect x="347.50" y="68.30" width="7.70" height="1.00" fill="#dbffdb"/>
<rect x="347.50" y="70.30" width="7.70" height="2.00" fill="#cff9cf"/>
<rect x="347.50" y="73.30" width="7.70" height="1.00" fill="#f3fff3"/>
<rect x="347.50" y="75.30" width="7.70" height="1.00" fill="#f3fff3"/>
<rect x="347.50" y="78.30" width="7.70" height="1.00" fill="#edffed"/>
<rect x="347.50" y="79.30" width="7.70" height="1.00" fill="#ff5d5d"/>
<rect x="347.50" y="81.30" width="7.70" height="1.00" fill="#dbffdb"/>
<rect x="347.50" y="84.30" width="7.70" height="1.00" fill="#f9fff9"/>
<rect x="347.50" y="85.30" width="7.70" height="1.00" fill="#cff9cf"/>
<rect x="347.50" y="86.30" width="7.70" height="1.00" fill="#ffabab"/>
<rect x="347.50" y="88.30" width="7.70" height="1.00" fill="#f9fff9"/>
<rect x="347.50" y="89.30" width="7.70" height="1.00" fill="#d5ffd5"/>
<rect x="347.50" y="90.30" width="7.70" height="1.00" fill="#cff9cf"/>
<rect x="347.50" y="92.30" width="7.70" height="4.00" fill="#d5ffd5"/>
<rect x="347.50" y="96.30" width="7.70" height="1.00" fill="#ffa5a5"/>
<rect x="347.50" y="97.30" width="7.70" height="2.00" fill="#cff9cf"/>
<rect x="347.50" y="99.30" width="7.70" height="1.00" fill="#dbffdb"/>
<rect x="347.50" y="100.30" width="7.70" height="1.00" fill="#f9fff9"/>
<rect x="347.50" y="101.30" width="7.70" height="1.00" fill="#fff9f9"/>
<rect x="347.50" y="102.30" width="7.70" height="1.00" fill="#fff3f3"/>
<rect x="347.50" y="103.30" width="7.70" height="1.00" fill="#ff6363"/>
<rect x="347.50" y="104.30" width="7.70" height="1.00" fill="#d5ffd5"/>
<rect x="347.50" y="105.30" width="7.70" height="1.00" fill="#dbffdb"/>
<rect x="347.50" y="106.30" width="7.70" height="1.00" fill="#ffd5d5"/>
<rect x="347.50" y="108.30" width="7.70" height="1.00" fill="#f9fff9"/>
<rect x="347.50" y="113.30" width="7.70" height="1.00" fill="#ff9999"/>
<rect x="347.50" y="121.30" width="7.70" height="1.00" fill="#f3fff3"/>
<rect x="347.50" y="124.30" width="7.70" height="1.00" fill="#fff3f3"/>
<rect x="347.50" y="125.30" width="7.70" height="1.00" fill="#fff9f9"/>
<rect x="347.50" y="126.30" width="7.70" height="1.00" fill="#f9fff9"/>
<rect x="347.50" y="128.30" width="7.70" height="1.00" fill="#d5ffd5"/>
<rect x="347.50" y="131.30" width="7.70" height="1.00" fill="#cff9cf"/>
<rect x="347.50" y="133.30" width="7.70" height="1.00" fill="#f9fff9"/>
<rect x="347.50" y="134.30" width="7.70" height="1.00" fill="#edffed"/>
<rect x="347.50" y="135.30" width="7.70" height="1.00" fill="#f9fff9"/>
<rect x="347.50" y="138.30" width="7.70" height="1.00" fill="#f3fff3"/>
<rect x="347.50" y="140.30" width="7.70" height="1.00" fill="#f9fff9"/>
<rect x="347.50" y="141.30" width="7.70" height="2.00" fill="#dbffdb"/>
<rect x="347.50" y="143.30" width="7.70" height="1.00" fill="#ffffff"/>
<rect x="347.50" y="144.30" width="7.70" height="1.00" fill="#edffed"/>
<rect x="347.50" y="145.30" width="7.70" height="1.00" fill="#ffe1e1"/>
<rect x="347.50" y="146.30" width="7.70" height="1.00" fill="#f9fff9"/>
<rect x="347.50" y="147.30" width="7.70" height="2.00" fill="#edffed"/>
<rect x="347.50" y="150.30" width="7.70" height="1.00" fill="#d5ffd5"/>
<rect x="347.50" y="151.30" width="7.70" height="1.00" fill="#f9fff9"/>
<rect x="347.50" y="152.30" width="7.70" height="1.00" fill="#edffed"/>
<rect x="347.50" y="153.30" width="7.70" height="1.00" fill="#d5ffd5"/>
<rect x="347.50" y="154.30" width="7.70" height="1.00" fill="#f9fff9"/>
<rect x="347.50" y="155.30" width="7.70" height="1.00" fill="#d5ffd5"/>
<rect x="347.50" y="156.30" width="7.70" height="2.00" fill="#edffed"/>
<rect x="347.50" y="158.30" width="7.70" height="1.00" fill="#cff9cf"/>
<rect x="347.50" y="160.30" width="7.70" height="1.00" fill="#f9fff9"/>
<rect x="347.50" y="164.30" width="7.70" height="1.00" fill="#edffed"/>
<rect x="347.50" y="165.30" width="7.70" height="2.00" fill="#f3fff3"/>
<rect x="347.50" y="167.30" width="7.70" height="1.00" fill="#d5ffd5"/>
<rect x="347.50" y="168.30" width="7.70" height="1.00" fill="#cff9cf"/>
<rect x="347.50" y="169.30" width="7.70" height="1.00" fill="#c3f9c3"/>
<rect x="347.50" y="170.30" width="7.70" height="1.00" fill="#c9f9c9"/>
<rect x="347.50" y="171.30" width="7.70" height="1.00" fill="#b1f9b1"/>
<rect x="347.50" y="172.30" width="7.70" height="1.00" fill="#bdf9bd"/>
<rect x="347.50" y="173.30" width="7.70" height="1.00" fill="#c9f9c9"/>
<rect x="347.50" y="175.30" width="7.70" height="1.00" fill="#ffffff"/>
<rect x="347.50" y="176.30" width="7.70" height="1.00" fill="#f3fff3"/>
<rect x="347.50" y="177.30" width="7.70" height="1.00" fill="#c9f9c9"/>
<rect x="347.50" y="178.30" width="7.70" height="1.00" fill="#bdf9bd"/>
<rect x="347.50" y="179.30" width="7.70" height="1.00" fill="#dbffdb"/>
<rect x="347.50" y="184.30" width="7.70" height="1.00" fill="#dbffdb"/>
<rect x="347.50" y="185.30" width="7.70" height="1.00" fill="#d5ffd5"/>
<rect x="347.50" y="187.30" width="7.70" height="1.00" fill="#c3f9c3"/>
<rect x="347.50" y="188.30" width="7.70" height="1.00" fill="#ff9393"/>
<rect x="347.50" y="189.30" width="7.70" height="1.00" fill="#f3fff3"/>
<rect x="347.50" y="190.30" width="7.70" height="1.00" fill="#edffed"/>
<rect x="347.50" y="192.30" width="7.70" height="1.00" fill="#d5ffd5"/>
<rect x="347.50" y="193.30" width="7.70" height="1.00" fill="#f3fff3"/>
<rect x="347.50" y="195.30" width="7.70" height="1.00" fill="#edffed"/>
<rect x="347.50" y="197.30" width="7.70" height="1.00" fill="#f3fff3"/>
<rect x="347.50" y="198.30" width="7.70" height="1.00" fill="#ffffff"/>
<rect x="347.50" y="201.30" width="7.70" height="1.00" fill="#f9fff9"/>
<rect x="347.50" y="202.30" width="7.70" height="2.00" fill="#edffed"/>
<rect x="347.50" y="206.30" width="7.70" height="1.00" fill="#edffed"/>
<rect x="347.50" y="207.30" width="7.70" height="1.00" fill="#cff9cf"/>
<rect x="347.50" y="209.30" width="7.70" height="1.00" fill="#ffdbdb"/>
<rect x="347.50" y="212.30" width="7.70" height="2.00" fill="#d5ffd5"/>
<rect x="347.50" y="216.30" width="7.70" height="1.00" fill="#dbffdb"/>
<rect x="347.50" y="218.30" width="7.70" height="1.00" fill="#d5ffd5"/>
<rect x="347.50" y="220.30" width="7.70" height="1.00" fill="#bdf9bd"/>
<rect x="347.50" y="224.30" width="7.70" height="1.00" fill="#f3fff3"/>
<rect x="347.50" y="225.30" width="7.70" height="1.00" fill="#edffed"/>
<rect x="347.50" y="229.30" width="7.70" height="1.00" fill="#cff9cf"/>
<rect x="347.50" y="230.30" width="7.70" height="1.00" fill="#dbffdb"/>
<rect x="355.20" y="23.30" width="7.70" height="1.00" fill="#c9f9c9"/>
<rect x="355.20" y="26.30" width="7.70" height="1.00" fill="#f9fff9"/>
<rect x="355.20" y="27.30" width="7.70" height="1.00" fill="#f3fff3"/>
<rect x="355.20" y="29.30" width="7.70" height="1.00" fill="#fff9f9"/>
<rect x="355.20" y="31.30" width="7.70" height="1.00" fill="#ffffff"/>
<rect x="355.20" y="32.30" width="7.70" height="1.00" fill="#ff9999"/>
<rect x="355.20" y="33.30" width="7.70" height="1.00" fill="#f9fff9"/>
<rect x="355.20" y="34.30" width="7.70" height="1.00" fill="#ffdbdb"/>
<rect x="355.20" y="35.30" width="7.70" height="1.00" fill="#f3fff3"/>
<rect x="355.20" y="36.30" width="7.70" height="1.00" fill="#ffcfcf"/>
<rect x="355.20" y="37.30" width="7.70" height="1.00" fill="#d5ffd5"/>
<rect x="355.20" y="38.30" width="7.70" height="3.00" fill="#f9fff9"/>
<rect x="355.20" y="41.30" width="7.70" height="1.00" fill="#dbffdb"/>
<rect x="355.20" y="42.30" width="7.70" height="1.00" fill="#f9fff9"/>
<rect x="355.20" y="43.30" width="7.70" height="1.00" fill="#cff9cf"/>
<rect x="355.20" y="46.30" width="7.70" height="1.00" fill="#f3fff3"/>
<rect x="355.20" y="47.30" width="7.70" height="1.00" fill="#d5ffd5"/>
<rect x="355.20" y="48.30" width="7.70" height="1.00" fill="#dbffdb"/>
<rect x="355.20" y="50.30" width="7.70" height="1.00" fill="#fff9f9"/>
<rect x="355.20" y="51.30" width="7.70" height="2.00" fill="#ffffff"/>
<rect x="355.20" y="53.30" width="7.70" height="1.00" fill="#f3fff3"/>
<rect x="355.20" y="56.30" width="7.70" height="1.00" fill="#f3fff3"/>
<rect x="355.20" y="57.30" width="7.70" height="1.00" fill="#d5ffd5"/>
<rect x="355.20" y="58.30" width="7.70" height="1.00" fill="#f9fff9"/>
<rect x="355.20" y="59.30" width="7.70" height="1.00" fill="#edffed"/>
<rect x="355.20" y="61.30" width="7.70" height="1.00" fill="#d5ffd5"/>
<rect x="355.20" y="62.30" width="7.70" height="1.00" fill="#f3fff3"/>
<rect x="355.20" y="64.30" width="7.70" height="1.00" fill="#dbffdb"/>
<rect x="355.20" y="66.30" width="7.70" height="1.00" fill="#f3fff3"/>
<rect x="355.20" y="67.30" width="7.70" height="1.00" fill="#ffffff"/>
<rect x="355.20" y="70.30" width="7.70" height="1.00" fill="#d5ffd5"/>
<rect x="355.20" y="71.30" width="7.70" height="1.00" fill="#cff9cf"/>
<rect x="355.20" y="72.30" width="7.70" height="1.00" fill="#f3fff3"/>
<rect x="355.20" y="73.30" width="7.70" height="1.00" fill="#edffed"/>
<rect x="355.20" y="75.30" width="7.70" height="1.00" fill="#f9fff9"/>
<rect x="355.20" y="76.30" width="7.70" height="1.00" fill="#f3fff3"/>
<rect x="355.20" y="78.30" width="7.70" height="1.00" fill="#f3fff3"/>
<rect x="355.20" y="82.30" width="7.70" height="1.00" fill="#d5ffd5"/>
<rect x="355.20" y="85.30" width="7.70" height="1.00" fill="#cff9cf"/>
<rect x="355.20" y="87.30" width="7.70" height="1.00" fill="#d5ffd5"/>
<rect x="355.20" y="90.30" width="7.70" height="1.00" fill="#d5ffd5"/>
<rect x="355.20" y="91.30" width="7.70" height="1.00" fill="#c9f9c9"/>
<rect x="355.20" y="92.30" width="7.70" height="1.00" fill="#d5ffd5"/>
<rect x="355.20" y="93.30" width="7.70" height="1.00" fill="#dbffdb"/>
<rect x="355.20" y="97.30" width="7.70" height="1.00" fill="#d5ffd5"/>
<rect x="355.20" y="98.30" width="7.70" height="1.00" fill="#cff9cf"/>
<rect x="355.20" y="99.30" width="7.70" height="1.00" fill="#c9f9c9"/>
<rect x="355.20" y="100.30" width="7.70" height="1.00" fill="#f9fff9"/>
<rect x="355.20" y="101.30" width="7.70" height="1.00" fill="#fff3f3"/>
<rect x="355.20" y="102.30" width="7.70" height="1.00" fill="#fff9f9"/>
<rect x="355.20" y="103.30" width="7.70" height="1.00" fill="#f3fff3"/>
<rect x="355.20" y="105.30" width="7.70" height="1.00" fill="#d5ffd5"/>
<rect x="355.20" y="107.30" width="7.70" height="2.00" fill="#f3fff3"/>
<rect x="355.20" y="109.30" width="7.70" height="1.00" fill="#dbffdb"/>
<rect x="355.20" y="112.30" width="7.70" height="2.00" fill="#d5ffd5"/>
<rect x="355.20" y="115.30" width="7.70" height="1.00" fill="#cff9cf"/>
<rect x="355.20" y="116.30" width="7.70" height="1.00" fill="#edffed"/>
<rect x="355.20" y="122.30" width="7.70" height="1.00" fill="#fff9f9"/>
<rect x="355.20" y="124.30" width="7.70" height="1.00" fill="#ffffff"/>
<rect x="355.20" y="125.30" width="7.70" height="2.00" fill="#f9fff9"/>
<rect x="355.20" y="128.30" width="7.70" height="1.00" fill="#cff9cf"/>
<rect x="355.20" y="131.30" width="7.70" height="1.00" fill="#c9f9c9"/>
<rect x="355.20" y="133.30" width="7.70" height="1.00" fill="#ffffff"/>
<rect x="355.20" y="134.30" width="7.70" height="1.00" fill="#f3fff3"/>
<rect x="355.20" y="135.30" width="7.70" height="1.00" fill="#ffffff"/>
<rect x="355.20" y="138.30" width="7.70" height="2.00" fill="#edffed"/>
<rect x="355.20" y="140.30" width="7.70" height="1.00" fill="#f3fff3"/>
<rect x="355.20" y="141.30" width="7.70" height="1.00" fill="#d5ffd5"/>
<rect x="355.20" y="145.30" width="7.70" height="1.00" fill="#fff3f3"/>
<rect x="355.20" y="146.30" width="7.70" height="1.00" fill="#f9fff9"/>
<rect x="355.20" y="148.30" width="7.70" height="1.00" fill="#dbffdb"/>
<rect x="355.20" y="152.30" width="7.70" height="1.00" fill="#f3fff3"/>
<rect x="355.20" y="154.30" width="7.70" height="1.00" fill="#f9fff9"/>
<rect x="355.20" y="155.30" width="7.70" height="1.00" fill="#c9f9c9"/>
<rect x="355.20" y="157.30" width="7.70" height="1.00" fill="#edffed"/>
<rect x="355.20" y="158.30" width="7.70" height="1.00" fill="#cff9cf"/>
<rect x="355.20" y="161.30" width="7.70" height="3.00" fill="#dbffdb"/>
<rect x="355.20" y="164.30" width="7.70" height="1.00" fill="#ffffff"/>
<rect x="355.20" y="165.30" width="7.70" height="1.00" fill="#edffed"/>
<rect x="355.20" y="166.30" width="7.70" height="1.00" fill="#f3fff3"/>
<rect x="355.20" y="167.30" width="7.70" height="1.00" fill="#cff9cf"/>
<rect x="355.20" y="168.30" width="7.70" height="1.00" fill="#c9f9c9"/>
<rect x="355.20" y="169.30" width="7.70" height="1.00" fill="#d5ffd5"/>
<rect x="355.20" y="170.30" width="7.70" height="1.00" fill="#dbffdb"/>
<rect x="355.20" y="171.30" width="7.70" height="1.00" fill="#abf9ab"/>
<rect x="355.20" y="172.30" width="7.70" height="2.00" fill="#c3f9c3"/>
<rect x="355.20" y="176.30" width="7.70" height="1.00" fill="#ff6f6f"/>
<rect x="355.20" y="177.30" width="7.70" height="1.00" fill="#dbffdb"/>
<rect x="355.20" y="178.30" width="7.70" height="8.00" fill="#ff0303"/>
<rect x="355.20" y="186.30" width="7.70" height="1.00" fill="#ff6363"/>
<rect x="355.20" y="187.30" width="7.70" height="1.00" fill="#ff5757"/>
<rect x="355.20" y="189.30" width="7.70" height="3.00" fill="#edffed"/>
<rect x="355.20" y="194.30" width="7.70" height="1.00" fill="#ffd5d5"/>
<rect x="355.20" y="195.30" width="7.70" height="1.00" fill="#ffffff"/>
<rect x="355.20" y="196.30" width="7.70" height="1.00" fill="#f3fff3"/>
<rect x="355.20" y="197.30" width="7.70" height="1.00" fill="#f9fff9"/>
<rect x="355.20" y="198.30" width="7.70" height="1.00" fill="#f3fff3"/>
<rect x="355.20" y="200.30" width="7.70" height="1.00" fill="#d5ffd5"/>
<rect x="355.20" y="201.30" width="7.70" height="1.00" fill="#ffffff"/>
<rect x="355.20" y="204.30" width="7.70" height="1.00" fill="#f9fff9"/>
<rect x="355.20" y="205.30" width="7.70" height="1.00" fill="#edffed"/>
<rect x="355.20" y="206.30" width="7.70" height="1.00" fill="#cff9cf"/>
<rect x="355.20" y="207.30" width="7.70" height="1.00" fill="#c9f9c9"/>
<rect x="355.20" y="209.30" width="7.70" height="1.00" fill="#fff3f3"/>
<rect x="355.20" y="210.30" width="7.70" height="1.00" fill="#f3fff3"/>
<rect x="355.20" y="212.30" width="7.70" height="1.00" fill="#d5ffd5"/>
<rect x="355.20" y="213.30" width="7.70" height="1.00" fill="#c9f9c9"/>
<rect x="355.20" y="214.30" width="7.70" height="1.00" fill="#edffed"/>
<rect x="355.20" y="215.30" width="7.70" height="1.00" fill="#d5ffd5"/>
<rect x="355.20" y="216.30" width="7.70" height="1.00" fill="#dbffdb"/>
<rect x="355.20" y="217.30" width="7.70" height="1.00" fill="#d5ffd5"/>
<rect x="355.20" y="219.30" width="7.70" height="1.00" fill="#cff9cf"/>
<rect x="355.20" y="220.30" width="7.70" height="1.00" fill="#c3f9c3"/>
<rect x="355.20" y="224.30" width="7.70" height="1.00" fill="#f9fff9"/>
<rect x="355.20" y="225.30" width="7.70" height="1.00" fill="#f3fff3"/>
<rect x="355.20" y="226.30" width="7.70" height="1.00" fill="#fff9f9"/>
<rect x="355.20" y="229.30" width="7.70" height="1.00" fill="#c9f9c9"/>
<rect x="355.20" y="230.30" width="7.70" height="1.00" fill="#d5ffd5"/>
<rect x="362.90" y="24.30" width="7.70" height="1.00" fill="#ffabab"/>
<rect x="362.90" y="26.30" width="7.70" height="1.00" fill="#ffd5d5"/>
<rect x="362.90" y="27.30" width="7.70" height="1.00" fill="#fff9f9"/>
<rect x="362.90" y="29.30" width="7.70" height="1.00" fill="#ffffff"/>
<rect x="362.90" y="30.30" width="7.70" height="1.00" fill="#f3fff3"/>
<rect x="362.90" y="31.30" width="7.70" height="1.00" fill="#f9fff9"/>
<rect x="362.90" y="32.30" width="7.70" height="1.00" fill="#cff9cf"/>
<rect x="362.90" y="33.30" width="7.70" height="1.00" fill="#ffffff"/>
<rect x="362.90" y="34.30" width="7.70" height="2.00" fill="#f9fff9"/>
<rect x="362.90" y="36.30" width="7.70" height="1.00" fill="#edffed"/>
<rect x="362.90" y="38.30" width="7.70" height="1.00" fill="#ffffff"/>
<rect x="362.90" y="39.30" width="7.70" height="1.00" fill="#f9fff9"/>
<rect x="362.90" y="40.30" width="7.70" height="1.00" fill="#edffed"/>
<rect x="362.90" y="42.30" width="7.70" height="1.00" fill="#fff9f9"/>
<rect x="362.90" y="45.30" width="7.70" height="1.00" fill="#ffa5a5"/>
<rect x="362.90" y="46.30" width="7.70" height="1.00" fill="#ffc9c9"/>
<rect x="362.90" y="47.30" width="7.70" height="1.00" fill="#ff8787"/>
<rect x="362.90" y="49.30" width="7.70" height="1.00" fill="#f9fff9"/>
<rect x="362.90" y="50.30" width="7.70" height="1.00" fill="#ffffff"/>
<rect x="362.90" y="51.30" width="7.70" height="2.00" fill="#fff9f9"/>
<rect x="362.90" y="55.30" width="7.70" height="1.00" fill="#ffcfcf"/>
<rect x="362.90" y="56.30" width="7.70" height="1.00" fill="#f3fff3"/>
<rect x="362.90" y="57.30" width="7.70" height="1.00" fill="#d5ffd5"/>
<rect x="362.90" y="58.30" width="7.70" height="1.00" fill="#f3fff3"/>
<rect x="362.90" y="59.30" width="7.70" height="1.00" fill="#ffc9c9"/>
<rect x="362.90" y="60.30" width="7.70" height="1.00" fill="#edffed"/>
<rect x="362.90" y="65.30" width="7.70" height="3.00" fill="#f3fff3"/>
<rect x="362.90" y="69.30" width="7.70" height="1.00" fill="#f3fff3"/>
<rect x="362.90" y="70.30" width="7.70" height="1.00" fill="#d5ffd5"/>
<rect x="362.90" y="71.30" width="7.70" height="1.00" fill="#dbffdb"/>
<rect x="362.90" y="73.30" width="7.70" height="2.00" fill="#edffed"/>
<rect x="362.90" y="75.30" width="7.70" height="1.00" fill="#f9fff9"/>
<rect x="362.90" y="76.30" width="7.70" height="1.00" fill="#edffed"/>
<rect x="362.90" y="77.30" width="7.70" height="1.00" fill="#f3fff3"/>
<rect x="362.90" y="79.30" width="7.70" height="1.00" fill="#f3fff3"/>
<rect x="362.90" y="84.30" width="7.70" height="1.00" fill="#f3fff3"/>
<rect x="362.90" y="88.30" width="7.70" height="1.00" fill="#edffed"/>
<rect x="362.90" y="90.30" width="7.70" height="1.00" fill="#c9f9c9"/>
<rect x="362.90" y="92.30" width="7.70" height="1.00" fill="#c9f9c9"/>
<rect x="362.90" y="95.30" width="7.70" height="1.00" fill="#d5ffd5"/>
<rect x="362.90" y="96.30" width="7.70" height="1.00" fill="#edffed"/>
<rect x="362.90" y="97.30" width="7.70" height="1.00" fill="#ffa5a5"/>
<rect x="362.90" y="98.30" width="7.70" height="1.00" fill="#c3f9c3"/>
<rect x="362.90" y="99.30" width="7.70" height="1.00" fill="#cff9cf"/>
<rect x="362.90" y="100.30" width="7.70" height="1.00" fill="#ffffff"/>
<rect x="362.90" y="101.30" width="7.70" height="2.00" fill="#fff9f9"/>
<rect x="362.90" y="103.30" width="7.70" height="1.00" fill="#f3fff3"/>
<rect x="362.90" y="108.30" width="7.70" height="1.00" fill="#ffffff"/>
<rect x="362.90" y="110.30" width="7.70" height="1.00" fill="#dbffdb"/>
<rect x="362.90" y="111.30" width="7.70" height="1.00" fill="#edffed"/>
<rect x="362.90" y="113.30" width="7.70" height="1.00" fill="#dbffdb"/>
<rect x="362.90" y="120.30" width="7.70" height="1.00" fill="#edffed"/>
<rect x="362.90" y="121.30" width="7.70" height="1.00" fill="#f3fff3"/>
<rect x="362.90" y="122.30" width="7.70" height="1.00" fill="#f9fff9"/>
<rect x="362.90" y="123.30" width="7.70" height="1.00" fill="#f3fff3"/>
<rect x="362.90" y="124.30" width="7.70" height="1.00" fill="#fff9f9"/>
<rect x="362.90" y="125.30" width="7.70" height="2.00" fill="#ffffff"/>
<rect x="362.90" y="128.30" width="7.70" height="1.00" fill="#c9f9c9"/>
<rect x="362.90" y="131.30" width="7.70" height="1.00" fill="#c9f9c9"/>
<rect x="362.90" y="133.30" width="7.70" height="1.00" fill="#fff9f9"/>
<rect x="362.90" y="135.30" width="7.70" height="1.00" fill="#ffffff"/>
<rect x="362.90" y="136.30" width="7.70" height="1.00" fill="#f9fff9"/>
<rect x="362.90" y="137.30" width="7.70" height="1.00" fill="#f3fff3"/>
<rect x="362.90" y="138.30" width="7.70" height="1.00" fill="#ff9f9f"/>
<rect x="362.90" y="140.30" width="7.70" height="1.00" fill="#ffffff"/>
<rect x="362.90" y="142.30" width="7.70" height="1.00" fill="#d5ffd5"/>
<rect x="362.90" y="143.30" width="7.70" height="1.00" fill="#ffffff"/>
<rect x="362.90" y="144.30" width="7.70" height="1.00" fill="#f9fff9"/>
<rect x="362.90" y="145.30" width="7.70" height="1.00" fill="#ffe1e1"/>
<rect x="362.90" y="146.30" width="7.70" height="1.00" fill="#f9fff9"/>
<rect x="362.90" y="147.30" width="7.70" height="1.00" fill="#edffed"/>
<rect x="362.90" y="149.30" width="7.70" height="1.00" fill="#ffd5d5"/>
<rect x="362.90" y="151.30" width="7.70" height="1.00" fill="#fff9f9"/>
<rect x="362.90" y="152.30" width="7.70" height="1.00" fill="#f9fff9"/>
<rect x="362.90" y="154.30" width="7.70" height="1.00" fill="#f9fff9"/>
<rect x="362.90" y="157.30" width="7.70" height="1.00" fill="#f3fff3"/>
<rect x="362.90" y="158.30" width="7.70" height="1.00" fill="#d5ffd5"/>
<rect x="362.90" y="162.30" width="7.70" height="1.00" fill="#d5ffd5"/>
<rect x="362.90" y="163.30" width="7.70" height="1.00" fill="#ffd5d5"/>
<rect x="362.90" y="164.30" width="7.70" height="1.00" fill="#f3fff3"/>
<rect x="362.90" y="165.30" width="7.70" height="1.00" fill="#ffeded"/>
<rect x="362.90" y="166.30" width="7.70" height="1.00" fill="#f3fff3"/>
<rect x="362.90" y="168.30" width="7.70" height="1.00" fill="#c9f9c9"/>
<rect x="362.90" y="169.30" width="7.70" height="2.00" fill="#d5ffd5"/>
<rect x="362.90" y="171.30" width="7.70" height="1.00" fill="#bdf9bd"/>
<rect x="362.90" y="172.30" width="7.70" height="1.00" fill="#c9f9c9"/>
<rect x="362.90" y="173.30" width="7.70" height="1.00" fill="#ff9f9f"/>
<rect x="362.90" y="175.30" width="7.70" height="1.00" fill="#f3fff3"/>
<rect x="362.90" y="176.30" width="7.70" height="1.00" fill="#f9fff9"/>
<rect x="362.90" y="178.30" width="7.70" height="1.00" fill="#ffc3c3"/>
<rect x="362.90" y="182.30" width="7.70" height="1.00" fill="#edffed"/>
<rect x="362.90" y="183.30" width="7.70" height="1.00" fill="#d5ffd5"/>
<rect x="362.90" y="184.30" width="7.70" height="2.00" fill="#edffed"/>
<rect x="362.90" y="186.30" width="7.70" height="1.00" fill="#d5ffd5"/>
<rect x="362.90" y="187.30" width="7.70" height="1.00" fill="#cff9cf"/>
<rect x="362.90" y="189.30" width="7.70" height="2.00" fill="#f3fff3"/>
<rect x="362.90" y="191.30" width="7.70" height="1.00" fill="#edffed"/>
<rect x="362.90" y="193.30" width="7.70" height="1.00" fill="#edffed"/>
<rect x="362.90" y="195.30" width="7.70" height="1.00" fill="#ff9999"/>
<rect x="362.90" y="197.30" width="7.70" height="2.00" fill="#f9fff9"/>
<rect x="362.90" y="199.30" width="7.70" height="2.00" fill="#ff0303"/>
<rect x="362.90" y="201.30" width="7.70" height="1.00" fill="#ff5151"/>
<rect x="362.90" y="202.30" width="7.70" height="2.00" fill="#ff0303"/>
<rect x="362.90" y="204.30" width="7.70" height="1.00" fill="#ff2d2d"/>
<rect x="362.90" y="205.30" width="7.70" height="1.00" fill="#ff2727"/>
<rect x="362.90" y="206.30" width="7.70" height="1.00" fill="#ff5151"/>
<rect x="362.90" y="207.30" width="7.70" height="2.00" fill="#dbffdb"/>
<rect x="362.90" y="209.30" width="7.70" height="1.00" fill="#ffffff"/>
<rect x="362.90" y="213.30" width="7.70" height="1.00" fill="#cff9cf"/>
<rect x="362.90" y="214.30" width="7.70" height="1.00" fill="#edffed"/>
<rect x="362.90" y="219.30" width="7.70" height="1.00" fill="#d5ffd5"/>
<rect x="362.90" y="220.30" width="7.70" height="1.00" fill="#c3f9c3"/>
<rect x="362.90" y="221.30" width="7.70" height="1.00" fill="#d5ffd5"/>
<rect x="362.90" y="222.30" width="7.70" height="1.00" fill="#edffed"/>
<rect x="362.90" y="224.30" width="7.70" height="1.00" fill="#f9fff9"/>
<rect x="362.90" y="225.30" width="7.70" height="1.00" fill="#f3fff3"/>
<rect x="362.90" y="226.30" width="7.70" height="1.00" fill="#f9fff9"/>
<rect x="362.90" y="228.30" width="7.70" height="1.00" fill="#d5ffd5"/>
<rect x="362.90" y="229.30" width="7.70" height="1.00" fill="#dbffdb"/>
<rect x="370.60" y="23.30" width="7.70" height="1.00" fill="#cff9cf"/>
<rect x="370.60" y="26.30" width="7.70" height="1.00" fill="#ffffff"/>
<rect x="370.60" y="27.30" width="7.70" height="1.00" fill="#f3fff3"/>
<rect x="370.60" y="29.30" width="7.70" height="1.00" fill="#ffffff"/>
<rect x="370.60" y="30.30" width="7.70" height="1.00" fill="#f3fff3"/>
<rect x="370.60" y="31.30" width="7.70" height="1.00" fill="#f9fff9"/>
<rect x="370.60" y="32.30" width="7.70" height="1.00" fill="#d5ffd5"/>
<rect x="370.60" y="33.30" width="7.70" height="2.00" fill="#f3fff3"/>
<rect x="370.60" y="35.30" width="7.70" height="1.00" fill="#ffffff"/>
<rect x="370.60" y="36.30" width="7.70" height="1.00" fill="#edffed"/>
<rect x="370.60" y="38.30" width="7.70" height="1.00" fill="#fff9f9"/>
<rect x="370.60" y="39.30" width="7.70" height="2.00" fill="#ffffff"/>
<rect x="370.60" y="42.30" width="7.70" height="1.00" fill="#ff6363"/>
<rect x="370.60" y="44.30" width="7.70" height="1.00" fill="#f3fff3"/>
<rect x="370.60" y="45.30" width="7.70" height="1.00" fill="#ff8181"/>
<rect x="370.60" y="50.30" width="7.70" height="2.00" fill="#ffffff"/>
<rect x="370.60" y="52.30" width="7.70" height="1.00" fill="#ffeded"/>
<rect x="370.60" y="53.30" width="7.70" height="1.00" fill="#ffffff"/>
<rect x="370.60" y="56.30" width="7.70" height="1.00" fill="#f9fff9"/>
<rect x="370.60" y="58.30" width="7.70" height="1.00" fill="#f9fff9"/>
<rect x="370.60" y="63.30" width="7.70" height="1.00" fill="#f3fff3"/>
<rect x="370.60" y="64.30" width="7.70" height="1.00" fill="#ffe7e7"/>
<rect x="370.60" y="65.30" width="7.70" height="1.00" fill="#f3fff3"/>
<rect x="370.60" y="67.30" width="7.70" height="1.00" fill="#f3fff3"/>
<rect x="370.60" y="69.30" width="7.70" height="1.00" fill="#ffcfcf"/>
<rect x="370.60" y="70.30" width="7.70" height="1.00" fill="#d5ffd5"/>
<rect x="370.60" y="73.30" width="7.70" height="1.00" fill="#edffed"/>
<rect x="370.60" y="74.30" width="7.70" height="1.00" fill="#ffe1e1"/>
<rect x="370.60" y="75.30" width="7.70" height="1.00" fill="#f3fff3"/>
<rect x="370.60" y="76.30" width="7.70" height="2.00" fill="#edffed"/>
<rect x="370.60" y="79.30" width="7.70" height="1.00" fill="#ffffff"/>
<rect x="370.60" y="81.30" width="7.70" height="1.00" fill="#ffe7e7"/>
<rect x="370.60" y="85.30" width="7.70" height="1.00" fill="#d5ffd5"/>
<rect x="370.60" y="87.30" width="7.70" height="1.00" fill="#dbffdb"/>
<rect x="370.60" y="88.30" width="7.70" height="1.00" fill="#f9fff9"/>
<rect x="370.60" y="89.30" width="7.70" height="1.00" fill="#f3fff3"/>
<rect x="370.60" y="91.30" width="7.70" height="1.00" fill="#cff9cf"/>
<rect x="370.60" y="92.30" width="7.70" height="1.00" fill="#dbffdb"/>
<rect x="370.60" y="94.30" width="7.70" height="1.00" fill="#ffbdbd"/>
<rect x="370.60" y="95.30" width="7.70" height="1.00" fill="#d5ffd5"/>
<rect x="370.60" y="96.30" width="7.70" height="1.00" fill="#f3fff3"/>
<rect x="370.60" y="97.30" width="7.70" height="2.00" fill="#d5ffd5"/>
<rect x="370.60" y="100.30" width="7.70" height="1.00" fill="#fff9f9"/>
<rect x="370.60" y="101.30" width="7.70" height="1.00" fill="#ffdbdb"/>
<rect x="370.60" y="102.30" width="7.70" height="1.00" fill="#ffeded"/>
<rect x="370.60" y="103.30" width="7.70" height="1.00" fill="#f3fff3"/>
<rect x="370.60" y="105.30" width="7.70" height="1.00" fill="#cff9cf"/>
<rect x="370.60" y="107.30" width="7.70" height="1.00" fill="#f9fff9"/>
<rect x="370.60" y="108.30" width="7.70" height="1.00" fill="#fff9f9"/>
<rect x="370.60" y="111.30" width="7.70" height="1.00" fill="#f3fff3"/>
<rect x="370.60" y="112.30" width="7.70" height="1.00" fill="#ffdbdb"/>
<rect x="370.60" y="116.30" width="7.70" height="1.00" fill="#ffd5d5"/>
<rect x="370.60" y="119.30" width="7.70" height="1.00" fill="#f3fff3"/>
<rect x="370.60" y="122.30" width="7.70" height="1.00" fill="#f9fff9"/>
<rect x="370.60" y="123.30" width="7.70" height="1.00" fill="#edffed"/>
<rect x="370.60" y="124.30" width="7.70" height="1.00" fill="#fff9f9"/>
<rect x="370.60" y="125.30" width="7.70" height="1.00" fill="#ffffff"/>
<rect x="370.60" y="126.30" width="7.70" height="1.00" fill="#fff3f3"/>
<rect x="370.60" y="127.30" width="7.70" height="1.00" fill="#edffed"/>
<rect x="370.60" y="128.30" width="7.70" height="1.00" fill="#c3f9c3"/>
<rect x="370.60" y="129.30" width="7.70" height="1.00" fill="#ffbdbd"/>
<rect x="370.60" y="131.30" width="7.70" height="1.00" fill="#d5ffd5"/>
<rect x="370.60" y="132.30" width="7.70" height="1.00" fill="#f3fff3"/>
<rect x="370.60" y="133.30" width="7.70" height="1.00" fill="#ffffff"/>
<rect x="370.60" y="134.30" width="7.70" height="1.00" fill="#f3fff3"/>
<rect x="370.60" y="135.30" width="7.70" height="1.00" fill="#ffe7e7"/>
<rect x="370.60" y="136.30" width="7.70" height="1.00" fill="#f3fff3"/>
<rect x="370.60" y="137.30" width="7.70" height="2.00" fill="#f9fff9"/>
<rect x="370.60" y="139.30" width="7.70" height="1.00" fill="#edffed"/>
<rect x="370.60" y="140.30" width="7.70" height="1.00" fill="#ffffff"/>
<rect x="370.60" y="141.30" width="7.70" height="1.00" fill="#f3fff3"/>
<rect x="370.60" y="143.30" width="7.70" height="1.00" fill="#f3fff3"/>
<rect x="370.60" y="144.30" width="7.70" height="1.00" fill="#edffed"/>
<rect x="370.60" y="145.30" width="7.70" height="1.00" fill="#ffdbdb"/>
<rect x="370.60" y="146.30" width="7.70" height="1.00" fill="#f9fff9"/>
<rect x="370.60" y="148.30" width="7.70" height="1.00" fill="#d5ffd5"/>
<rect x="370.60" y="150.30" width="7.70" height="1.00" fill="#edffed"/>
<rect x="370.60" y="151.30" width="7.70" height="1.00" fill="#ffffff"/>
<rect x="370.60" y="152.30" width="7.70" height="1.00" fill="#f9fff9"/>
<rect x="370.60" y="153.30" width="7.70" height="1.00" fill="#ff9393"/>
<rect x="370.60" y="157.30" width="7.70" height="1.00" fill="#ff5d5d"/>
<rect x="370.60" y="160.30" width="7.70" height="1.00" fill="#edffed"/>
<rect x="370.60" y="164.30" width="7.70" height="1.00" fill="#fff3f3"/>
<rect x="370.60" y="166.30" width="7.70" height="1.00" fill="#fff9f9"/>
<rect x="370.60" y="167.30" width="7.70" height="1.00" fill="#d5ffd5"/>
<rect x="370.60" y="168.30" width="7.70" height="1.00" fill="#cff9cf"/>
<rect x="370.60" y="169.30" width="7.70" height="1.00" fill="#c3f9c3"/>
<rect x="370.60" y="170.30" width="7.70" height="1.00" fill="#c9f9c9"/>
<rect x="370.60" y="171.30" width="7.70" height="1.00" fill="#ffc3c3"/>
<rect x="370.60" y="172.30" width="7.70" height="2.00" fill="#c3f9c3"/>
<rect x="370.60" y="175.30" width="7.70" height="1.00" fill="#edffed"/>
<rect x="370.60" y="177.30" width="7.70" height="1.00" fill="#dbffdb"/>
<rect x="370.60" y="178.30" width="7.70" height="1.00" fill="#cff9cf"/>
<rect x="370.60" y="187.30" width="7.70" height="1.00" fill="#c3f9c3"/>
<rect x="370.60" y="189.30" width="7.70" height="2.00" fill="#edffed"/>
<rect x="370.60" y="193.30" width="7.70" height="2.00" fill="#edffed"/>
<rect x="370.60" y="195.30" width="7.70" height="2.00" fill="#ffffff"/>
<rect x="370.60" y="197.30" width="7.70" height="1.00" fill="#f3fff3"/>
<rect x="370.60" y="198.30" width="7.70" height="1.00" fill="#ffffff"/>
<rect x="370.60" y="199.30" width="7.70" height="1.00" fill="#ffd5d5"/>
<rect x="370.60" y="201.30" width="7.70" height="1.00" fill="#edffed"/>
<rect x="370.60" y="202.30" width="7.70" height="1.00" fill="#f3fff3"/>
<rect x="370.60" y="203.30" width="7.70" height="1.00" fill="#f9fff9"/>
<rect x="370.60" y="204.30" width="7.70" height="2.00" fill="#edffed"/>
<rect x="370.60" y="207.30" width="7.70" height="1.00" fill="#edffed"/>
<rect x="370.60" y="209.30" width="7.70" height="1.00" fill="#edffed"/>
<rect x="370.60" y="210.30" width="7.70" height="1.00" fill="#f3fff3"/>
<rect x="370.60" y="211.30" width="7.70" height="1.00" fill="#edffed"/>
<rect x="370.60" y="212.30" width="7.70" height="1.00" fill="#ffa5a5"/>
<rect x="370.60" y="213.30" width="7.70" height="1.00" fill="#d5ffd5"/>
<rect x="370.60" y="215.30" width="7.70" height="1.00" fill="#dbffdb"/>
<rect x="370.60" y="216.30" width="7.70" height="1.00" fill="#ff8787"/>
<rect x="370.60" y="217.30" width="7.70" height="1.00" fill="#ff5d5d"/>
<rect x="370.60" y="218.30" width="7.70" height="1.00" fill="#ff0303"/>
<rect x="370.60" y="219.30" width="7.70" height="1.00" fill="#ff0909"/>
<rect x="370.60" y="220.30" width="7.70" height="5.00" fill="#ff0303"/>
<rect x="370.60" y="225.30" width="7.70" height="2.00" fill="#f9fff9"/>
<rect x="378.30" y="23.30" width="7.70" height="2.00" fill="#d5ffd5"/>
<rect x="378.30" y="25.30" width="7.70" height="1.00" fill="#edffed"/>
<rect x="378.30" y="26.30" width="7.70" height="1.00" fill="#fff9f9"/>
<rect x="378.30" y="27.30" width="7.70" height="1.00" fill="#ffffff"/>
<rect x="378.30" y="29.30" width="7.70" height="2.00" fill="#f9fff9"/>
<rect x="378.30" y="31.30" width="7.70" height="1.00" fill="#f3fff3"/>
<rect x="378.30" y="32.30" width="7.70" height="1.00" fill="#ffbdbd"/>
<rect x="378.30" y="33.30" width="7.70" height="1.00" fill="#ffffff"/>
<rect x="378.30" y="34.30" width="7.70" height="1.00" fill="#f3fff3"/>
<rect x="378.30" y="35.30" width="7.70" height="1.00" fill="#f9fff9"/>
<rect x="378.30" y="36.30" width="7.70" height="1.00" fill="#f3fff3"/>
<rect x="378.30" y="38.30" width="7.70" height="1.00" fill="#edffed"/>
<rect x="378.30" y="39.30" width="7.70" height="1.00" fill="#ffffff"/>
<rect x="378.30" y="42.30" width="7.70" height="1.00" fill="#ffffff"/>
<rect x="378.30" y="43.30" width="7.70" height="1.00" fill="#dbffdb"/>
<rect x="378.30" y="44.30" width="7.70" height="1.00" fill="#d5ffd5"/>
<rect x="378.30" y="46.30" width="7.70" height="1.00" fill="#f3fff3"/>
<rect x="378.30" y="47.30" width="7.70" height="1.00" fill="#ff4545"/>
<rect x="378.30" y="49.30" width="7.70" height="1.00" fill="#ff9999"/>
<rect x="378.30" y="50.30" width="7.70" height="1.00" fill="#f3fff3"/>
<rect x="378.30" y="51.30" width="7.70" height="1.00" fill="#f9fff9"/>
<rect x="378.30" y="52.30" width="7.70" height="1.00" fill="#fff3f3"/>
<rect x="378.30" y="53.30" width="7.70" height="1.00" fill="#f9fff9"/>
<rect x="378.30" y="58.30" width="7.70" height="1.00" fill="#f9fff9"/>
<rect x="378.30" y="59.30" width="7.70" height="1.00" fill="#f3fff3"/>
<rect x="378.30" y="60.30" width="7.70" height="2.00" fill="#edffed"/>
<rect x="378.30" y="62.30" width="7.70" height="3.00" fill="#ff2727"/>
<rect x="378.30" y="65.30" width="7.70" height="1.00" fill="#ffbdbd"/>
<rect x="378.30" y="66.30" width="7.70" height="1.00" fill="#f3fff3"/>
<rect x="378.30" y="67.30" width="7.70" height="1.00" fill="#edffed"/>
<rect x="378.30" y="69.30" width="7.70" height="1.00" fill="#f9fff9"/>
<rect x="378.30" y="70.30" width="7.70" height="2.00" fill="#d5ffd5"/>
<rect x="378.30" y="73.30" width="7.70" height="1.00" fill="#edffed"/>
<rect x="378.30" y="75.30" width="7.70" height="1.00" fill="#f9fff9"/>
<rect x="378.30" y="77.30" width="7.70" height="4.00" fill="#ff5151"/>
<rect x="378.30" y="82.30" width="7.70" height="1.00" fill="#d5ffd5"/>
<rect x="378.30" y="85.30" width="7.70" height="1.00" fill="#d5ffd5"/>
<rect x="378.30" y="88.30" width="7.70" height="1.00" fill="#edffed"/>
<rect x="378.30" y="90.30" width="7.70" height="1.00" fill="#dbffdb"/>
<rect x="378.30" y="91.30" width="7.70" height="1.00" fill="#c9f9c9"/>
<rect x="378.30" y="93.30" width="7.70" height="1.00" fill="#edffed"/>
<rect x="378.30" y="95.30" width="7.70" height="1.00" fill="#cff9cf"/>
<rect x="378.30" y="96.30" width="7.70" height="1.00" fill="#edffed"/>
<rect x="378.30" y="97.30" width="7.70" height="1.00" fill="#ffcfcf"/>
<rect x="378.30" y="98.30" width="7.70" height="1.00" fill="#c3f9c3"/>
<rect x="378.30" y="99.30" width="7.70" height="1.00" fill="#c9f9c9"/>
<rect x="378.30" y="100.30" width="7.70" height="1.00" fill="#f9fff9"/>
<rect x="378.30" y="101.30" width="7.70" height="1.00" fill="#fff3f3"/>
<rect x="378.30" y="102.30" width="7.70" height="1.00" fill="#ffffff"/>
<rect x="378.30" y="103.30" width="7.70" height="1.00" fill="#edffed"/>
<rect x="378.30" y="105.30" width="7.70" height="1.00" fill="#dbffdb"/>
<rect x="378.30" y="108.30" width="7.70" height="1.00" fill="#ffffff"/>
<rect x="378.30" y="109.30" width="7.70" height="1.00" fill="#edffed"/>
<rect x="378.30" y="111.30" width="7.70" height="1.00" fill="#f3fff3"/>
<rect x="378.30" y="116.30" width="7.70" height="1.00" fill="#ffc3c3"/>
<rect x="378.30" y="118.30" width="7.70" height="1.00" fill="#d5ffd5"/>
<rect x="378.30" y="121.30" width="7.70" height="1.00" fill="#ffa5a5"/>
<rect x="378.30" y="122.30" width="7.70" height="1.00" fill="#f9fff9"/>
<rect x="378.30" y="124.30" width="7.70" height="1.00" fill="#ffffff"/>
<rect x="378.30" y="125.30" width="7.70" height="1.00" fill="#fff3f3"/>
<rect x="378.30" y="126.30" width="7.70" height="1.00" fill="#ffffff"/>
<rect x="378.30" y="127.30" width="7.70" height="1.00" fill="#edffed"/>
<rect x="378.30" y="128.30" width="7.70" height="1.00" fill="#cff9cf"/>
<rect x="378.30" y="131.30" width="7.70" height="1.00" fill="#d5ffd5"/>
<rect x="378.30" y="132.30" width="7.70" height="1.00" fill="#f3fff3"/>
<rect x="378.30" y="133.30" width="7.70" height="1.00" fill="#ff4b4b"/>
<rect x="378.30" y="135.30" width="7.70" height="1.00" fill="#f9fff9"/>
<rect x="378.30" y="136.30" width="7.70" height="2.00" fill="#ff0303"/>
<rect x="378.30" y="138.30" width="7.70" height="1.00" fill="#ff1b1b"/>
<rect x="378.30" y="139.30" width="7.70" height="8.00" fill="#ff0303"/>
<rect x="378.30" y="147.30" width="7.70" height="1.00" fill="#ff2121"/>
<rect x="378.30" y="148.30" width="7.70" height="1.00" fill="#ff2727"/>
<rect x="378.30" y="149.30" width="7.70" height="1.00" fill="#ff0303"/>
<rect x="378.30" y="150.30" width="7.70" height="1.00" fill="#ff3f3f"/>
<rect x="378.30" y="151.30" width="7.70" height="1.00" fill="#ff8181"/>
<rect x="378.30" y="152.30" width="7.70" height="3.00" fill="#edffed"/>
<rect x="378.30" y="155.30" width="7.70" height="1.00" fill="#d5ffd5"/>
<rect x="378.30" y="157.30" width="7.70" height="1.00" fill="#f3fff3"/>
<rect x="378.30" y="159.30" width="7.70" height="1.00" fill="#ffe7e7"/>
<rect x="378.30" y="160.30" width="7.70" height="1.00" fill="#f3fff3"/>
<rect x="378.30" y="161.30" width="7.70" height="1.00" fill="#ff4b4b"/>
<rect x="378.30" y="164.30" width="7.70" height="1.00" fill="#f9fff9"/>
<rect x="378.30" y="165.30" width="7.70" height="2.00" fill="#f3fff3"/>
<rect x="378.30" y="167.30" width="7.70" height="1.00" fill="#cff9cf"/>
<rect x="378.30" y="168.30" width="7.70" height="1.00" fill="#c3f9c3"/>
<rect x="378.30" y="169.30" width="7.70" height="1.00" fill="#c9f9c9"/>
<rect x="378.30" y="170.30" width="7.70" height="1.00" fill="#ff7575"/>
<rect x="378.30" y="171.30" width="7.70" height="1.00" fill="#b1f9b1"/>
<rect x="378.30" y="172.30" width="7.70" height="1.00" fill="#bdf9bd"/>
<rect x="378.30" y="173.30" width="7.70" height="1.00" fill="#c9f9c9"/>
<rect x="378.30" y="175.30" width="7.70" height="1.00" fill="#f9fff9"/>
<rect x="378.30" y="176.30" width="7.70" height="1.00" fill="#edffed"/>
<rect x="378.30" y="177.30" width="7.70" height="1.00" fill="#d5ffd5"/>
<rect x="378.30" y="178.30" width="7.70" height="1.00" fill="#cff9cf"/>
<rect x="378.30" y="181.30" width="7.70" height="1.00" fill="#d5ffd5"/>
<rect x="378.30" y="182.30" width="7.70" height="1.00" fill="#f9fff9"/>
<rect x="378.30" y="183.30" width="7.70" height="1.00" fill="#d5ffd5"/>
<rect x="378.30" y="184.30" width="7.70" height="1.00" fill="#f3fff3"/>
<rect x="378.30" y="186.30" width="7.70" height="1.00" fill="#cff9cf"/>
<rect x="378.30" y="187.30" width="7.70" height="1.00" fill="#c3f9c3"/>
<rect x="378.30" y="189.30" width="7.70" height="1.00" fill="#f3fff3"/>
<rect x="378.30" y="190.30" width="7.70" height="1.00" fill="#ffa5a5"/>
<rect x="378.30" y="191.30" width="7.70" height="1.00" fill="#f3fff3"/>
<rect x="378.30" y="193.30" width="7.70" height="2.00" fill="#f3fff3"/>
<rect x="378.30" y="195.30" width="7.70" height="1.00" fill="#ffffff"/>
<rect x="378.30" y="196.30" width="7.70" height="1.00" fill="#f9fff9"/>
<rect x="378.30" y="197.30" width="7.70" height="1.00" fill="#ffffff"/>
<rect x="378.30" y="198.30" width="7.70" height="1.00" fill="#f9fff9"/>
<rect x="378.30" y="200.30" width="7.70" height="1.00" fill="#edffed"/>
<rect x="378.30" y="201.30" width="7.70" height="1.00" fill="#f9fff9"/>
<rect x="378.30" y="202.30" width="7.70" height="1.00" fill="#f3fff3"/>
<rect x="378.30" y="203.30" width="7.70" height="1.00" fill="#edffed"/>
<rect x="378.30" y="204.30" width="7.70" height="1.00" fill="#ffd5d5"/>
<rect x="378.30" y="209.30" width="7.70" height="1.00" fill="#f3fff3"/>
<rect x="378.30" y="213.30" width="7.70" height="1.00" fill="#cff9cf"/>
<rect x="378.30" y="214.30" width="7.70" height="1.00" fill="#ff4545"/>
<rect x="378.30" y="216.30" width="7.70" height="1.00" fill="#ffbdbd"/>
<rect x="378.30" y="217.30" width="7.70" height="1.00" fill="#ff5d5d"/>
<rect x="378.30" y="220.30" width="7.70" height="1.00" fill="#c9f9c9"/>
<rect x="378.30" y="224.30" width="7.70" height="1.00" fill="#f3fff3"/>
<rect x="378.30" y="225.30" width="7.70" height="1.00" fill="#ffffff"/>
<rect x="378.30" y="226.30" width="7.70" height="1.00" fill="#f9fff9"/>
<rect x="378.30" y="229.30" width="7.70" height="1.00" fill="#ff9999"/>
<rect x="386.00" y="23.30" width="7.70" height="1.00" fill="#edffed"/>
<rect x="386.00" y="25.30" width="7.70" height="1.00" fill="#f9fff9"/>
<rect x="386.00" y="26.30" width="7.70" height="1.00" fill="#fff9f9"/>
<rect x="386.00" y="27.30" width="7.70" height="1.00" fill="#f9fff9"/>
<rect x="386.00" y="29.30" width="7.70" height="1.00" fill="#fff3f3"/>
<rect x="386.00" y="30.30" width="7.70" height="2.00" fill="#f3fff3"/>
<rect x="386.00" y="32.30" width="7.70" height="1.00" fill="#d5ffd5"/>
<rect x="386.00" y="33.30" width="7.70" height="2.00" fill="#ffffff"/>
<rect x="386.00" y="35.30" width="7.70" height="1.00" fill="#ff9f9f"/>
<rect x="386.00" y="36.30" width="7.70" height="1.00" fill="#edffed"/>
<rect x="386.00" y="38.30" width="7.70" height="2.00" fill="#fff9f9"/>
<rect x="386.00" y="40.30" width="7.70" height="1.00" fill="#f3fff3"/>
<rect x="386.00" y="41.30" width="7.70" height="9.00" fill="#ff0303"/>
<rect x="386.00" y="50.30" width="7.70" height="1.00" fill="#ff4545"/>
<rect x="386.00" y="51.30" width="7.70" height="1.00" fill="#ff2727"/>
<rect x="386.00" y="52.30" width="7.70" height="1.00" fill="#ff2d2d"/>
<rect x="386.00" y="53.30" width="7.70" height="2.00" fill="#ff2727"/>
<rect x="386.00" y="55.30" width="7.70" height="1.00" fill="#ff3333"/>
<rect x="386.00" y="56.30" width="7.70" height="1.00" fill="#ff8d8d"/>
<rect x="386.00" y="57.30" width="7.70" height="1.00" fill="#ff5d5d"/>
<rect x="386.00" y="58.30" width="7.70" height="1.00" fill="#ff6f6f"/>
<rect x="386.00" y="59.30" width="7.70" height="1.00" fill="#ff3939"/>
<rect x="386.00" y="60.30" width="7.70" height="1.00" fill="#ff5757"/>
<rect x="386.00" y="61.30" width="7.70" height="1.00" fill="#ff2121"/>
<rect x="386.00" y="62.30" width="7.70" height="1.00" fill="#ff6363"/>
<rect x="386.00" y="63.30" width="7.70" height="2.00" fill="#ff5151"/>
<rect x="386.00" y="65.30" width="7.70" height="1.00" fill="#ff5d5d"/>
<rect x="386.00" y="66.30" width="7.70" height="2.00" fill="#f3fff3"/>
<rect x="386.00" y="68.30" width="7.70" height="1.00" fill="#edffed"/>
<rect x="386.00" y="70.30" width="7.70" height="2.00" fill="#cff9cf"/>
<rect x="386.00" y="72.30" width="7.70" height="1.00" fill="#f9fff9"/>
<rect x="386.00" y="73.30" width="7.70" height="1.00" fill="#edffed"/>
<rect x="386.00" y="74.30" width="7.70" height="1.00" fill="#ffffff"/>
<rect x="386.00" y="75.30" width="7.70" height="2.00" fill="#f3fff3"/>
<rect x="386.00" y="77.30" width="7.70" height="1.00" fill="#edffed"/>
<rect x="386.00" y="79.30" width="7.70" height="1.00" fill="#f9fff9"/>
<rect x="386.00" y="82.30" width="7.70" height="1.00" fill="#ff6969"/>
<rect x="386.00" y="84.30" width="7.70" height="1.00" fill="#f3fff3"/>
<rect x="386.00" y="85.30" width="7.70" height="1.00" fill="#dbffdb"/>
<rect x="386.00" y="88.30" width="7.70" height="1.00" fill="#f9fff9"/>
<rect x="386.00" y="90.30" width="7.70" height="1.00" fill="#cff9cf"/>
<rect x="386.00" y="91.30" width="7.70" height="1.00" fill="#c3f9c3"/>
<rect x="386.00" y="92.30" width="7.70" height="1.00" fill="#ffc3c3"/>
<rect x="386.00" y="94.30" width="7.70" height="1.00" fill="#cff9cf"/>
<rect x="386.00" y="95.30" width="7.70" height="1.00" fill="#d5ffd5"/>
<rect x="386.00" y="97.30" width="7.70" height="1.00" fill="#d5ffd5"/>
<rect x="386.00" y="98.30" width="7.70" height="1.00" fill="#c3f9c3"/>
<rect x="386.00" y="99.30" width="7.70" height="1.00" fill="#dbffdb"/>
<rect x="386.00" y="100.30" width="7.70" height="1.00" fill="#f9fff9"/>
<rect x="386.00" y="101.30" width="7.70" height="2.00" fill="#fff3f3"/>
<rect x="386.00" y="103.30" width="7.70" height="1.00" fill="#f9fff9"/>
<rect x="386.00" y="107.30" width="7.70" height="1.00" fill="#ffc9c9"/>
<rect x="386.00" y="108.30" width="7.70" height="1.00" fill="#ffb7b7"/>
<rect x="386.00" y="111.30" width="7.70" height="1.00" fill="#edffed"/>
<rect x="386.00" y="116.30" width="7.70" height="1.00" fill="#ffa5a5"/>
<rect x="386.00" y="120.30" width="7.70" height="2.00" fill="#ff7575"/>
<rect x="386.00" y="122.30" width="7.70" height="1.00" fill="#ffffff"/>
<rect x="386.00" y="123.30" width="7.70" height="1.00" fill="#f3fff3"/>
<rect x="386.00" y="124.30" width="7.70" height="1.00" fill="#fff3f3"/>
<rect x="386.00" y="125.30" width="7.70" height="1.00" fill="#fff9f9"/>
<rect x="386.00" y="126.30" width="7.70" height="1.00" fill="#ffffff"/>
<rect x="386.00" y="127.30" width="7.70" height="1.00" fill="#edffed"/>
<rect x="386.00" y="128.30" width="7.70" height="1.00" fill="#ff7575"/>
<rect x="386.00" y="131.30" width="7.70" height="1.00" fill="#cff9cf"/>
<rect x="386.00" y="132.30" width="7.70" height="1.00" fill="#f9fff9"/>
<rect x="386.00" y="133.30" width="7.70" height="1.00" fill="#fff3f3"/>
<rect x="386.00" y="134.30" width="7.70" height="1.00" fill="#f3fff3"/>
<rect x="386.00" y="136.30" width="7.70" height="1.00" fill="#f9fff9"/>
<rect x="386.00" y="138.30" width="7.70" height="1.00" fill="#ffd5d5"/>
<rect x="386.00" y="139.30" width="7.70" height="1.00" fill="#f3fff3"/>
<rect x="386.00" y="140.30" width="7.70" height="1.00" fill="#f9fff9"/>
<rect x="386.00" y="142.30" width="7.70" height="1.00" fill="#dbffdb"/>
<rect x="386.00" y="143.30" width="7.70" height="1.00" fill="#f9fff9"/>
<rect x="386.00" y="144.30" width="7.70" height="1.00" fill="#f3fff3"/>
<rect x="386.00" y="145.30" width="7.70" height="1.00" fill="#ffe1e1"/>
<rect x="386.00" y="146.30" width="7.70" height="1.00" fill="#f9fff9"/>
<rect x="386.00" y="147.30" width="7.70" height="1.00" fill="#ff7b7b"/>
<rect x="386.00" y="148.30" width="7.70" height="1.00" fill="#d5ffd5"/>
<rect x="386.00" y="149.30" width="7.70" height="1.00" fill="#ffe7e7"/>
<rect x="386.00" y="151.30" width="7.70" height="1.00" fill="#f9fff9"/>
<rect x="386.00" y="152.30" width="7.70" height="1.00" fill="#ffa5a5"/>
<rect x="386.00" y="153.30" width="7.70" height="1.00" fill="#f3fff3"/>
<rect x="386.00" y="158.30" width="7.70" height="1.00" fill="#d5ffd5"/>
<rect x="386.00" y="159.30" width="7.70" height="1.00" fill="#ffcfcf"/>
<rect x="386.00" y="160.30" width="7.70" height="1.00" fill="#ff9f9f"/>
<rect x="386.00" y="164.30" width="7.70" height="1.00" fill="#f9fff9"/>
<rect x="386.00" y="165.30" width="7.70" height="2.00" fill="#f3fff3"/>
<rect x="386.00" y="167.30" width="7.70" height="1.00" fill="#d5ffd5"/>
<rect x="386.00" y="168.30" width="7.70" height="1.00" fill="#cff9cf"/>
<rect x="386.00" y="169.30" width="7.70" height="1.00" fill="#d5ffd5"/>
<rect x="386.00" y="170.30" width="7.70" height="1.00" fill="#cff9cf"/>
<rect x="386.00" y="171.30" width="7.70" height="1.00" fill="#b1f9b1"/>
<rect x="386.00" y="172.30" width="7.70" height="1.00" fill="#cff9cf"/>
<rect x="386.00" y="173.30" width="7.70" height="1.00" fill="#c9f9c9"/>
<rect x="386.00" y="175.30" width="7.70" height="2.00" fill="#edffed"/>
<rect x="386.00" y="177.30" width="7.70" height="1.00" fill="#d5ffd5"/>
<rect x="386.00" y="178.30" width="7.70" height="1.00" fill="#cff9cf"/>
<rect x="386.00" y="179.30" width="7.70" height="2.00" fill="#dbffdb"/>
<rect x="386.00" y="185.30" width="7.70" height="1.00" fill="#ffd5d5"/>
<rect x="386.00" y="186.30" width="7.70" height="1.00" fill="#dbffdb"/>
<rect x="386.00" y="187.30" width="7.70" height="1.00" fill="#c9f9c9"/>
<rect x="386.00" y="188.30" width="7.70" height="1.00" fill="#ffc3c3"/>
<rect x="386.00" y="189.30" width="7.70" height="2.00" fill="#edffed"/>
<rect x="386.00" y="193.30" width="7.70" height="2.00" fill="#f3fff3"/>
<rect x="386.00" y="195.30" width="7.70" height="1.00" fill="#ffdbdb"/>
<rect x="386.00" y="196.30" width="7.70" height="2.00" fill="#f9fff9"/>
<rect x="386.00" y="198.30" width="7.70" height="1.00" fill="#ff9f9f"/>
<rect x="386.00" y="199.30" width="7.70" height="1.00" fill="#dbffdb"/>
<rect x="386.00" y="201.30" width="7.70" height="1.00" fill="#fff3f3"/>
<rect x="386.00" y="203.30" width="7.70" height="1.00" fill="#ffdbdb"/>
<rect x="386.00" y="204.30" width="7.70" height="1.00" fill="#ffffff"/>
<rect x="386.00" y="205.30" width="7.70" height="1.00" fill="#edffed"/>
<rect x="386.00" y="206.30" width="7.70" height="1.00" fill="#ff4b4b"/>
<rect x="386.00" y="207.30" width="7.70" height="1.00" fill="#dbffdb"/>
<rect x="386.00" y="209.30" width="7.70" height="1.00" fill="#edffed"/>
<rect x="386.00" y="210.30" width="7.70" height="1.00" fill="#f3fff3"/>
<rect x="386.00" y="211.30" width="7.70" height="1.00" fill="#ffdbdb"/>
<rect x="386.00" y="212.30" width="7.70" height="1.00" fill="#dbffdb"/>
<rect x="386.00" y="213.30" width="7.70" height="1.00" fill="#ff7b7b"/>
<rect x="386.00" y="219.30" width="7.70" height="1.00" fill="#edffed"/>
<rect x="386.00" y="220.30" width="7.70" height="1.00" fill="#ffc3c3"/>
<rect x="386.00" y="223.30" width="7.70" height="1.00" fill="#f3fff3"/>
<rect x="386.00" y="224.30" width="7.70" height="1.00" fill="#f9fff9"/>
<rect x="386.00" y="225.30" width="7.70" height="1.00" fill="#ffe1e1"/>
<rect x="386.00" y="226.30" width="7.70" height="1.00" fill="#f3fff3"/>
<rect x="386.00" y="228.30" width="7.70" height="1.00" fill="#dbffdb"/>
<text x="276.35" y="237.10" font-size="5.0" text-anchor="end" fill="#000" transform="rotate(-45 276.35 237.10)" stroke="#000" stroke-width="0.22">Testes</text>
<text x="284.05" y="237.10" font-size="5.0" text-anchor="end" fill="#000" transform="rotate(-45 284.05 237.10)" stroke="#000" stroke-width="0.22">Heart</text>
<text x="291.75" y="237.10" font-size="5.0" text-anchor="end" fill="#000" transform="rotate(-45 291.75 237.10)" stroke="#000" stroke-width="0.22">Breast</text>
<text x="299.45" y="237.10" font-size="5.0" text-anchor="end" fill="#000" transform="rotate(-45 299.45 237.10)" stroke="#000" stroke-width="0.22">Kidney</text>
<text x="307.15" y="237.10" font-size="5.0" text-anchor="end" fill="#000" transform="rotate(-45 307.15 237.10)" stroke="#000" stroke-width="0.22">Lymph</text>
<text x="314.85" y="237.10" font-size="5.0" text-anchor="end" fill="#000" transform="rotate(-45 314.85 237.10)" stroke="#000" stroke-width="0.22">Thyroid</text>
<text x="322.55" y="237.10" font-size="5.0" text-anchor="end" fill="#000" transform="rotate(-45 322.55 237.10)" stroke="#000" stroke-width="0.22">Prostate</text>
<text x="330.25" y="237.10" font-size="5.0" text-anchor="end" fill="#000" transform="rotate(-45 330.25 237.10)" textLength="36.00" lengthAdjust="spacingAndGlyphs" stroke="#000" stroke-width="0.22">Skeletal muscle</text>
<text x="337.95" y="237.10" font-size="5.0" text-anchor="end" fill="#000" transform="rotate(-45 337.95 237.10)" stroke="#000" stroke-width="0.22">Lung</text>
<text x="345.65" y="237.10" font-size="5.0" text-anchor="end" fill="#000" transform="rotate(-45 345.65 237.10)" stroke="#000" stroke-width="0.22">Blood</text>
<text x="353.35" y="237.10" font-size="5.0" text-anchor="end" fill="#000" transform="rotate(-45 353.35 237.10)" stroke="#000" stroke-width="0.22">Liver</text>
<text x="361.05" y="237.10" font-size="5.0" text-anchor="end" fill="#000" transform="rotate(-45 361.05 237.10)" stroke="#000" stroke-width="0.22">Colon</text>
<text x="368.75" y="237.10" font-size="5.0" text-anchor="end" fill="#000" transform="rotate(-45 368.75 237.10)" stroke="#000" stroke-width="0.22">Adipose</text>
<text x="376.45" y="237.10" font-size="5.0" text-anchor="end" fill="#000" transform="rotate(-45 376.45 237.10)" stroke="#000" stroke-width="0.22">Ovary</text>
<text x="384.15" y="237.10" font-size="5.0" text-anchor="end" fill="#000" transform="rotate(-45 384.15 237.10)" stroke="#000" stroke-width="0.22">Adrenal</text>
<text x="391.85" y="237.10" font-size="5.0" text-anchor="end" fill="#000" transform="rotate(-45 391.85 237.10)" stroke="#000" stroke-width="0.22">Brain</text>
<line x1="274.35" y1="23.30" x2="274.35" y2="6.40" stroke="#333" stroke-width="0.75"/>
<line x1="274.35" y1="6.40" x2="289.75" y2="6.40" stroke="#333" stroke-width="0.75"/>
<line x1="282.05" y1="23.30" x2="282.05" y2="4.70" stroke="#666" stroke-width="0.75"/>
<line x1="289.75" y1="23.30" x2="289.75" y2="6.40" stroke="#333" stroke-width="0.75"/>
<line x1="289.75" y1="7.20" x2="297.45" y2="7.20" stroke="#333" stroke-width="0.75"/>
<line x1="297.45" y1="23.30" x2="297.45" y2="7.20" stroke="#333" stroke-width="0.75"/>
<line x1="297.45" y1="7.90" x2="305.15" y2="7.90" stroke="#333" stroke-width="0.75"/>
<line x1="305.15" y1="23.30" x2="305.15" y2="7.90" stroke="#333" stroke-width="0.75"/>
<line x1="305.15" y1="8.60" x2="312.85" y2="8.60" stroke="#333" stroke-width="0.75"/>
<line x1="312.85" y1="23.30" x2="312.85" y2="8.60" stroke="#333" stroke-width="0.75"/>
<line x1="312.85" y1="9.30" x2="320.55" y2="9.30" stroke="#333" stroke-width="0.75"/>
<line x1="320.55" y1="23.30" x2="320.55" y2="9.30" stroke="#333" stroke-width="0.75"/>
<line x1="320.55" y1="9.30" x2="349.60" y2="9.30" stroke="#333" stroke-width="0.75"/>
<line x1="328.25" y1="23.30" x2="328.25" y2="12.20" stroke="#333" stroke-width="0.75"/>
<line x1="328.25" y1="12.20" x2="335.15" y2="12.20" stroke="#333" stroke-width="0.75"/>
<line x1="335.95" y1="23.30" x2="335.95" y2="12.70" stroke="#777" stroke-width="0.75"/>
<line x1="335.15" y1="12.70" x2="341.70" y2="12.70" stroke="#333" stroke-width="0.75"/>
<line x1="341.70" y1="13.50" x2="347.60" y2="13.50" stroke="#333" stroke-width="0.75"/>
<line x1="341.70" y1="12.70" x2="341.70" y2="13.50" stroke="#333" stroke-width="0.75"/>
<line x1="343.65" y1="23.30" x2="343.65" y2="15.70" stroke="#333" stroke-width="0.75"/>
<line x1="351.35" y1="23.30" x2="351.35" y2="15.70" stroke="#333" stroke-width="0.75"/>
<line x1="343.65" y1="15.70" x2="351.35" y2="15.70" stroke="#333" stroke-width="0.75"/>
<line x1="347.40" y1="13.50" x2="347.40" y2="15.70" stroke="#333" stroke-width="0.75"/>
<line x1="349.60" y1="9.30" x2="349.60" y2="10.30" stroke="#333" stroke-width="0.75"/>
<line x1="349.60" y1="10.30" x2="362.80" y2="10.30" stroke="#333" stroke-width="0.75"/>
<line x1="359.05" y1="23.30" x2="359.05" y2="11.00" stroke="#777" stroke-width="0.75"/>
<line x1="359.05" y1="11.00" x2="370.60" y2="11.00" stroke="#333" stroke-width="0.75"/>
<line x1="366.75" y1="23.30" x2="366.75" y2="11.50" stroke="#333" stroke-width="0.75"/>
<line x1="374.45" y1="23.30" x2="374.45" y2="11.50" stroke="#333" stroke-width="0.75"/>
<line x1="366.75" y1="11.50" x2="374.45" y2="11.50" stroke="#333" stroke-width="0.75"/>
<line x1="362.80" y1="10.30" x2="362.80" y2="11.00" stroke="#333" stroke-width="0.75"/>
<line x1="382.15" y1="23.30" x2="382.15" y2="6.10" stroke="#999" stroke-width="0.75"/>
<line x1="389.85" y1="23.30" x2="389.85" y2="6.10" stroke="#333" stroke-width="0.75"/>
<line x1="382.15" y1="6.10" x2="389.85" y2="6.10" stroke="#333" stroke-width="0.75"/>
<line x1="386.00" y1="4.70" x2="386.00" y2="6.10" stroke="#aaa" stroke-width="0.75"/>
<line x1="282.05" y1="4.70" x2="386.00" y2="4.70" stroke="#bbb" stroke-width="0.75"/>
<line x1="252.20" y1="28.90" x2="252.20" y2="66.00" stroke="#333" stroke-width="0.75"/>
<line x1="252.20" y1="66.00" x2="253.20" y2="66.00" stroke="#333" stroke-width="0.75"/>
<line x1="253.20" y1="66.00" x2="253.20" y2="89.90" stroke="#333" stroke-width="0.75"/>
<line x1="253.20" y1="89.90" x2="255.10" y2="89.90" stroke="#333" stroke-width="0.75"/>
<line x1="255.10" y1="89.90" x2="255.10" y2="123.70" stroke="#333" stroke-width="0.75"/>
<line x1="255.10" y1="123.70" x2="255.90" y2="123.70" stroke="#333" stroke-width="0.75"/>
<line x1="255.90" y1="123.70" x2="255.90" y2="159.10" stroke="#333" stroke-width="0.75"/>
<line x1="255.90" y1="159.10" x2="256.60" y2="159.10" stroke="#333" stroke-width="0.75"/>
<line x1="256.60" y1="159.10" x2="256.60" y2="181.00" stroke="#333" stroke-width="0.75"/>
<line x1="256.60" y1="181.00" x2="257.20" y2="181.00" stroke="#333" stroke-width="0.75"/>
<line x1="257.20" y1="181.00" x2="257.20" y2="192.20" stroke="#333" stroke-width="0.75"/>
<line x1="257.20" y1="192.20" x2="258.90" y2="192.20" stroke="#333" stroke-width="0.75"/>
<line x1="258.90" y1="192.20" x2="258.90" y2="210.60" stroke="#333" stroke-width="0.75"/>
<line x1="258.90" y1="210.60" x2="260.80" y2="210.60" stroke="#333" stroke-width="0.75"/>
<line x1="260.80" y1="210.60" x2="260.80" y2="222.50" stroke="#333" stroke-width="0.75"/>
<line x1="260.80" y1="222.50" x2="262.50" y2="222.50" stroke="#333" stroke-width="0.75"/>
<line x1="262.50" y1="222.50" x2="262.50" y2="229.00" stroke="#333" stroke-width="0.75"/>
<line x1="252.20" y1="28.90" x2="264.43" y2="28.90" stroke="#333" stroke-width="0.75"/>
<line x1="264.43" y1="24.10" x2="264.43" y2="41.30" stroke="#333" stroke-width="0.75"/>
<line x1="264.43" y1="24.10" x2="268.60" y2="24.10" stroke="#222" stroke-width="0.5"/>
<line x1="264.43" y1="28.34" x2="268.60" y2="28.34" stroke="#222" stroke-width="0.5"/>
<line x1="264.43" y1="32.35" x2="268.60" y2="32.35" stroke="#222" stroke-width="0.5"/>
<line x1="264.43" y1="35.77" x2="268.60" y2="35.77" stroke="#222" stroke-width="0.5"/>
<line x1="264.43" y1="39.31" x2="268.60" y2="39.31" stroke="#222" stroke-width="0.5"/>
<line x1="267.90" y1="24.10" x2="270.40" y2="24.10" stroke="#111" stroke-width="0.5"/>
<line x1="267.86" y1="24.75" x2="270.40" y2="24.75" stroke="#111" stroke-width="0.5"/>
<line x1="267.97" y1="25.62" x2="270.40" y2="25.62" stroke="#111" stroke-width="0.5"/>
<line x1="267.99" y1="26.35" x2="270.40" y2="26.35" stroke="#111" stroke-width="0.5"/>
<line x1="269.16" y1="27.19" x2="270.40" y2="27.19" stroke="#111" stroke-width="0.5"/>
<line x1="267.92" y1="28.05" x2="270.40" y2="28.05" stroke="#111" stroke-width="0.5"/>
<line x1="268.03" y1="28.64" x2="270.40" y2="28.64" stroke="#111" stroke-width="0.5"/>
<line x1="267.92" y1="29.59" x2="270.40" y2="29.59" stroke="#111" stroke-width="0.5"/>
<line x1="268.88" y1="30.47" x2="270.40" y2="30.47" stroke="#111" stroke-width="0.5"/>
<line x1="268.40" y1="31.38" x2="270.40" y2="31.38" stroke="#111" stroke-width="0.5"/>
<line x1="268.29" y1="32.09" x2="270.40" y2="32.09" stroke="#111" stroke-width="0.5"/>
<line x1="268.48" y1="32.92" x2="270.40" y2="32.92" stroke="#111" stroke-width="0.5"/>
<line x1="268.41" y1="33.77" x2="270.40" y2="33.77" stroke="#111" stroke-width="0.5"/>
<line x1="268.64" y1="34.69" x2="270.40" y2="34.69" stroke="#111" stroke-width="0.5"/>
<line x1="268.39" y1="35.33" x2="270.40" y2="35.33" stroke="#111" stroke-width="0.5"/>
<line x1="269.08" y1="35.95" x2="270.40" y2="35.95" stroke="#111" stroke-width="0.5"/>
<line x1="268.36" y1="36.47" x2="270.40" y2="36.47" stroke="#111" stroke-width="0.5"/>
<line x1="268.65" y1="37.18" x2="270.40" y2="37.18" stroke="#111" stroke-width="0.5"/>
<line x1="268.74" y1="37.74" x2="270.40" y2="37.74" stroke="#111" stroke-width="0.5"/>
<line x1="268.19" y1="38.30" x2="270.40" y2="38.30" stroke="#111" stroke-width="0.5"/>
<line x1="267.90" y1="38.96" x2="270.40" y2="38.96" stroke="#111" stroke-width="0.5"/>
<line x1="267.89" y1="39.96" x2="270.40" y2="39.96" stroke="#111" stroke-width="0.5"/>
<line x1="268.76" y1="40.91" x2="270.40" y2="40.91" stroke="#111" stroke-width="0.5"/>
<line x1="267.69" y1="33.52" x2="267.69" y2="36.14" stroke="#333" stroke-width="0.5"/>
<line x1="267.60" y1="29.78" x2="267.60" y2="31.72" stroke="#333" stroke-width="0.5"/>
<line x1="267.67" y1="37.75" x2="267.67" y2="41.30" stroke="#333" stroke-width="0.5"/>
<line x1="252.20" y1="55.30" x2="266.29" y2="55.30" stroke="#333" stroke-width="0.75"/>
<line x1="266.29" y1="42.90" x2="266.29" y2="64.70" stroke="#333" stroke-width="0.75"/>
<line x1="266.29" y1="42.90" x2="268.60" y2="42.90" stroke="#222" stroke-width="0.5"/>
<line x1="266.29" y1="47.71" x2="268.60" y2="47.71" stroke="#222" stroke-width="0.5"/>
<line x1="266.29" y1="51.33" x2="268.60" y2="51.33" stroke="#222" stroke-width="0.5"/>
<line x1="266.29" y1="56.00" x2="268.60" y2="56.00" stroke="#222" stroke-width="0.5"/>
<line x1="266.29" y1="59.49" x2="268.60" y2="59.49" stroke="#222" stroke-width="0.5"/>
<line x1="268.86" y1="42.90" x2="270.40" y2="42.90" stroke="#111" stroke-width="0.5"/>
<line x1="268.25" y1="43.59" x2="270.40" y2="43.59" stroke="#111" stroke-width="0.5"/>
<line x1="268.41" y1="44.53" x2="270.40" y2="44.53" stroke="#111" stroke-width="0.5"/>
<line x1="268.74" y1="45.07" x2="270.40" y2="45.07" stroke="#111" stroke-width="0.5"/>
<line x1="267.96" y1="45.78" x2="270.40" y2="45.78" stroke="#111" stroke-width="0.5"/>
<line x1="268.09" y1="46.71" x2="270.40" y2="46.71" stroke="#111" stroke-width="0.5"/>
<line x1="268.54" y1="47.31" x2="270.40" y2="47.31" stroke="#111" stroke-width="0.5"/>
<line x1="268.27" y1="47.93" x2="270.40" y2="47.93" stroke="#111" stroke-width="0.5"/>
<line x1="269.10" y1="48.66" x2="270.40" y2="48.66" stroke="#111" stroke-width="0.5"/>
<line x1="268.40" y1="49.45" x2="270.40" y2="49.45" stroke="#111" stroke-width="0.5"/>
<line x1="269.10" y1="50.37" x2="270.40" y2="50.37" stroke="#111" stroke-width="0.5"/>
<line x1="267.84" y1="51.33" x2="270.40" y2="51.33" stroke="#111" stroke-width="0.5"/>
<line x1="268.89" y1="52.23" x2="270.40" y2="52.23" stroke="#111" stroke-width="0.5"/>
<line x1="268.82" y1="53.08" x2="270.40" y2="53.08" stroke="#111" stroke-width="0.5"/>
<line x1="268.09" y1="53.91" x2="270.40" y2="53.91" stroke="#111" stroke-width="0.5"/>
<line x1="268.91" y1="54.88" x2="270.40" y2="54.88" stroke="#111" stroke-width="0.5"/>
<line x1="268.55" y1="55.50" x2="270.40" y2="55.50" stroke="#111" stroke-width="0.5"/>
<line x1="268.13" y1="56.09" x2="270.40" y2="56.09" stroke="#111" stroke-width="0.5"/>
<line x1="268.00" y1="56.91" x2="270.40" y2="56.91" stroke="#111" stroke-width="0.5"/>
<line x1="268.66" y1="57.41" x2="270.40" y2="57.41" stroke="#111" stroke-width="0.5"/>
<line x1="269.07" y1="58.22" x2="270.40" y2="58.22" stroke="#111" stroke-width="0.5"/>
<line x1="268.23" y1="58.73" x2="270.40" y2="58.73" stroke="#111" stroke-width="0.5"/>
<line x1="269.08" y1="59.29" x2="270.40" y2="59.29" stroke="#111" stroke-width="0.5"/>
<line x1="268.01" y1="60.19" x2="270.40" y2="60.19" stroke="#111" stroke-width="0.5"/>
<line x1="268.76" y1="60.93" x2="270.40" y2="60.93" stroke="#111" stroke-width="0.5"/>
<line x1="268.48" y1="61.74" x2="270.40" y2="61.74" stroke="#111" stroke-width="0.5"/>
<line x1="268.09" y1="62.51" x2="270.40" y2="62.51" stroke="#111" stroke-width="0.5"/>
<line x1="268.02" y1="63.04" x2="270.40" y2="63.04" stroke="#111" stroke-width="0.5"/>
<line x1="268.00" y1="63.79" x2="270.40" y2="63.79" stroke="#111" stroke-width="0.5"/>
<line x1="267.08" y1="43.18" x2="267.08" y2="46.30" stroke="#333" stroke-width="0.5"/>
<line x1="267.83" y1="59.12" x2="267.83" y2="61.73" stroke="#333" stroke-width="0.5"/>
<line x1="268.33" y1="57.64" x2="268.33" y2="61.48" stroke="#333" stroke-width="0.5"/>
<line x1="253.20" y1="75.70" x2="266.03" y2="75.70" stroke="#333" stroke-width="0.75"/>
<line x1="266.03" y1="66.30" x2="266.03" y2="81.60" stroke="#333" stroke-width="0.75"/>
<line x1="266.03" y1="66.30" x2="268.60" y2="66.30" stroke="#222" stroke-width="0.5"/>
<line x1="266.03" y1="70.12" x2="268.60" y2="70.12" stroke="#222" stroke-width="0.5"/>
<line x1="266.03" y1="74.41" x2="268.60" y2="74.41" stroke="#222" stroke-width="0.5"/>
<line x1="266.03" y1="78.03" x2="268.60" y2="78.03" stroke="#222" stroke-width="0.5"/>
<line x1="268.34" y1="66.30" x2="270.40" y2="66.30" stroke="#111" stroke-width="0.5"/>
<line x1="268.31" y1="67.03" x2="270.40" y2="67.03" stroke="#111" stroke-width="0.5"/>
<line x1="268.63" y1="67.62" x2="270.40" y2="67.62" stroke="#111" stroke-width="0.5"/>
<line x1="268.29" y1="68.48" x2="270.40" y2="68.48" stroke="#111" stroke-width="0.5"/>
<line x1="268.66" y1="69.05" x2="270.40" y2="69.05" stroke="#111" stroke-width="0.5"/>
<line x1="268.57" y1="69.86" x2="270.40" y2="69.86" stroke="#111" stroke-width="0.5"/>
<line x1="269.12" y1="70.77" x2="270.40" y2="70.77" stroke="#111" stroke-width="0.5"/>
<line x1="268.64" y1="71.65" x2="270.40" y2="71.65" stroke="#111" stroke-width="0.5"/>
<line x1="268.59" y1="72.62" x2="270.40" y2="72.62" stroke="#111" stroke-width="0.5"/>
<line x1="268.09" y1="73.38" x2="270.40" y2="73.38" stroke="#111" stroke-width="0.5"/>
<line x1="268.31" y1="74.04" x2="270.40" y2="74.04" stroke="#111" stroke-width="0.5"/>
<line x1="268.18" y1="74.68" x2="270.40" y2="74.68" stroke="#111" stroke-width="0.5"/>
<line x1="267.95" y1="75.27" x2="270.40" y2="75.27" stroke="#111" stroke-width="0.5"/>
<line x1="268.41" y1="76.05" x2="270.40" y2="76.05" stroke="#111" stroke-width="0.5"/>
<line x1="268.81" y1="76.95" x2="270.40" y2="76.95" stroke="#111" stroke-width="0.5"/>
<line x1="269.07" y1="77.91" x2="270.40" y2="77.91" stroke="#111" stroke-width="0.5"/>
<line x1="268.72" y1="78.47" x2="270.40" y2="78.47" stroke="#111" stroke-width="0.5"/>
<line x1="267.92" y1="79.43" x2="270.40" y2="79.43" stroke="#111" stroke-width="0.5"/>
<line x1="267.83" y1="80.00" x2="270.40" y2="80.00" stroke="#111" stroke-width="0.5"/>
<line x1="269.13" y1="80.59" x2="270.40" y2="80.59" stroke="#111" stroke-width="0.5"/>
<line x1="268.00" y1="81.53" x2="270.40" y2="81.53" stroke="#111" stroke-width="0.5"/>
<line x1="266.71" y1="79.54" x2="266.71" y2="81.60" stroke="#333" stroke-width="0.5"/>
<line x1="267.64" y1="71.80" x2="267.64" y2="74.35" stroke="#333" stroke-width="0.5"/>
<line x1="267.77" y1="80.69" x2="267.77" y2="81.60" stroke="#333" stroke-width="0.5"/>
<line x1="253.20" y1="89.10" x2="265.17" y2="89.10" stroke="#333" stroke-width="0.75"/>
<line x1="265.17" y1="83.20" x2="265.17" y2="97.25" stroke="#333" stroke-width="0.75"/>
<line x1="265.17" y1="83.20" x2="268.60" y2="83.20" stroke="#222" stroke-width="0.5"/>
<line x1="265.17" y1="88.34" x2="268.60" y2="88.34" stroke="#222" stroke-width="0.5"/>
<line x1="265.17" y1="93.70" x2="268.60" y2="93.70" stroke="#222" stroke-width="0.5"/>
<line x1="268.19" y1="83.20" x2="270.40" y2="83.20" stroke="#111" stroke-width="0.5"/>
<line x1="268.12" y1="83.71" x2="270.40" y2="83.71" stroke="#111" stroke-width="0.5"/>
<line x1="269.05" y1="84.49" x2="270.40" y2="84.49" stroke="#111" stroke-width="0.5"/>
<line x1="268.64" y1="85.29" x2="270.40" y2="85.29" stroke="#111" stroke-width="0.5"/>
<line x1="268.85" y1="85.98" x2="270.40" y2="85.98" stroke="#111" stroke-width="0.5"/>
<line x1="268.46" y1="86.96" x2="270.40" y2="86.96" stroke="#111" stroke-width="0.5"/>
<line x1="268.54" y1="87.79" x2="270.40" y2="87.79" stroke="#111" stroke-width="0.5"/>
<line x1="269.07" y1="88.41" x2="270.40" y2="88.41" stroke="#111" stroke-width="0.5"/>
<line x1="268.39" y1="88.95" x2="270.40" y2="88.95" stroke="#111" stroke-width="0.5"/>
<line x1="268.60" y1="89.91" x2="270.40" y2="89.91" stroke="#111" stroke-width="0.5"/>
<line x1="268.09" y1="90.61" x2="270.40" y2="90.61" stroke="#111" stroke-width="0.5"/>
<line x1="268.85" y1="91.29" x2="270.40" y2="91.29" stroke="#111" stroke-width="0.5"/>
<line x1="268.67" y1="92.13" x2="270.40" y2="92.13" stroke="#111" stroke-width="0.5"/>
<line x1="268.32" y1="93.11" x2="270.40" y2="93.11" stroke="#111" stroke-width="0.5"/>
<line x1="268.67" y1="93.75" x2="270.40" y2="93.75" stroke="#111" stroke-width="0.5"/>
<line x1="268.79" y1="94.72" x2="270.40" y2="94.72" stroke="#111" stroke-width="0.5"/>
<line x1="268.96" y1="95.64" x2="270.40" y2="95.64" stroke="#111" stroke-width="0.5"/>
<line x1="268.69" y1="96.16" x2="270.40" y2="96.16" stroke="#111" stroke-width="0.5"/>
<line x1="268.75" y1="96.78" x2="270.40" y2="96.78" stroke="#111" stroke-width="0.5"/>
<line x1="268.11" y1="85.88" x2="268.11" y2="88.31" stroke="#333" stroke-width="0.5"/>
<line x1="266.82" y1="94.84" x2="266.82" y2="97.25" stroke="#333" stroke-width="0.5"/>
<line x1="267.62" y1="90.91" x2="267.62" y2="94.25" stroke="#333" stroke-width="0.5"/>
<line x1="255.10" y1="107.00" x2="265.24" y2="107.00" stroke="#333" stroke-width="0.75"/>
<line x1="265.24" y1="98.85" x2="265.24" y2="114.55" stroke="#333" stroke-width="0.75"/>
<line x1="265.24" y1="98.85" x2="268.60" y2="98.85" stroke="#222" stroke-width="0.5"/>
<line x1="265.24" y1="102.39" x2="268.60" y2="102.39" stroke="#222" stroke-width="0.5"/>
<line x1="265.24" y1="108.25" x2="268.60" y2="108.25" stroke="#222" stroke-width="0.5"/>
<line x1="265.24" y1="113.57" x2="268.60" y2="113.57" stroke="#222" stroke-width="0.5"/>
<line x1="268.59" y1="98.85" x2="270.40" y2="98.85" stroke="#111" stroke-width="0.5"/>
<line x1="268.13" y1="99.45" x2="270.40" y2="99.45" stroke="#111" stroke-width="0.5"/>
<line x1="268.73" y1="99.98" x2="270.40" y2="99.98" stroke="#111" stroke-width="0.5"/>
<line x1="268.17" y1="100.89" x2="270.40" y2="100.89" stroke="#111" stroke-width="0.5"/>
<line x1="268.41" y1="101.48" x2="270.40" y2="101.48" stroke="#111" stroke-width="0.5"/>
<line x1="268.86" y1="102.13" x2="270.40" y2="102.13" stroke="#111" stroke-width="0.5"/>
<line x1="268.16" y1="102.75" x2="270.40" y2="102.75" stroke="#111" stroke-width="0.5"/>
<line x1="269.00" y1="103.45" x2="270.40" y2="103.45" stroke="#111" stroke-width="0.5"/>
<line x1="267.96" y1="104.31" x2="270.40" y2="104.31" stroke="#111" stroke-width="0.5"/>
<line x1="267.87" y1="104.88" x2="270.40" y2="104.88" stroke="#111" stroke-width="0.5"/>
<line x1="268.72" y1="105.71" x2="270.40" y2="105.71" stroke="#111" stroke-width="0.5"/>
<line x1="268.20" y1="106.30" x2="270.40" y2="106.30" stroke="#111" stroke-width="0.5"/>
<line x1="267.87" y1="107.22" x2="270.40" y2="107.22" stroke="#111" stroke-width="0.5"/>
<line x1="268.96" y1="108.09" x2="270.40" y2="108.09" stroke="#111" stroke-width="0.5"/>
<line x1="268.25" y1="108.91" x2="270.40" y2="108.91" stroke="#111" stroke-width="0.5"/>
<line x1="269.09" y1="109.78" x2="270.40" y2="109.78" stroke="#111" stroke-width="0.5"/>
<line x1="268.67" y1="110.56" x2="270.40" y2="110.56" stroke="#111" stroke-width="0.5"/>
<line x1="269.10" y1="111.36" x2="270.40" y2="111.36" stroke="#111" stroke-width="0.5"/>
<line x1="268.73" y1="112.35" x2="270.40" y2="112.35" stroke="#111" stroke-width="0.5"/>
<line x1="267.97" y1="113.09" x2="270.40" y2="113.09" stroke="#111" stroke-width="0.5"/>
<line x1="268.39" y1="113.84" x2="270.40" y2="113.84" stroke="#111" stroke-width="0.5"/>
<line x1="267.47" y1="102.64" x2="267.47" y2="104.64" stroke="#333" stroke-width="0.5"/>
<line x1="268.00" y1="107.81" x2="268.00" y2="111.24" stroke="#333" stroke-width="0.5"/>
<line x1="266.89" y1="105.85" x2="266.89" y2="107.64" stroke="#333" stroke-width="0.5"/>
<line x1="255.10" y1="123.70" x2="264.60" y2="123.70" stroke="#333" stroke-width="0.75"/>
<line x1="264.60" y1="116.15" x2="264.60" y2="132.05" stroke="#333" stroke-width="0.75"/>
<line x1="264.60" y1="116.15" x2="268.60" y2="116.15" stroke="#222" stroke-width="0.5"/>
<line x1="264.60" y1="120.20" x2="268.60" y2="120.20" stroke="#222" stroke-width="0.5"/>
<line x1="264.60" y1="124.02" x2="268.60" y2="124.02" stroke="#222" stroke-width="0.5"/>
<line x1="264.60" y1="129.88" x2="268.60" y2="129.88" stroke="#222" stroke-width="0.5"/>
<line x1="268.52" y1="116.15" x2="270.40" y2="116.15" stroke="#111" stroke-width="0.5"/>
<line x1="269.04" y1="116.70" x2="270.40" y2="116.70" stroke="#111" stroke-width="0.5"/>
<line x1="269.00" y1="117.25" x2="270.40" y2="117.25" stroke="#111" stroke-width="0.5"/>
<line x1="268.30" y1="117.91" x2="270.40" y2="117.91" stroke="#111" stroke-width="0.5"/>
<line x1="268.68" y1="118.46" x2="270.40" y2="118.46" stroke="#111" stroke-width="0.5"/>
<line x1="268.74" y1="118.99" x2="270.40" y2="118.99" stroke="#111" stroke-width="0.5"/>
<line x1="268.19" y1="119.76" x2="270.40" y2="119.76" stroke="#111" stroke-width="0.5"/>
<line x1="268.79" y1="120.58" x2="270.40" y2="120.58" stroke="#111" stroke-width="0.5"/>
<line x1="269.08" y1="121.11" x2="270.40" y2="121.11" stroke="#111" stroke-width="0.5"/>
<line x1="268.92" y1="122.05" x2="270.40" y2="122.05" stroke="#111" stroke-width="0.5"/>
<line x1="268.28" y1="123.01" x2="270.40" y2="123.01" stroke="#111" stroke-width="0.5"/>
<line x1="268.40" y1="123.58" x2="270.40" y2="123.58" stroke="#111" stroke-width="0.5"/>
<line x1="268.75" y1="124.54" x2="270.40" y2="124.54" stroke="#111" stroke-width="0.5"/>
<line x1="268.85" y1="125.09" x2="270.40" y2="125.09" stroke="#111" stroke-width="0.5"/>
<line x1="268.45" y1="126.00" x2="270.40" y2="126.00" stroke="#111" stroke-width="0.5"/>
<line x1="269.02" y1="126.82" x2="270.40" y2="126.82" stroke="#111" stroke-width="0.5"/>
<line x1="268.90" y1="127.53" x2="270.40" y2="127.53" stroke="#111" stroke-width="0.5"/>
<line x1="268.90" y1="128.32" x2="270.40" y2="128.32" stroke="#111" stroke-width="0.5"/>
<line x1="268.01" y1="129.24" x2="270.40" y2="129.24" stroke="#111" stroke-width="0.5"/>
<line x1="268.62" y1="129.84" x2="270.40" y2="129.84" stroke="#111" stroke-width="0.5"/>
<line x1="268.22" y1="130.51" x2="270.40" y2="130.51" stroke="#111" stroke-width="0.5"/>
<line x1="268.42" y1="131.01" x2="270.40" y2="131.01" stroke="#111" stroke-width="0.5"/>
<line x1="268.37" y1="132.01" x2="270.40" y2="132.01" stroke="#111" stroke-width="0.5"/>
<line x1="267.25" y1="125.70" x2="267.25" y2="127.26" stroke="#333" stroke-width="0.5"/>
<line x1="266.84" y1="124.50" x2="266.84" y2="126.91" stroke="#333" stroke-width="0.5"/>
<line x1="267.89" y1="118.21" x2="267.89" y2="119.87" stroke="#333" stroke-width="0.5"/>
<line x1="255.90" y1="142.00" x2="266.30" y2="142.00" stroke="#333" stroke-width="0.75"/>
<line x1="266.30" y1="133.65" x2="266.30" y2="149.75" stroke="#333" stroke-width="0.75"/>
<line x1="266.30" y1="133.65" x2="268.60" y2="133.65" stroke="#222" stroke-width="0.5"/>
<line x1="266.30" y1="138.90" x2="268.60" y2="138.90" stroke="#222" stroke-width="0.5"/>
<line x1="266.30" y1="143.83" x2="268.60" y2="143.83" stroke="#222" stroke-width="0.5"/>
<line x1="266.30" y1="148.64" x2="268.60" y2="148.64" stroke="#222" stroke-width="0.5"/>
<line x1="268.01" y1="133.65" x2="270.40" y2="133.65" stroke="#111" stroke-width="0.5"/>
<line x1="268.76" y1="134.37" x2="270.40" y2="134.37" stroke="#111" stroke-width="0.5"/>
<line x1="268.50" y1="135.10" x2="270.40" y2="135.10" stroke="#111" stroke-width="0.5"/>
<line x1="269.13" y1="135.64" x2="270.40" y2="135.64" stroke="#111" stroke-width="0.5"/>
<line x1="268.34" y1="136.26" x2="270.40" y2="136.26" stroke="#111" stroke-width="0.5"/>
<line x1="269.13" y1="137.17" x2="270.40" y2="137.17" stroke="#111" stroke-width="0.5"/>
<line x1="268.43" y1="137.85" x2="270.40" y2="137.85" stroke="#111" stroke-width="0.5"/>
<line x1="268.48" y1="138.77" x2="270.40" y2="138.77" stroke="#111" stroke-width="0.5"/>
<line x1="268.10" y1="139.33" x2="270.40" y2="139.33" stroke="#111" stroke-width="0.5"/>
<line x1="267.80" y1="140.00" x2="270.40" y2="140.00" stroke="#111" stroke-width="0.5"/>
<line x1="269.05" y1="140.53" x2="270.40" y2="140.53" stroke="#111" stroke-width="0.5"/>
<line x1="268.96" y1="141.45" x2="270.40" y2="141.45" stroke="#111" stroke-width="0.5"/>
<line x1="268.29" y1="142.10" x2="270.40" y2="142.10" stroke="#111" stroke-width="0.5"/>
<line x1="267.87" y1="143.07" x2="270.40" y2="143.07" stroke="#111" stroke-width="0.5"/>
<line x1="268.31" y1="143.78" x2="270.40" y2="143.78" stroke="#111" stroke-width="0.5"/>
<line x1="268.76" y1="144.66" x2="270.40" y2="144.66" stroke="#111" stroke-width="0.5"/>
<line x1="269.15" y1="145.65" x2="270.40" y2="145.65" stroke="#111" stroke-width="0.5"/>
<line x1="269.08" y1="146.46" x2="270.40" y2="146.46" stroke="#111" stroke-width="0.5"/>
<line x1="268.09" y1="147.26" x2="270.40" y2="147.26" stroke="#111" stroke-width="0.5"/>
<line x1="268.18" y1="148.01" x2="270.40" y2="148.01" stroke="#111" stroke-width="0.5"/>
<line x1="268.92" y1="148.96" x2="270.40" y2="148.96" stroke="#111" stroke-width="0.5"/>
<line x1="268.71" y1="149.51" x2="270.40" y2="149.51" stroke="#111" stroke-width="0.5"/>
<line x1="268.04" y1="136.00" x2="268.04" y2="138.96" stroke="#333" stroke-width="0.5"/>
<line x1="266.72" y1="140.52" x2="266.72" y2="142.92" stroke="#333" stroke-width="0.5"/>
<line x1="267.21" y1="140.23" x2="267.21" y2="143.01" stroke="#333" stroke-width="0.5"/>
<line x1="255.90" y1="159.10" x2="264.46" y2="159.10" stroke="#333" stroke-width="0.75"/>
<line x1="264.46" y1="151.35" x2="264.46" y2="165.00" stroke="#333" stroke-width="0.75"/>
<line x1="264.46" y1="151.35" x2="268.60" y2="151.35" stroke="#222" stroke-width="0.5"/>
<line x1="264.46" y1="155.93" x2="268.60" y2="155.93" stroke="#222" stroke-width="0.5"/>
<line x1="264.46" y1="159.16" x2="268.60" y2="159.16" stroke="#222" stroke-width="0.5"/>
<line x1="264.46" y1="164.26" x2="268.60" y2="164.26" stroke="#222" stroke-width="0.5"/>
<line x1="268.48" y1="151.35" x2="270.40" y2="151.35" stroke="#111" stroke-width="0.5"/>
<line x1="268.89" y1="151.85" x2="270.40" y2="151.85" stroke="#111" stroke-width="0.5"/>
<line x1="268.84" y1="152.82" x2="270.40" y2="152.82" stroke="#111" stroke-width="0.5"/>
<line x1="268.45" y1="153.55" x2="270.40" y2="153.55" stroke="#111" stroke-width="0.5"/>
<line x1="267.91" y1="154.43" x2="270.40" y2="154.43" stroke="#111" stroke-width="0.5"/>
<line x1="268.47" y1="155.11" x2="270.40" y2="155.11" stroke="#111" stroke-width="0.5"/>
<line x1="268.44" y1="155.69" x2="270.40" y2="155.69" stroke="#111" stroke-width="0.5"/>
<line x1="267.99" y1="156.37" x2="270.40" y2="156.37" stroke="#111" stroke-width="0.5"/>
<line x1="268.41" y1="157.16" x2="270.40" y2="157.16" stroke="#111" stroke-width="0.5"/>
<line x1="268.55" y1="157.73" x2="270.40" y2="157.73" stroke="#111" stroke-width="0.5"/>
<line x1="268.60" y1="158.34" x2="270.40" y2="158.34" stroke="#111" stroke-width="0.5"/>
<line x1="268.81" y1="159.00" x2="270.40" y2="159.00" stroke="#111" stroke-width="0.5"/>
<line x1="267.80" y1="159.80" x2="270.40" y2="159.80" stroke="#111" stroke-width="0.5"/>
<line x1="268.86" y1="160.47" x2="270.40" y2="160.47" stroke="#111" stroke-width="0.5"/>
<line x1="268.88" y1="161.13" x2="270.40" y2="161.13" stroke="#111" stroke-width="0.5"/>
<line x1="269.10" y1="162.06" x2="270.40" y2="162.06" stroke="#111" stroke-width="0.5"/>
<line x1="268.40" y1="162.94" x2="270.40" y2="162.94" stroke="#111" stroke-width="0.5"/>
<line x1="267.92" y1="163.68" x2="270.40" y2="163.68" stroke="#111" stroke-width="0.5"/>
<line x1="268.17" y1="164.33" x2="270.40" y2="164.33" stroke="#111" stroke-width="0.5"/>
<line x1="268.07" y1="159.96" x2="268.07" y2="163.37" stroke="#333" stroke-width="0.5"/>
<line x1="267.36" y1="160.08" x2="267.36" y2="162.47" stroke="#333" stroke-width="0.5"/>
<line x1="266.53" y1="158.49" x2="266.53" y2="162.18" stroke="#333" stroke-width="0.5"/>
<line x1="256.60" y1="172.50" x2="265.34" y2="172.50" stroke="#333" stroke-width="0.75"/>
<line x1="265.34" y1="166.60" x2="265.34" y2="175.80" stroke="#333" stroke-width="0.75"/>
<line x1="265.34" y1="166.60" x2="268.60" y2="166.60" stroke="#222" stroke-width="0.5"/>
<line x1="265.34" y1="172.31" x2="268.60" y2="172.31" stroke="#222" stroke-width="0.5"/>
<line x1="268.16" y1="166.60" x2="270.40" y2="166.60" stroke="#111" stroke-width="0.5"/>
<line x1="268.40" y1="167.18" x2="270.40" y2="167.18" stroke="#111" stroke-width="0.5"/>
<line x1="267.95" y1="167.83" x2="270.40" y2="167.83" stroke="#111" stroke-width="0.5"/>
<line x1="269.13" y1="168.49" x2="270.40" y2="168.49" stroke="#111" stroke-width="0.5"/>
<line x1="268.39" y1="169.38" x2="270.40" y2="169.38" stroke="#111" stroke-width="0.5"/>
<line x1="268.50" y1="170.00" x2="270.40" y2="170.00" stroke="#111" stroke-width="0.5"/>
<line x1="268.67" y1="170.66" x2="270.40" y2="170.66" stroke="#111" stroke-width="0.5"/>
<line x1="268.67" y1="171.31" x2="270.40" y2="171.31" stroke="#111" stroke-width="0.5"/>
<line x1="268.19" y1="172.19" x2="270.40" y2="172.19" stroke="#111" stroke-width="0.5"/>
<line x1="268.59" y1="172.80" x2="270.40" y2="172.80" stroke="#111" stroke-width="0.5"/>
<line x1="269.03" y1="173.59" x2="270.40" y2="173.59" stroke="#111" stroke-width="0.5"/>
<line x1="268.45" y1="174.49" x2="270.40" y2="174.49" stroke="#111" stroke-width="0.5"/>
<line x1="268.90" y1="175.24" x2="270.40" y2="175.24" stroke="#111" stroke-width="0.5"/>
<line x1="266.74" y1="170.11" x2="266.74" y2="171.90" stroke="#333" stroke-width="0.5"/>
<line x1="267.84" y1="173.78" x2="267.84" y2="175.80" stroke="#333" stroke-width="0.5"/>
<line x1="266.61" y1="170.33" x2="266.61" y2="171.87" stroke="#333" stroke-width="0.5"/>
<line x1="256.60" y1="180.70" x2="265.77" y2="180.70" stroke="#333" stroke-width="0.75"/>
<line x1="265.77" y1="177.40" x2="265.77" y2="185.65" stroke="#333" stroke-width="0.75"/>
<line x1="265.77" y1="177.40" x2="268.60" y2="177.40" stroke="#222" stroke-width="0.5"/>
<line x1="265.77" y1="182.66" x2="268.60" y2="182.66" stroke="#222" stroke-width="0.5"/>
<line x1="268.80" y1="177.40" x2="270.40" y2="177.40" stroke="#111" stroke-width="0.5"/>
<line x1="268.00" y1="177.92" x2="270.40" y2="177.92" stroke="#111" stroke-width="0.5"/>
<line x1="268.10" y1="178.89" x2="270.40" y2="178.89" stroke="#111" stroke-width="0.5"/>
<line x1="269.11" y1="179.71" x2="270.40" y2="179.71" stroke="#111" stroke-width="0.5"/>
<line x1="268.44" y1="180.60" x2="270.40" y2="180.60" stroke="#111" stroke-width="0.5"/>
<line x1="268.36" y1="181.31" x2="270.40" y2="181.31" stroke="#111" stroke-width="0.5"/>
<line x1="268.90" y1="181.89" x2="270.40" y2="181.89" stroke="#111" stroke-width="0.5"/>
<line x1="268.87" y1="182.65" x2="270.40" y2="182.65" stroke="#111" stroke-width="0.5"/>
<line x1="268.13" y1="183.39" x2="270.40" y2="183.39" stroke="#111" stroke-width="0.5"/>
<line x1="267.97" y1="184.02" x2="270.40" y2="184.02" stroke="#111" stroke-width="0.5"/>
<line x1="268.50" y1="184.88" x2="270.40" y2="184.88" stroke="#111" stroke-width="0.5"/>
<line x1="269.17" y1="185.57" x2="270.40" y2="185.57" stroke="#111" stroke-width="0.5"/>
<line x1="267.21" y1="179.24" x2="267.21" y2="181.43" stroke="#333" stroke-width="0.5"/>
<line x1="267.00" y1="181.62" x2="267.00" y2="184.17" stroke="#333" stroke-width="0.5"/>
<line x1="267.44" y1="184.29" x2="267.44" y2="185.65" stroke="#333" stroke-width="0.5"/>
<line x1="257.20" y1="192.20" x2="265.60" y2="192.20" stroke="#333" stroke-width="0.75"/>
<line x1="265.60" y1="187.25" x2="265.60" y2="196.05" stroke="#333" stroke-width="0.75"/>
<line x1="265.60" y1="187.25" x2="268.60" y2="187.25" stroke="#222" stroke-width="0.5"/>
<line x1="265.60" y1="191.78" x2="268.60" y2="191.78" stroke="#222" stroke-width="0.5"/>
<line x1="268.63" y1="187.25" x2="270.40" y2="187.25" stroke="#111" stroke-width="0.5"/>
<line x1="268.31" y1="188.22" x2="270.40" y2="188.22" stroke="#111" stroke-width="0.5"/>
<line x1="268.09" y1="188.81" x2="270.40" y2="188.81" stroke="#111" stroke-width="0.5"/>
<line x1="267.96" y1="189.72" x2="270.40" y2="189.72" stroke="#111" stroke-width="0.5"/>
<line x1="268.99" y1="190.37" x2="270.40" y2="190.37" stroke="#111" stroke-width="0.5"/>
<line x1="268.78" y1="190.90" x2="270.40" y2="190.90" stroke="#111" stroke-width="0.5"/>
<line x1="268.11" y1="191.59" x2="270.40" y2="191.59" stroke="#111" stroke-width="0.5"/>
<line x1="269.00" y1="192.57" x2="270.40" y2="192.57" stroke="#111" stroke-width="0.5"/>
<line x1="267.99" y1="193.17" x2="270.40" y2="193.17" stroke="#111" stroke-width="0.5"/>
<line x1="267.90" y1="193.95" x2="270.40" y2="193.95" stroke="#111" stroke-width="0.5"/>
<line x1="268.26" y1="194.92" x2="270.40" y2="194.92" stroke="#111" stroke-width="0.5"/>
<line x1="267.88" y1="195.58" x2="270.40" y2="195.58" stroke="#111" stroke-width="0.5"/>
<line x1="267.62" y1="188.37" x2="267.62" y2="191.62" stroke="#333" stroke-width="0.5"/>
<line x1="267.53" y1="194.47" x2="267.53" y2="196.05" stroke="#333" stroke-width="0.5"/>
<line x1="268.24" y1="191.11" x2="268.24" y2="193.48" stroke="#333" stroke-width="0.5"/>
<line x1="258.90" y1="201.50" x2="265.67" y2="201.50" stroke="#333" stroke-width="0.75"/>
<line x1="265.67" y1="197.65" x2="265.67" y2="205.25" stroke="#333" stroke-width="0.75"/>
<line x1="265.67" y1="197.65" x2="268.60" y2="197.65" stroke="#222" stroke-width="0.5"/>
<line x1="265.67" y1="201.87" x2="268.60" y2="201.87" stroke="#222" stroke-width="0.5"/>
<line x1="268.15" y1="197.65" x2="270.40" y2="197.65" stroke="#111" stroke-width="0.5"/>
<line x1="267.94" y1="198.22" x2="270.40" y2="198.22" stroke="#111" stroke-width="0.5"/>
<line x1="269.08" y1="199.04" x2="270.40" y2="199.04" stroke="#111" stroke-width="0.5"/>
<line x1="268.17" y1="200.03" x2="270.40" y2="200.03" stroke="#111" stroke-width="0.5"/>
<line x1="267.92" y1="200.64" x2="270.40" y2="200.64" stroke="#111" stroke-width="0.5"/>
<line x1="268.95" y1="201.19" x2="270.40" y2="201.19" stroke="#111" stroke-width="0.5"/>
<line x1="268.32" y1="201.86" x2="270.40" y2="201.86" stroke="#111" stroke-width="0.5"/>
<line x1="268.78" y1="202.46" x2="270.40" y2="202.46" stroke="#111" stroke-width="0.5"/>
<line x1="269.13" y1="203.05" x2="270.40" y2="203.05" stroke="#111" stroke-width="0.5"/>
<line x1="269.10" y1="203.57" x2="270.40" y2="203.57" stroke="#111" stroke-width="0.5"/>
<line x1="268.42" y1="204.27" x2="270.40" y2="204.27" stroke="#111" stroke-width="0.5"/>
<line x1="268.13" y1="205.02" x2="270.40" y2="205.02" stroke="#111" stroke-width="0.5"/>
<line x1="267.54" y1="201.79" x2="267.54" y2="205.25" stroke="#333" stroke-width="0.5"/>
<line x1="267.82" y1="204.02" x2="267.82" y2="205.25" stroke="#333" stroke-width="0.5"/>
<line x1="267.10" y1="199.26" x2="267.10" y2="202.04" stroke="#333" stroke-width="0.5"/>
<line x1="258.90" y1="210.60" x2="264.80" y2="210.60" stroke="#333" stroke-width="0.75"/>
<line x1="264.80" y1="206.85" x2="264.80" y2="213.00" stroke="#333" stroke-width="0.75"/>
<line x1="264.80" y1="206.85" x2="268.60" y2="206.85" stroke="#222" stroke-width="0.5"/>
<line x1="264.80" y1="212.54" x2="268.60" y2="212.54" stroke="#222" stroke-width="0.5"/>
<line x1="268.34" y1="206.85" x2="270.40" y2="206.85" stroke="#111" stroke-width="0.5"/>
<line x1="268.24" y1="207.55" x2="270.40" y2="207.55" stroke="#111" stroke-width="0.5"/>
<line x1="268.49" y1="208.41" x2="270.40" y2="208.41" stroke="#111" stroke-width="0.5"/>
<line x1="268.29" y1="209.30" x2="270.40" y2="209.30" stroke="#111" stroke-width="0.5"/>
<line x1="268.97" y1="210.22" x2="270.40" y2="210.22" stroke="#111" stroke-width="0.5"/>
<line x1="269.11" y1="210.92" x2="270.40" y2="210.92" stroke="#111" stroke-width="0.5"/>
<line x1="268.11" y1="211.89" x2="270.40" y2="211.89" stroke="#111" stroke-width="0.5"/>
<line x1="269.02" y1="212.66" x2="270.40" y2="212.66" stroke="#111" stroke-width="0.5"/>
<line x1="268.24" y1="208.71" x2="268.24" y2="212.27" stroke="#333" stroke-width="0.5"/>
<line x1="267.25" y1="212.66" x2="267.25" y2="213.00" stroke="#333" stroke-width="0.5"/>
<line x1="267.26" y1="206.93" x2="267.26" y2="209.97" stroke="#333" stroke-width="0.5"/>
<line x1="260.80" y1="217.00" x2="265.50" y2="217.00" stroke="#333" stroke-width="0.75"/>
<line x1="265.50" y1="214.60" x2="265.50" y2="218.95" stroke="#333" stroke-width="0.75"/>
<line x1="265.50" y1="214.60" x2="268.60" y2="214.60" stroke="#222" stroke-width="0.5"/>
<line x1="265.50" y1="218.49" x2="268.60" y2="218.49" stroke="#222" stroke-width="0.5"/>
<line x1="268.39" y1="214.60" x2="270.40" y2="214.60" stroke="#111" stroke-width="0.5"/>
<line x1="268.12" y1="215.36" x2="270.40" y2="215.36" stroke="#111" stroke-width="0.5"/>
<line x1="268.55" y1="216.23" x2="270.40" y2="216.23" stroke="#111" stroke-width="0.5"/>
<line x1="269.12" y1="216.80" x2="270.40" y2="216.80" stroke="#111" stroke-width="0.5"/>
<line x1="267.99" y1="217.44" x2="270.40" y2="217.44" stroke="#111" stroke-width="0.5"/>
<line x1="268.39" y1="218.30" x2="270.40" y2="218.30" stroke="#111" stroke-width="0.5"/>
<line x1="267.35" y1="217.01" x2="267.35" y2="218.95" stroke="#333" stroke-width="0.5"/>
<line x1="268.25" y1="215.31" x2="268.25" y2="217.09" stroke="#333" stroke-width="0.5"/>
<line x1="267.46" y1="215.27" x2="267.46" y2="218.75" stroke="#333" stroke-width="0.5"/>
<line x1="260.80" y1="222.50" x2="264.98" y2="222.50" stroke="#333" stroke-width="0.75"/>
<line x1="264.98" y1="220.55" x2="264.98" y2="223.70" stroke="#333" stroke-width="0.75"/>
<line x1="264.98" y1="220.55" x2="268.60" y2="220.55" stroke="#222" stroke-width="0.5"/>
<line x1="267.92" y1="220.55" x2="270.40" y2="220.55" stroke="#111" stroke-width="0.5"/>
<line x1="268.31" y1="221.19" x2="270.40" y2="221.19" stroke="#111" stroke-width="0.5"/>
<line x1="268.10" y1="221.82" x2="270.40" y2="221.82" stroke="#111" stroke-width="0.5"/>
<line x1="268.81" y1="222.46" x2="270.40" y2="222.46" stroke="#111" stroke-width="0.5"/>
<line x1="268.51" y1="223.02" x2="270.40" y2="223.02" stroke="#111" stroke-width="0.5"/>
<line x1="266.54" y1="223.13" x2="266.54" y2="223.70" stroke="#333" stroke-width="0.5"/>
<line x1="266.99" y1="220.73" x2="266.99" y2="222.42" stroke="#333" stroke-width="0.5"/>
<line x1="268.25" y1="220.68" x2="268.25" y2="223.70" stroke="#333" stroke-width="0.5"/>
<line x1="262.50" y1="226.50" x2="265.55" y2="226.50" stroke="#333" stroke-width="0.75"/>
<line x1="265.55" y1="225.30" x2="265.55" y2="226.95" stroke="#333" stroke-width="0.75"/>
<line x1="265.55" y1="225.30" x2="268.60" y2="225.30" stroke="#222" stroke-width="0.5"/>
<line x1="268.43" y1="225.30" x2="270.40" y2="225.30" stroke="#111" stroke-width="0.5"/>
<line x1="268.45" y1="226.03" x2="270.40" y2="226.03" stroke="#111" stroke-width="0.5"/>
<line x1="267.94" y1="226.90" x2="270.40" y2="226.90" stroke="#111" stroke-width="0.5"/>
<line x1="267.49" y1="225.99" x2="267.49" y2="226.95" stroke="#333" stroke-width="0.5"/>
<line x1="267.29" y1="226.90" x2="267.29" y2="226.95" stroke="#333" stroke-width="0.5"/>
<line x1="268.34" y1="225.33" x2="268.34" y2="226.95" stroke="#333" stroke-width="0.5"/>
<line x1="262.50" y1="229.00" x2="264.44" y2="229.00" stroke="#333" stroke-width="0.75"/>
<line x1="264.44" y1="228.55" x2="264.44" y2="230.70" stroke="#333" stroke-width="0.75"/>
<line x1="264.44" y1="228.55" x2="268.60" y2="228.55" stroke="#222" stroke-width="0.5"/>
<line x1="268.39" y1="228.55" x2="270.40" y2="228.55" stroke="#111" stroke-width="0.5"/>
<line x1="267.99" y1="229.50" x2="270.40" y2="229.50" stroke="#111" stroke-width="0.5"/>
<line x1="268.91" y1="230.26" x2="270.40" y2="230.26" stroke="#111" stroke-width="0.5"/>
<line x1="267.94" y1="230.70" x2="267.94" y2="230.70" stroke="#333" stroke-width="0.5"/>
<line x1="267.00" y1="229.25" x2="267.00" y2="230.70" stroke="#333" stroke-width="0.5"/>
<line x1="268.00" y1="230.66" x2="268.00" y2="230.70" stroke="#333" stroke-width="0.5"/>
<defs><linearGradient id="ck" x1="0" y1="0" x2="0" y2="1"><stop offset="0" stop-color="#ff0000"/><stop offset="0.5" stop-color="#ffffff"/><stop offset="1" stop-color="#00ee00"/></linearGradient></defs>
<rect x="396.90" y="22.80" width="6.10" height="95.90" fill="url(#ck)"/>
<text x="405.00" y="33.99" font-size="4.8" text-anchor="start" fill="#111" stroke="#111" stroke-width="0.15">3</text>
<text x="405.00" y="46.76" font-size="4.8" text-anchor="start" fill="#111" stroke="#111" stroke-width="0.15">2</text>
<text x="405.00" y="59.53" font-size="4.8" text-anchor="start" fill="#111" stroke="#111" stroke-width="0.15">1</text>
<text x="405.00" y="72.30" font-size="4.8" text-anchor="start" fill="#111" stroke="#111" stroke-width="0.15">0</text>
<text x="404.30" y="85.07" font-size="4.8" text-anchor="start" fill="#111" stroke="#111" stroke-width="0.15">-1</text>
<text x="404.30" y="97.84" font-size="4.8" text-anchor="start" fill="#111" stroke="#111" stroke-width="0.15">-2</text>
<text x="404.30" y="110.61" font-size="4.8" text-anchor="start" fill="#111" stroke="#111" stroke-width="0.15">-3</text>
<text x="420.30" y="8.50" font-size="9.8" text-anchor="start" fill="#000" font-weight="bold">d</text>
<text x="442.00" y="10.00" font-size="5.0" text-anchor="start" fill="#777" textLength="34.50" lengthAdjust="spacingAndGlyphs">Chromosome 9</text>
<defs><clipPath id="ideo"><rect x="489.5" y="4.1" width="178.39999999999998" height="7.800000000000001" rx="3.2" ry="3.9"/></clipPath></defs>
<g clip-path="url(#ideo)">
<rect x="489.50" y="4.10" width="178.40" height="7.80" fill="#fff"/>
<rect x="489.50" y="4.10" width="5.30" height="7.80" fill="#d0d0d0"/>
<rect x="500.70" y="4.10" width="6.50" height="7.80" fill="#555"/>
<rect x="509.20" y="4.10" width="2.30" height="7.80" fill="#bbb"/>
<rect x="515.00" y="4.10" width="7.00" height="7.80" fill="#000"/>
<rect x="525.30" y="4.10" width="5.90" height="7.80" fill="#000"/>
<rect x="535.20" y="4.10" width="2.90" height="7.80" fill="#c8c8c8"/>
<rect x="541.00" y="4.10" width="3.60" height="7.80" fill="#888"/>
<rect x="553.50" y="4.10" width="18.50" height="7.80" fill="#000"/>
<rect x="575.60" y="4.10" width="4.00" height="7.80" fill="#c0c0c0"/>
<rect x="583.10" y="4.10" width="5.30" height="7.80" fill="#888"/>
<rect x="591.80" y="4.10" width="3.50" height="7.80" fill="#999"/>
<rect x="598.90" y="4.10" width="3.90" height="7.80" fill="#888"/>
<rect x="605.60" y="4.10" width="3.10" height="7.80" fill="#ccc"/>
<rect x="611.10" y="4.10" width="3.90" height="7.80" fill="#ccc"/>
<rect x="619.00" y="4.10" width="6.30" height="7.80" fill="#000"/>
<rect x="629.80" y="4.10" width="4.00" height="7.80" fill="#c0c0c0"/>
<rect x="637.70" y="4.10" width="5.30" height="7.80" fill="#444"/>
<rect x="647.60" y="4.10" width="4.90" height="7.80" fill="#c8c8c8"/>
<rect x="654.50" y="4.10" width="2.90" height="7.80" fill="#ccc"/>
<rect x="660.40" y="4.10" width="2.90" height="7.80" fill="#ccc"/>
<rect x="548.90" y="3.60" width="5.10" height="8.80" fill="#fff"/>
<polygon points="548.9,4.1 548.9,11.9 551.4,8.0" fill="#a82828"/>
<polygon points="554.0,4.1 554.0,11.9 551.4,8.0" fill="#a82828"/>
</g>
<rect x="489.5" y="4.1" width="178.39999999999998" height="7.800000000000001" rx="3.2" ry="3.9" fill="none" stroke="#888" stroke-width="0.5"/>
<rect x="549.20" y="3.50" width="4.50" height="1.00" fill="#fff"/>
<rect x="549.20" y="11.50" width="4.50" height="1.00" fill="#fff"/>
<line x1="665.60" y1="0.00" x2="665.60" y2="16.00" stroke="#e33" stroke-width="0.6"/>
<line x1="444.60" y1="28.70" x2="664.90" y2="28.70" stroke="#cdcdcd" stroke-width="2.4"/>
<line x1="503.50" y1="25.90" x2="503.50" y2="27.60" stroke="#777" stroke-width="0.5"/>
<line x1="611.50" y1="25.90" x2="611.50" y2="27.60" stroke="#777" stroke-width="0.5"/>
<line x1="557.30" y1="29.80" x2="557.30" y2="31.60" stroke="#777" stroke-width="0.5"/>
<line x1="444.60" y1="29.50" x2="446.60" y2="30.60" stroke="#aaa" stroke-width="0.6"/>
<line x1="664.90" y1="28.00" x2="662.90" y2="26.90" stroke="#aaa" stroke-width="0.6"/>
<text x="503.40" y="24.60" font-size="5.0" text-anchor="middle" fill="#666" textLength="29.10" lengthAdjust="spacingAndGlyphs">139.6995 mb</text>
<text x="611.90" y="24.60" font-size="5.0" text-anchor="middle" fill="#666" textLength="30.00" lengthAdjust="spacingAndGlyphs">139.7005 mb</text>
<text x="557.30" y="35.60" font-size="5.0" text-anchor="middle" fill="#666" textLength="20.70" lengthAdjust="spacingAndGlyphs">139.7 mb</text>
<text x="519.00" y="49.70" font-size="8.7" text-anchor="start" fill="#111" textLength="38.70" lengthAdjust="spacingAndGlyphs">#Chr9_449</text>
<rect x="560.10" y="44.10" width="6.90" height="5.70" fill="#cc0033"/>
<rect x="424.40" y="53.30" width="18.40" height="44.80" fill="#d6d6d6"/>
<text x="428.50" y="75.70" font-size="3.6" text-anchor="middle" fill="#fff" transform="rotate(-90 428.50 75.70)">Adrenal</text>
<rect x="424.40" y="98.90" width="18.40" height="44.20" fill="#d6d6d6"/>
<text x="428.50" y="121.00" font-size="3.6" text-anchor="middle" fill="#fff" transform="rotate(-90 428.50 121.00)">Brain</text>
<rect x="424.40" y="143.90" width="18.40" height="44.20" fill="#d6d6d6"/>
<text x="428.50" y="166.00" font-size="3.6" text-anchor="middle" fill="#fff" transform="rotate(-90 428.50 166.00)">Breast</text>
<rect x="424.40" y="188.90" width="18.40" height="43.30" fill="#d6d6d6"/>
<text x="428.50" y="210.55" font-size="3.6" text-anchor="middle" fill="#fff" transform="rotate(-90 428.50 210.55)">Lymph</text>
<rect x="424.40" y="233.00" width="18.40" height="14.60" fill="#d6d6d6"/>
<text x="433.40" y="240.30" font-size="3.6" text-anchor="middle" fill="#fff" transform="rotate(-90 433.40 240.30)">DNase</text>
<rect x="424.40" y="248.40" width="18.40" height="14.10" fill="#d6d6d6"/>
<text x="433.40" y="255.45" font-size="3.6" text-anchor="middle" fill="#fff" transform="rotate(-90 433.40 255.45)">CpG</text>
<text x="438.60" y="59.05" font-size="3.5" text-anchor="end" fill="#fff" stroke="#fff" stroke-width="0.12">100</text>
<line x1="439.50" y1="57.80" x2="441.30" y2="57.80" stroke="#fff" stroke-width="0.4"/>
<text x="438.60" y="66.53" font-size="3.5" text-anchor="end" fill="#fff" stroke="#fff" stroke-width="0.12">80</text>
<line x1="439.50" y1="65.28" x2="441.30" y2="65.28" stroke="#fff" stroke-width="0.4"/>
<text x="438.60" y="74.01" font-size="3.5" text-anchor="end" fill="#fff" stroke="#fff" stroke-width="0.12">60</text>
<line x1="439.50" y1="72.76" x2="441.30" y2="72.76" stroke="#fff" stroke-width="0.4"/>
<text x="438.60" y="81.49" font-size="3.5" text-anchor="end" fill="#fff" stroke="#fff" stroke-width="0.12">40</text>
<line x1="439.50" y1="80.24" x2="441.30" y2="80.24" stroke="#fff" stroke-width="0.4"/>
<text x="438.60" y="88.97" font-size="3.5" text-anchor="end" fill="#fff" stroke="#fff" stroke-width="0.12">20</text>
<line x1="439.50" y1="87.72" x2="441.30" y2="87.72" stroke="#fff" stroke-width="0.4"/>
<text x="438.60" y="96.45" font-size="3.5" text-anchor="end" fill="#fff" stroke="#fff" stroke-width="0.12">0</text>
<line x1="439.50" y1="95.20" x2="441.30" y2="95.20" stroke="#fff" stroke-width="0.4"/>
<text x="438.60" y="103.95" font-size="3.5" text-anchor="end" fill="#fff" stroke="#fff" stroke-width="0.12">100</text>
<line x1="439.50" y1="102.70" x2="441.30" y2="102.70" stroke="#fff" stroke-width="0.4"/>
<text x="438.60" y="111.33" font-size="3.5" text-anchor="end" fill="#fff" stroke="#fff" stroke-width="0.12">80</text>
<line x1="439.50" y1="110.08" x2="441.30" y2="110.08" stroke="#fff" stroke-width="0.4"/>
<text x="438.60" y="118.71" font-size="3.5" text-anchor="end" fill="#fff" stroke="#fff" stroke-width="0.12">60</text>
<line x1="439.50" y1="117.46" x2="441.30" y2="117.46" stroke="#fff" stroke-width="0.4"/>
<text x="438.60" y="126.09" font-size="3.5" text-anchor="end" fill="#fff" stroke="#fff" stroke-width="0.12">40</text>
<line x1="439.50" y1="124.84" x2="441.30" y2="124.84" stroke="#fff" stroke-width="0.4"/>
<text x="438.60" y="133.47" font-size="3.5" text-anchor="end" fill="#fff" stroke="#fff" stroke-width="0.12">20</text>
<line x1="439.50" y1="132.22" x2="441.30" y2="132.22" stroke="#fff" stroke-width="0.4"/>
<text x="438.60" y="140.85" font-size="3.5" text-anchor="end" fill="#fff" stroke="#fff" stroke-width="0.12">0</text>
<line x1="439.50" y1="139.60" x2="441.30" y2="139.60" stroke="#fff" stroke-width="0.4"/>
<text x="438.60" y="148.95" font-size="3.5" text-anchor="end" fill="#fff" stroke="#fff" stroke-width="0.12">100</text>
<line x1="439.50" y1="147.70" x2="441.30" y2="147.70" stroke="#fff" stroke-width="0.4"/>
<text x="438.60" y="156.31" font-size="3.5" text-anchor="end" fill="#fff" stroke="#fff" stroke-width="0.12">80</text>
<line x1="439.50" y1="155.06" x2="441.30" y2="155.06" stroke="#fff" stroke-width="0.4"/>
<text x="438.60" y="163.67" font-size="3.5" text-anchor="end" fill="#fff" stroke="#fff" stroke-width="0.12">60</text>
<line x1="439.50" y1="162.42" x2="441.30" y2="162.42" stroke="#fff" stroke-width="0.4"/>
<text x="438.60" y="171.03" font-size="3.5" text-anchor="end" fill="#fff" stroke="#fff" stroke-width="0.12">40</text>
<line x1="439.50" y1="169.78" x2="441.30" y2="169.78" stroke="#fff" stroke-width="0.4"/>
<text x="438.60" y="178.39" font-size="3.5" text-anchor="end" fill="#fff" stroke="#fff" stroke-width="0.12">20</text>
<line x1="439.50" y1="177.14" x2="441.30" y2="177.14" stroke="#fff" stroke-width="0.4"/>
<text x="438.60" y="185.75" font-size="3.5" text-anchor="end" fill="#fff" stroke="#fff" stroke-width="0.12">0</text>
<line x1="439.50" y1="184.50" x2="441.30" y2="184.50" stroke="#fff" stroke-width="0.4"/>
<text x="438.60" y="193.95" font-size="3.5" text-anchor="end" fill="#fff" stroke="#fff" stroke-width="0.12">100</text>
<line x1="439.50" y1="192.70" x2="441.30" y2="192.70" stroke="#fff" stroke-width="0.4"/>
<text x="438.60" y="201.25" font-size="3.5" text-anchor="end" fill="#fff" stroke="#fff" stroke-width="0.12">80</text>
<line x1="439.50" y1="200.00" x2="441.30" y2="200.00" stroke="#fff" stroke-width="0.4"/>
<text x="438.60" y="208.55" font-size="3.5" text-anchor="end" fill="#fff" stroke="#fff" stroke-width="0.12">60</text>
<line x1="439.50" y1="207.30" x2="441.30" y2="207.30" stroke="#fff" stroke-width="0.4"/>
<text x="438.60" y="215.85" font-size="3.5" text-anchor="end" fill="#fff" stroke="#fff" stroke-width="0.12">40</text>
<line x1="439.50" y1="214.60" x2="441.30" y2="214.60" stroke="#fff" stroke-width="0.4"/>
<text x="438.60" y="223.15" font-size="3.5" text-anchor="end" fill="#fff" stroke="#fff" stroke-width="0.12">20</text>
<line x1="439.50" y1="221.90" x2="441.30" y2="221.90" stroke="#fff" stroke-width="0.4"/>
<text x="438.60" y="230.45" font-size="3.5" text-anchor="end" fill="#fff" stroke="#fff" stroke-width="0.12">0</text>
<line x1="439.50" y1="229.20" x2="441.30" y2="229.20" stroke="#fff" stroke-width="0.4"/>
<line x1="443.30" y1="95.40" x2="683.00" y2="95.40" stroke="#cfcfcf" stroke-width="0.8"/>
<polygon points="443.30,95.10 443.60,89.30 444.50,93.00 445.20,95.10" fill="#a0e0c6" stroke="#6a9a88" stroke-width="0.45" stroke-linejoin="round"/>
<polygon points="454.60,95.10 456.50,93.70 459.20,95.10" fill="#a0e0c6" stroke="#6a9a88" stroke-width="0.45" stroke-linejoin="round"/>
<polygon points="471.00,95.10 473.00,92.50 475.50,92.00 477.40,95.10" fill="#a0e0c6" stroke="#6a9a88" stroke-width="0.45" stroke-linejoin="round"/>
<polygon points="490.00,95.10 492.50,92.50 494.50,92.00 496.60,95.10" fill="#a0e0c6" stroke="#6a9a88" stroke-width="0.45" stroke-linejoin="round"/>
<polygon points="501.00,95.10 504.00,91.50 506.00,89.70 508.00,90.50 510.00,90.50 512.00,89.70 514.00,95.10" fill="#a0e0c6" stroke="#6a9a88" stroke-width="0.45" stroke-linejoin="round"/>
<polygon points="520.30,95.10 522.00,93.00 524.90,95.10" fill="#a0e0c6" stroke="#6a9a88" stroke-width="0.45" stroke-linejoin="round"/>
<polygon points="545.80,95.10 548.00,88.00 550.00,79.00 551.80,73.20 553.50,77.00 555.50,82.40 557.90,82.40 559.00,86.00 561.00,90.60 563.00,87.00 564.60,84.20 566.50,86.00 568.50,89.00 570.10,95.10" fill="#a0e0c6" stroke="#6a9a88" stroke-width="0.45" stroke-linejoin="round"/>
<polygon points="577.40,95.10 580.00,94.20 582.00,95.10" fill="#a0e0c6" stroke="#6a9a88" stroke-width="0.45" stroke-linejoin="round"/>
<polygon points="583.80,95.10 586.00,93.30 588.40,95.10" fill="#a0e0c6" stroke="#6a9a88" stroke-width="0.45" stroke-linejoin="round"/>
<polygon points="594.00,95.10 596.00,94.50 598.00,95.10" fill="#a0e0c6" stroke="#6a9a88" stroke-width="0.45" stroke-linejoin="round"/>
<line x1="443.30" y1="140.40" x2="683.00" y2="140.40" stroke="#cfcfcf" stroke-width="0.8"/>
<polygon points="493.00,140.10 495.00,138.60 498.00,138.30 503.00,138.80 504.00,140.10" fill="#fdaaa8" stroke="#a87878" stroke-width="0.45" stroke-linejoin="round"/>
<polygon points="506.60,140.10 509.00,138.20 511.00,137.80 513.00,140.10" fill="#fdaaa8" stroke="#a87878" stroke-width="0.45" stroke-linejoin="round"/>
<polygon points="546.80,140.10 549.00,132.00 551.00,125.00 552.30,121.90 553.50,124.00 554.60,127.40 557.30,127.40 559.00,132.00 561.20,138.30 563.50,137.00 565.50,133.50 567.40,131.00 569.00,134.00 570.10,140.10" fill="#fdaaa8" stroke="#a87878" stroke-width="0.45" stroke-linejoin="round"/>
<polygon points="575.60,140.10 577.00,138.50 582.00,138.80 585.00,138.00 589.30,140.10" fill="#fdaaa8" stroke="#a87878" stroke-width="0.45" stroke-linejoin="round"/>
<polygon points="591.00,140.10 593.00,136.00 595.00,134.70 597.00,135.50 598.00,140.10" fill="#fdaaa8" stroke="#a87878" stroke-width="0.45" stroke-linejoin="round"/>
<polygon points="644.00,140.10 646.00,139.50 649.50,140.10" fill="#fdaaa8" stroke="#a87878" stroke-width="0.45" stroke-linejoin="round"/>
<line x1="443.30" y1="185.40" x2="683.00" y2="185.40" stroke="#cfcfcf" stroke-width="0.8"/>
<polygon points="443.60,185.10 444.00,184.20 451.90,184.20 452.20,185.10" fill="#8cc3da" stroke="#5c8aa0" stroke-width="0.45" stroke-linejoin="round"/>
<polygon points="546.80,185.10 549.50,177.00 551.50,170.00 552.80,167.80 554.50,170.50 556.50,175.00 558.20,177.80 562.00,177.50 565.20,179.30 567.00,177.50 568.80,176.00 570.50,179.00 572.80,184.20 574.50,184.50 576.50,183.50 579.20,180.20 581.00,180.80 582.90,180.50 585.00,182.50 587.40,180.60 589.00,181.00 591.10,180.60 593.00,179.50 594.70,178.40 596.50,181.00 598.40,185.10" fill="#8cc3da" stroke="#5c8aa0" stroke-width="0.45" stroke-linejoin="round"/>
<line x1="443.30" y1="230.40" x2="683.00" y2="230.40" stroke="#cfcfcf" stroke-width="0.8"/>
<polygon points="532.20,230.10 534.00,228.50 536.70,230.10" fill="#dbe9b6" stroke="#98a880" stroke-width="0.45" stroke-linejoin="round"/>
<polygon points="541.30,230.10 541.80,229.20 545.00,226.50 547.30,223.80 548.50,218.00 550.00,208.20 551.00,206.00 551.90,204.60 553.00,206.50 554.50,202.00 555.50,199.50 556.50,203.00 558.20,213.70 560.00,216.50 561.90,218.80 563.50,216.50 564.60,215.50 566.00,209.00 567.00,205.00 568.00,207.30 568.80,207.30 570.10,206.40 571.50,210.00 572.80,213.70 574.50,217.00 576.50,220.10 577.50,217.00 578.70,215.50 580.00,217.00 581.10,218.30 582.90,223.80 585.00,224.00 587.40,224.70 589.50,223.80 591.50,223.40 592.90,226.50 595.70,229.20 596.50,230.10" fill="#dbe9b6" stroke="#98a880" stroke-width="0.45" stroke-linejoin="round"/>
<polygon points="676.80,230.10 679.00,229.30 681.30,230.10" fill="#dbe9b6" stroke="#98a880" stroke-width="0.45" stroke-linejoin="round"/>
<line x1="443.30" y1="53.50" x2="684.50" y2="53.50" stroke="#555" stroke-width="0.9"/>
<line x1="443.30" y1="97.90" x2="685.00" y2="97.90" stroke="#5a5a5a" stroke-width="2.0"/>
<line x1="443.30" y1="142.90" x2="685.00" y2="142.90" stroke="#5a5a5a" stroke-width="2.0"/>
<line x1="443.30" y1="187.90" x2="685.00" y2="187.90" stroke="#5a5a5a" stroke-width="2.0"/>
<line x1="443.30" y1="232.20" x2="685.00" y2="232.20" stroke="#444" stroke-width="1.3"/>
<line x1="443.30" y1="247.40" x2="685.00" y2="247.40" stroke="#555" stroke-width="1.0"/>
<line x1="443.30" y1="262.20" x2="685.00" y2="262.20" stroke="#bbb" stroke-width="0.8"/>
<line x1="684.10" y1="53.50" x2="684.10" y2="262.20" stroke="#888" stroke-width="1.0"/>
<rect x="489.80" y="236.30" width="13.20" height="7.30" fill="#0f74ee"/>
<rect x="503.90" y="236.30" width="12.70" height="7.30" fill="#0f74ee"/>
<rect x="522.10" y="236.30" width="68.60" height="7.30" fill="#0f74ee"/>
<rect x="594.70" y="236.30" width="17.30" height="7.30" fill="#0f74ee"/>
<rect x="617.50" y="236.30" width="30.10" height="7.30" fill="#0f74ee"/>
<rect x="663.60" y="236.30" width="14.10" height="7.30" fill="#0f74ee"/>
<rect x="548.00" y="251.50" width="64.40" height="7.30" fill="#19f07c"/>
<rect x="560.10" y="50.30" width="6.80" height="212.00" fill="#f0a0b4" fill-opacity="0.28"/>
</svg></body></html>
